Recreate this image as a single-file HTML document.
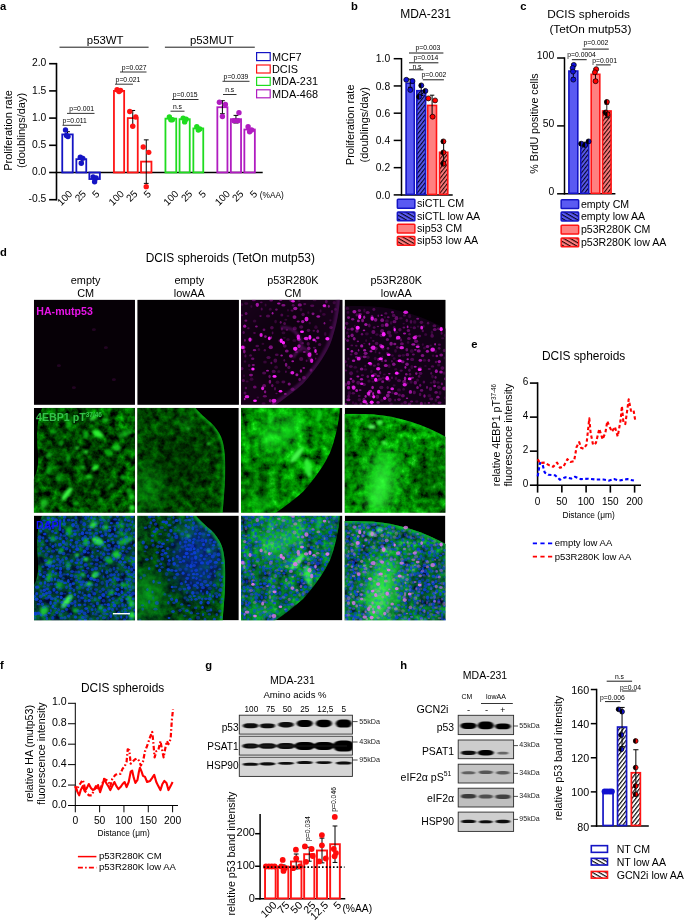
<!DOCTYPE html>
<html><head><meta charset="utf-8"><title>Figure</title>
<style>
html,body{margin:0;padding:0;background:#fff;}
svg{display:block;font-family:"Liberation Sans", sans-serif;}
</style></head><body>
<svg width="685" height="924" viewBox="0 0 685 924">
<defs>
<pattern id="hb" width="3.0" height="3.0" patternUnits="userSpaceOnUse" patternTransform="rotate(-52)"><rect width="3.0" height="3.0" fill="#5a5af2"/><rect width="3.0" height="1.15" fill="#06062a"/></pattern>
<pattern id="hr" width="3.0" height="3.0" patternUnits="userSpaceOnUse" patternTransform="rotate(-52)"><rect width="3.0" height="3.0" fill="#ff8080"/><rect width="3.0" height="1.15" fill="#2a0606"/></pattern>
<pattern id="hbl" width="3.3" height="3.3" patternUnits="userSpaceOnUse" patternTransform="rotate(30)"><rect width="3.3" height="3.3" fill="#5a5af2"/><rect width="3.3" height="1.15" fill="#06062a"/></pattern>
<pattern id="hrl" width="3.3" height="3.3" patternUnits="userSpaceOnUse" patternTransform="rotate(30)"><rect width="3.3" height="3.3" fill="#ff8080"/><rect width="3.3" height="1.15" fill="#2a0606"/></pattern>
<pattern id="hw" width="3.1" height="3.1" patternUnits="userSpaceOnUse" patternTransform="rotate(-52)"><rect width="3.1" height="3.1" fill="#fff"/><rect width="3.1" height="1.2" fill="#111"/></pattern>
<pattern id="hwl" width="3.3" height="3.3" patternUnits="userSpaceOnUse" patternTransform="rotate(30)"><rect width="3.3" height="3.3" fill="#fff"/><rect width="3.3" height="1.2" fill="#111"/></pattern>
<clipPath id="sh0"><path d="M9,-1 C4,8 2,25 4,45 C5,58 3,66 -1,72 L-1,107 L103,107 L103,-1 Z"/></clipPath><clipPath id="tc0"><rect x="0" y="0" width="101.0" height="106"/></clipPath><clipPath id="sh1"><path d="M-1,-1 L57,-1 C62,5 69,11 73.5,15 C78,19 82,25 84,30 C86.5,36 87.6,45 88,58 C88,75 86.5,90 85,107 L-1,107 Z"/></clipPath><clipPath id="tc1"><rect x="0" y="0" width="101.4" height="106"/></clipPath><clipPath id="sh2"><path d="M-1,-1 L99,-1 C98,15 94,32 89,45 C83,58 72,73 62,84 C52,93 42,100 32,107 L-1,107 Z"/></clipPath><clipPath id="tc2"><rect x="0" y="0" width="101.4" height="106"/></clipPath><clipPath id="sh3"><path d="M-1,6 C15,6 28,6.5 37,7.5 C48,9 58,11.5 66,14 C80,18.5 92,24 103,30 L103,107 L-1,107 Z"/></clipPath><clipPath id="tc3"><rect x="0" y="0" width="100.7" height="106"/></clipPath><filter id="gt0" x="0" y="0" width="100%" height="100%" filterUnits="objectBoundingBox" color-interpolation-filters="sRGB"><feTurbulence type="fractalNoise" baseFrequency="0.12" numOctaves="4" seed="7"/><feColorMatrix type="matrix" values="1.25 0 0 0 -0.3  1.25 0 0 0 -0.3  1.25 0 0 0 -0.3  0 0 0 0 1"/><feComponentTransfer><feFuncR type="table" tableValues="0 0 0 0.01 0.05 0.2"/><feFuncG type="table" tableValues="0 0.2 0.4 0.6 0.8 1"/><feFuncB type="table" tableValues="0 0 0 0.01 0.05 0.2"/></feComponentTransfer></filter><filter id="gt1" x="0" y="0" width="100%" height="100%" filterUnits="objectBoundingBox" color-interpolation-filters="sRGB"><feTurbulence type="fractalNoise" baseFrequency="0.14" numOctaves="4" seed="21"/><feColorMatrix type="matrix" values="0.75 0 0 0 -0.1  0.75 0 0 0 -0.1  0.75 0 0 0 -0.1  0 0 0 0 1"/><feComponentTransfer><feFuncR type="table" tableValues="0 0 0 0.01 0.05 0.2"/><feFuncG type="table" tableValues="0 0.2 0.4 0.6 0.8 1"/><feFuncB type="table" tableValues="0 0 0 0.01 0.05 0.2"/></feComponentTransfer></filter><filter id="gt2" x="0" y="0" width="100%" height="100%" filterUnits="objectBoundingBox" color-interpolation-filters="sRGB"><feTurbulence type="fractalNoise" baseFrequency="0.11" numOctaves="4" seed="33"/><feColorMatrix type="matrix" values="1.3 0 0 0 -0.17  1.3 0 0 0 -0.17  1.3 0 0 0 -0.17  0 0 0 0 1"/><feComponentTransfer><feFuncR type="table" tableValues="0 0 0 0.01 0.05 0.2"/><feFuncG type="table" tableValues="0 0.3 0.5 0.66 0.82 1"/><feFuncB type="table" tableValues="0 0 0 0.01 0.05 0.2"/></feComponentTransfer></filter><filter id="gt3" x="0" y="0" width="100%" height="100%" filterUnits="objectBoundingBox" color-interpolation-filters="sRGB"><feTurbulence type="fractalNoise" baseFrequency="0.12" numOctaves="4" seed="45"/><feColorMatrix type="matrix" values="1.4 0 0 0 -0.24  1.4 0 0 0 -0.24  1.4 0 0 0 -0.24  0 0 0 0 1"/><feComponentTransfer><feFuncR type="table" tableValues="0 0 0 0.01 0.05 0.2"/><feFuncG type="table" tableValues="0 0.3 0.5 0.66 0.82 1"/><feFuncB type="table" tableValues="0 0 0 0.01 0.05 0.2"/></feComponentTransfer></filter><filter id="bl2" x="-50%" y="-50%" width="200%" height="200%"><feGaussianBlur stdDeviation="0.8"/></filter><filter id="bl4" x="-50%" y="-50%" width="200%" height="200%"><feGaussianBlur stdDeviation="4"/></filter><filter id="bl8" x="-50%" y="-50%" width="200%" height="200%"><feGaussianBlur stdDeviation="9"/></filter><filter id="bl05" x="-20%" y="-20%" width="140%" height="140%"><feGaussianBlur stdDeviation="0.45"/></filter><g id="mn2"><g opacity="0.25"><ellipse cx="62.9" cy="77.9" rx="1.9" ry="1.9"/><ellipse cx="91.0" cy="11.9" rx="1.1" ry="1.6"/><ellipse cx="71.2" cy="6.0" rx="2.1" ry="1.3"/><ellipse cx="85.3" cy="1.9" rx="1.4" ry="1.9"/><ellipse cx="35.8" cy="55.1" rx="1.9" ry="1.2"/><ellipse cx="31.6" cy="33.3" rx="0.9" ry="1.4"/><ellipse cx="40.8" cy="15.4" rx="1.5" ry="1.5"/><ellipse cx="65.6" cy="61.0" rx="1.0" ry="1.2"/><ellipse cx="67.2" cy="44.2" rx="1.6" ry="1.8"/><ellipse cx="16.2" cy="46.3" rx="1.8" ry="1.2"/><ellipse cx="63.7" cy="4.4" rx="1.6" ry="1.1"/><ellipse cx="13.5" cy="33.3" rx="1.4" ry="0.9"/><ellipse cx="40.9" cy="29.2" rx="1.0" ry="1.6"/><ellipse cx="34.3" cy="61.0" rx="1.9" ry="2.1"/><ellipse cx="60.2" cy="59.2" rx="2.1" ry="2.0"/><ellipse cx="35.5" cy="93.8" rx="1.2" ry="0.8"/><ellipse cx="62.1" cy="14.8" rx="1.7" ry="1.8"/><ellipse cx="43.6" cy="23.8" rx="1.4" ry="1.5"/><ellipse cx="60.2" cy="27.3" rx="2.1" ry="1.7"/><ellipse cx="32.2" cy="103.3" rx="1.2" ry="1.6"/><ellipse cx="53.8" cy="28.7" rx="2.0" ry="1.9"/><ellipse cx="27.0" cy="16.3" rx="2.1" ry="1.5"/><ellipse cx="47.9" cy="67.7" rx="1.6" ry="1.7"/><ellipse cx="53.5" cy="48.8" rx="1.5" ry="1.4"/><ellipse cx="78.6" cy="44.9" rx="1.7" ry="1.5"/><ellipse cx="55.5" cy="52.3" rx="1.5" ry="1.0"/><ellipse cx="4.9" cy="88.4" rx="1.2" ry="1.4"/><ellipse cx="61.7" cy="43.5" rx="1.3" ry="1.1"/><ellipse cx="4.0" cy="93.4" rx="1.5" ry="1.6"/><ellipse cx="23.8" cy="50.6" rx="1.2" ry="1.2"/><ellipse cx="67.5" cy="30.6" rx="1.8" ry="1.6"/><ellipse cx="20.3" cy="2.6" rx="1.4" ry="0.9"/><ellipse cx="43.3" cy="60.6" rx="0.9" ry="1.4"/><ellipse cx="9.6" cy="55.7" rx="1.4" ry="1.2"/><ellipse cx="43.8" cy="46.3" rx="1.9" ry="1.8"/><ellipse cx="32.7" cy="71.7" rx="2.0" ry="1.7"/><ellipse cx="2.7" cy="32.8" rx="1.2" ry="1.5"/><ellipse cx="70.0" cy="70.4" rx="1.5" ry="1.7"/><ellipse cx="30.9" cy="28.1" rx="1.8" ry="1.7"/><ellipse cx="23.1" cy="73.2" rx="2.0" ry="1.5"/><ellipse cx="72.8" cy="31.1" rx="1.3" ry="1.0"/><ellipse cx="34.0" cy="89.0" rx="1.0" ry="1.7"/><ellipse cx="7.4" cy="28.5" rx="1.3" ry="1.0"/><ellipse cx="52.2" cy="5.6" rx="1.4" ry="1.4"/><ellipse cx="69.4" cy="53.3" rx="1.2" ry="0.9"/><ellipse cx="2.4" cy="80.8" rx="1.6" ry="1.5"/><ellipse cx="74.7" cy="58.9" rx="0.7" ry="1.2"/><ellipse cx="20.7" cy="9.3" rx="1.0" ry="1.5"/><ellipse cx="42.4" cy="82.3" rx="2.0" ry="1.4"/><ellipse cx="89.9" cy="27.8" rx="1.8" ry="1.5"/><ellipse cx="51.1" cy="10.9" rx="1.6" ry="1.1"/><ellipse cx="27.5" cy="57.8" rx="2.1" ry="1.6"/><ellipse cx="4.4" cy="56.2" rx="1.1" ry="1.6"/><ellipse cx="1.0" cy="68.9" rx="1.5" ry="1.7"/><ellipse cx="44.9" cy="72.0" rx="0.9" ry="1.3"/><ellipse cx="0.7" cy="15.6" rx="1.6" ry="1.0"/><ellipse cx="8.2" cy="65.8" rx="1.3" ry="1.5"/><ellipse cx="51.5" cy="89.6" rx="2.0" ry="1.7"/><ellipse cx="73.4" cy="48.1" rx="1.5" ry="1.0"/><ellipse cx="45.9" cy="30.1" rx="1.2" ry="1.1"/></g><g opacity="0.15"><ellipse cx="93.2" cy="3.0" rx="1.6" ry="1.6"/><ellipse cx="58.0" cy="1.4" rx="1.4" ry="1.0"/><ellipse cx="0.9" cy="4.9" rx="1.3" ry="1.4"/><ellipse cx="24.0" cy="62.4" rx="1.9" ry="1.5"/><ellipse cx="79.6" cy="11.2" rx="1.0" ry="1.6"/><ellipse cx="36.5" cy="82.5" rx="1.9" ry="1.7"/><ellipse cx="35.1" cy="67.6" rx="1.9" ry="1.7"/><ellipse cx="47.0" cy="39.9" rx="1.8" ry="1.5"/><ellipse cx="38.9" cy="41.1" rx="2.0" ry="1.3"/><ellipse cx="83.8" cy="6.9" rx="2.0" ry="1.7"/><ellipse cx="10.9" cy="39.8" rx="0.8" ry="1.3"/><ellipse cx="8.6" cy="70.1" rx="1.3" ry="0.8"/><ellipse cx="3.0" cy="76.1" rx="0.8" ry="1.2"/><ellipse cx="68.8" cy="23.4" rx="1.3" ry="1.3"/><ellipse cx="82.9" cy="14.7" rx="1.8" ry="1.3"/><ellipse cx="47.0" cy="10.5" rx="0.9" ry="1.3"/><ellipse cx="6.1" cy="81.8" rx="1.6" ry="1.0"/><ellipse cx="24.6" cy="5.3" rx="1.0" ry="1.6"/><ellipse cx="5.2" cy="3.9" rx="2.1" ry="1.4"/><ellipse cx="42.5" cy="33.0" rx="1.9" ry="1.5"/><ellipse cx="43.3" cy="38.1" rx="1.5" ry="0.9"/><ellipse cx="10.6" cy="79.6" rx="1.9" ry="1.7"/><ellipse cx="10.4" cy="6.8" rx="1.0" ry="1.4"/><ellipse cx="37.8" cy="71.8" rx="1.6" ry="1.6"/><ellipse cx="50.4" cy="73.2" rx="1.9" ry="1.6"/><ellipse cx="94.3" cy="9.6" rx="1.4" ry="1.5"/><ellipse cx="21.9" cy="44.2" rx="1.4" ry="1.1"/><ellipse cx="67.3" cy="13.0" rx="1.1" ry="1.4"/><ellipse cx="89.4" cy="20.6" rx="1.2" ry="1.1"/><ellipse cx="16.8" cy="97.8" rx="1.3" ry="1.0"/><ellipse cx="53.4" cy="40.8" rx="2.0" ry="1.5"/><ellipse cx="74.9" cy="27.5" rx="1.7" ry="1.9"/><ellipse cx="4.0" cy="61.8" rx="1.2" ry="1.3"/><ellipse cx="47.0" cy="16.3" rx="1.4" ry="1.0"/><ellipse cx="13.6" cy="21.3" rx="1.8" ry="1.6"/><ellipse cx="73.6" cy="0.1" rx="2.0" ry="1.5"/><ellipse cx="34.3" cy="76.8" rx="1.7" ry="1.5"/><ellipse cx="65.8" cy="40.4" rx="1.8" ry="1.2"/><ellipse cx="44.8" cy="20.0" rx="1.5" ry="1.0"/><ellipse cx="84.2" cy="34.2" rx="1.3" ry="2.0"/><ellipse cx="60.0" cy="9.9" rx="1.4" ry="1.9"/><ellipse cx="29.3" cy="9.5" rx="1.4" ry="1.5"/><ellipse cx="34.6" cy="21.9" rx="1.4" ry="1.8"/><ellipse cx="17.9" cy="49.8" rx="1.3" ry="1.5"/><ellipse cx="22.6" cy="103.8" rx="1.9" ry="1.3"/></g><g opacity="0.6"><ellipse cx="77.3" cy="16.8" rx="1.9" ry="1.3"/><ellipse cx="3.7" cy="99.3" rx="0.9" ry="1.3"/><ellipse cx="16.3" cy="5.1" rx="1.7" ry="2.1"/><ellipse cx="76.7" cy="38.2" rx="1.8" ry="1.3"/><ellipse cx="37.8" cy="3.8" rx="1.8" ry="1.1"/><ellipse cx="3.7" cy="26.5" rx="1.6" ry="1.6"/><ellipse cx="40.6" cy="55.8" rx="1.3" ry="0.9"/><ellipse cx="57.7" cy="39.5" rx="1.8" ry="1.6"/><ellipse cx="31.6" cy="13.6" rx="0.9" ry="1.3"/><ellipse cx="58.0" cy="46.4" rx="1.7" ry="1.9"/><ellipse cx="26.5" cy="71.0" rx="1.5" ry="0.9"/><ellipse cx="51.7" cy="61.6" rx="1.4" ry="1.0"/><ellipse cx="59.9" cy="71.3" rx="1.2" ry="1.7"/><ellipse cx="61.7" cy="21.9" rx="1.7" ry="1.6"/><ellipse cx="55.9" cy="75.1" rx="1.5" ry="1.5"/><ellipse cx="49.9" cy="56.3" rx="2.0" ry="1.7"/><ellipse cx="54.3" cy="8.8" rx="2.1" ry="1.7"/></g><g opacity="0.35"><ellipse cx="12.8" cy="0.2" rx="2.0" ry="1.4"/><ellipse cx="30.4" cy="63.3" rx="1.0" ry="1.2"/><ellipse cx="31.3" cy="85.9" rx="1.2" ry="1.6"/><ellipse cx="76.8" cy="31.6" rx="1.2" ry="1.7"/><ellipse cx="23.2" cy="86.1" rx="1.9" ry="1.7"/><ellipse cx="75.8" cy="54.3" rx="1.3" ry="0.9"/><ellipse cx="13.8" cy="87.3" rx="1.8" ry="1.6"/><ellipse cx="28.6" cy="76.9" rx="1.2" ry="1.8"/><ellipse cx="35.4" cy="9.9" rx="1.3" ry="1.2"/><ellipse cx="4.9" cy="21.0" rx="1.5" ry="1.1"/><ellipse cx="5.1" cy="13.7" rx="1.4" ry="1.5"/><ellipse cx="39.7" cy="22.6" rx="1.0" ry="1.4"/><ellipse cx="58.6" cy="79.8" rx="1.3" ry="1.8"/><ellipse cx="11.7" cy="59.1" rx="1.7" ry="1.2"/><ellipse cx="19.5" cy="16.4" rx="1.3" ry="0.8"/><ellipse cx="23.9" cy="96.6" rx="2.0" ry="1.3"/><ellipse cx="3.9" cy="40.5" rx="0.9" ry="1.5"/><ellipse cx="30.2" cy="0.2" rx="1.9" ry="1.5"/><ellipse cx="49.9" cy="0.1" rx="1.7" ry="1.9"/><ellipse cx="23.0" cy="30.0" rx="1.4" ry="1.3"/></g><g opacity="0.45"><ellipse cx="29.2" cy="101.0" rx="1.5" ry="1.7"/><ellipse cx="30.2" cy="37.9" rx="0.9" ry="1.3"/><ellipse cx="3.3" cy="51.8" rx="1.3" ry="2.0"/><ellipse cx="29.8" cy="47.6" rx="2.1" ry="2.0"/><ellipse cx="45.8" cy="51.3" rx="1.9" ry="1.5"/><ellipse cx="63.3" cy="52.4" rx="1.5" ry="1.0"/><ellipse cx="67.8" cy="48.6" rx="1.7" ry="1.9"/><ellipse cx="53.5" cy="17.4" rx="2.0" ry="1.9"/><ellipse cx="12.3" cy="65.3" rx="1.6" ry="1.1"/><ellipse cx="28.9" cy="82.0" rx="1.3" ry="2.0"/><ellipse cx="72.0" cy="14.1" rx="1.5" ry="1.4"/><ellipse cx="24.1" cy="92.1" rx="1.2" ry="1.6"/><ellipse cx="74.8" cy="41.5" rx="0.8" ry="1.3"/><ellipse cx="15.4" cy="26.7" rx="1.4" ry="1.0"/><ellipse cx="83.5" cy="23.5" rx="0.9" ry="1.3"/><ellipse cx="42.4" cy="5.5" rx="2.1" ry="1.3"/><ellipse cx="24.4" cy="36.9" rx="1.4" ry="1.4"/><ellipse cx="10.0" cy="75.4" rx="2.0" ry="1.4"/><ellipse cx="39.7" cy="0.3" rx="1.6" ry="1.0"/><ellipse cx="13.5" cy="50.5" rx="1.8" ry="1.1"/><ellipse cx="57.2" cy="21.8" rx="1.6" ry="1.0"/><ellipse cx="44.3" cy="94.2" rx="1.4" ry="0.9"/><ellipse cx="62.8" cy="68.3" rx="1.4" ry="0.9"/><ellipse cx="58.8" cy="5.2" rx="2.1" ry="1.6"/><ellipse cx="87.8" cy="6.6" rx="1.0" ry="1.5"/><ellipse cx="45.1" cy="65.1" rx="1.3" ry="2.0"/><ellipse cx="2.7" cy="47.8" rx="1.7" ry="1.9"/><ellipse cx="48.2" cy="84.3" rx="1.6" ry="1.6"/></g><g opacity="0.85"><ellipse cx="65.5" cy="19.4" rx="2.0" ry="2.3"/><ellipse cx="57.3" cy="37.2" rx="1.7" ry="2.4"/><ellipse cx="20.1" cy="35.3" rx="1.6" ry="1.9"/><ellipse cx="68.5" cy="55.1" rx="2.0" ry="2.3"/><ellipse cx="70.7" cy="61.0" rx="1.6" ry="2.3"/><ellipse cx="51.4" cy="73.0" rx="1.9" ry="1.8"/><ellipse cx="21.6" cy="88.6" rx="1.5" ry="1.9"/><ellipse cx="1.5" cy="47.6" rx="1.7" ry="1.9"/><ellipse cx="83.4" cy="6.0" rx="1.8" ry="1.4"/><ellipse cx="52.1" cy="1.5" rx="1.8" ry="1.2"/><ellipse cx="74.5" cy="51.4" rx="1.3" ry="2.0"/><ellipse cx="65.1" cy="38.7" rx="2.3" ry="1.6"/><ellipse cx="73.0" cy="40.2" rx="1.7" ry="1.3"/><ellipse cx="9.0" cy="40.0" rx="1.6" ry="2.1"/><ellipse cx="6.0" cy="97.0" rx="2.3" ry="1.6"/><ellipse cx="33.0" cy="101.0" rx="2.4" ry="2.0"/></g><g><ellipse cx="61.0" cy="32.0" rx="2.0" ry="1.3"/><ellipse cx="40.2" cy="41.0" rx="1.6" ry="2.3"/><ellipse cx="54.3" cy="49.1" rx="2.2" ry="2.1"/><ellipse cx="11.9" cy="69.2" rx="1.7" ry="1.5"/><ellipse cx="33.5" cy="76.7" rx="2.0" ry="1.4"/><ellipse cx="39.5" cy="91.6" rx="1.8" ry="1.2"/><ellipse cx="86.4" cy="39.0" rx="2.1" ry="1.8"/><ellipse cx="68.9" cy="37.7" rx="1.5" ry="2.3"/><ellipse cx="28.3" cy="38.7" rx="1.4" ry="1.8"/><ellipse cx="42.4" cy="43.0" rx="1.7" ry="1.8"/><ellipse cx="14.0" cy="101.0" rx="1.9" ry="1.3"/></g></g><g id="mn3"><g opacity="0.15"><ellipse cx="3.3" cy="12.8" rx="1.4" ry="1.4"/><ellipse cx="11.1" cy="104.5" rx="1.8" ry="1.9"/><ellipse cx="79.0" cy="26.8" rx="1.0" ry="1.4"/><ellipse cx="37.2" cy="100.5" rx="1.6" ry="1.5"/><ellipse cx="86.4" cy="83.0" rx="1.5" ry="1.0"/><ellipse cx="59.0" cy="23.9" rx="1.2" ry="0.9"/><ellipse cx="20.7" cy="69.8" rx="1.7" ry="1.2"/><ellipse cx="30.5" cy="58.8" rx="1.5" ry="1.7"/><ellipse cx="19.7" cy="10.7" rx="1.2" ry="2.0"/><ellipse cx="51.0" cy="69.5" rx="1.5" ry="1.3"/><ellipse cx="72.9" cy="80.4" rx="1.6" ry="1.6"/><ellipse cx="57.2" cy="104.1" rx="1.5" ry="1.3"/><ellipse cx="72.1" cy="101.9" rx="1.6" ry="1.3"/><ellipse cx="26.2" cy="38.2" rx="1.2" ry="0.8"/><ellipse cx="99.7" cy="58.2" rx="0.9" ry="1.5"/><ellipse cx="4.6" cy="93.3" rx="1.8" ry="2.0"/><ellipse cx="91.0" cy="51.6" rx="1.2" ry="1.9"/><ellipse cx="87.4" cy="50.7" rx="2.0" ry="1.4"/><ellipse cx="28.2" cy="82.0" rx="1.6" ry="1.1"/><ellipse cx="46.4" cy="23.2" rx="1.3" ry="1.8"/><ellipse cx="50.8" cy="51.2" rx="1.4" ry="1.8"/><ellipse cx="94.0" cy="65.3" rx="1.7" ry="1.6"/><ellipse cx="19.5" cy="43.8" rx="1.3" ry="0.8"/><ellipse cx="66.2" cy="27.5" rx="1.3" ry="0.8"/><ellipse cx="23.3" cy="57.6" rx="1.7" ry="1.7"/><ellipse cx="63.4" cy="42.8" rx="1.3" ry="1.4"/><ellipse cx="49.5" cy="85.7" rx="1.5" ry="1.1"/><ellipse cx="67.1" cy="67.4" rx="1.5" ry="2.1"/><ellipse cx="12.6" cy="71.8" rx="1.2" ry="1.3"/><ellipse cx="79.7" cy="60.5" rx="1.8" ry="1.5"/><ellipse cx="47.7" cy="92.9" rx="1.3" ry="1.6"/><ellipse cx="79.8" cy="48.3" rx="1.6" ry="1.6"/><ellipse cx="67.1" cy="51.3" rx="2.0" ry="2.0"/><ellipse cx="10.2" cy="26.3" rx="0.9" ry="1.3"/><ellipse cx="80.7" cy="66.2" rx="1.3" ry="0.9"/><ellipse cx="56.1" cy="18.5" rx="1.7" ry="1.3"/><ellipse cx="44.4" cy="66.4" rx="1.6" ry="2.0"/><ellipse cx="14.7" cy="100.0" rx="1.8" ry="1.8"/><ellipse cx="73.3" cy="45.1" rx="1.6" ry="1.2"/><ellipse cx="38.4" cy="49.0" rx="1.6" ry="1.7"/><ellipse cx="22.8" cy="93.8" rx="1.6" ry="1.4"/><ellipse cx="26.8" cy="71.8" rx="1.3" ry="1.8"/><ellipse cx="30.9" cy="52.2" rx="0.9" ry="1.3"/><ellipse cx="51.3" cy="78.6" rx="1.2" ry="1.9"/><ellipse cx="95.3" cy="93.2" rx="1.5" ry="2.1"/><ellipse cx="22.1" cy="34.1" rx="2.0" ry="1.6"/><ellipse cx="66.4" cy="82.1" rx="1.6" ry="1.9"/><ellipse cx="27.7" cy="78.3" rx="1.7" ry="1.4"/><ellipse cx="91.2" cy="100.4" rx="1.4" ry="1.9"/><ellipse cx="21.4" cy="40.8" rx="1.0" ry="1.6"/><ellipse cx="58.6" cy="55.6" rx="1.7" ry="1.4"/><ellipse cx="47.7" cy="55.8" rx="1.4" ry="1.3"/><ellipse cx="52.4" cy="61.4" rx="1.6" ry="1.1"/><ellipse cx="24.3" cy="81.4" rx="1.7" ry="1.7"/><ellipse cx="78.1" cy="44.9" rx="1.0" ry="1.4"/><ellipse cx="8.3" cy="103.0" rx="1.0" ry="1.4"/><ellipse cx="88.4" cy="56.0" rx="1.3" ry="1.2"/><ellipse cx="15.7" cy="57.4" rx="1.7" ry="1.5"/><ellipse cx="84.7" cy="96.1" rx="1.9" ry="1.7"/><ellipse cx="80.9" cy="34.7" rx="1.5" ry="1.5"/><ellipse cx="51.3" cy="32.6" rx="2.0" ry="1.4"/><ellipse cx="87.2" cy="32.8" rx="1.2" ry="1.9"/><ellipse cx="93.3" cy="82.8" rx="1.7" ry="1.3"/><ellipse cx="38.6" cy="78.4" rx="1.8" ry="1.5"/><ellipse cx="87.8" cy="76.9" rx="1.4" ry="1.8"/><ellipse cx="39.7" cy="74.7" rx="1.5" ry="1.0"/><ellipse cx="64.9" cy="16.5" rx="1.5" ry="2.1"/><ellipse cx="2.6" cy="33.2" rx="1.3" ry="1.7"/><ellipse cx="98.0" cy="38.5" rx="1.7" ry="1.0"/><ellipse cx="49.5" cy="59.0" rx="1.5" ry="1.4"/><ellipse cx="32.2" cy="34.9" rx="1.7" ry="1.4"/><ellipse cx="29.2" cy="97.8" rx="1.5" ry="1.1"/><ellipse cx="100.7" cy="98.1" rx="1.3" ry="1.6"/><ellipse cx="10.6" cy="67.6" rx="1.8" ry="1.5"/><ellipse cx="54.3" cy="90.2" rx="2.1" ry="1.6"/><ellipse cx="3.7" cy="59.1" rx="1.1" ry="1.4"/><ellipse cx="2.7" cy="8.7" rx="1.8" ry="1.6"/><ellipse cx="99.5" cy="73.5" rx="1.6" ry="1.6"/><ellipse cx="2.5" cy="65.6" rx="1.0" ry="1.5"/><ellipse cx="80.3" cy="103.6" rx="1.2" ry="1.3"/><ellipse cx="73.4" cy="26.9" rx="1.3" ry="1.1"/><ellipse cx="20.6" cy="66.4" rx="1.1" ry="1.3"/><ellipse cx="100.3" cy="35.7" rx="1.3" ry="1.7"/><ellipse cx="70.0" cy="22.2" rx="1.7" ry="1.9"/><ellipse cx="58.9" cy="89.6" rx="1.4" ry="1.5"/><ellipse cx="85.9" cy="45.9" rx="1.4" ry="1.1"/><ellipse cx="62.4" cy="83.6" rx="1.2" ry="1.4"/><ellipse cx="40.2" cy="17.5" rx="0.8" ry="1.2"/><ellipse cx="25.6" cy="96.6" rx="1.8" ry="1.3"/><ellipse cx="42.2" cy="21.4" rx="2.0" ry="1.9"/><ellipse cx="37.7" cy="57.4" rx="0.9" ry="1.4"/><ellipse cx="46.4" cy="104.3" rx="1.8" ry="1.4"/><ellipse cx="88.9" cy="104.8" rx="1.5" ry="1.6"/></g><g opacity="0.25"><ellipse cx="17.7" cy="75.6" rx="1.6" ry="1.0"/><ellipse cx="85.8" cy="89.3" rx="1.7" ry="1.9"/><ellipse cx="56.3" cy="40.2" rx="1.2" ry="1.7"/><ellipse cx="74.9" cy="36.4" rx="1.6" ry="1.3"/><ellipse cx="35.5" cy="73.0" rx="1.1" ry="1.8"/><ellipse cx="49.0" cy="15.7" rx="1.8" ry="1.6"/><ellipse cx="54.3" cy="80.9" rx="2.1" ry="1.7"/><ellipse cx="96.9" cy="33.5" rx="1.0" ry="1.6"/><ellipse cx="93.8" cy="29.1" rx="1.5" ry="1.4"/><ellipse cx="67.4" cy="59.7" rx="2.0" ry="1.6"/><ellipse cx="29.6" cy="66.0" rx="1.6" ry="1.1"/><ellipse cx="44.4" cy="80.4" rx="1.6" ry="1.7"/><ellipse cx="31.0" cy="48.9" rx="2.0" ry="1.9"/><ellipse cx="52.6" cy="47.6" rx="1.4" ry="1.5"/><ellipse cx="1.0" cy="70.8" rx="1.5" ry="1.0"/><ellipse cx="8.6" cy="93.5" rx="1.7" ry="1.2"/><ellipse cx="43.0" cy="87.9" rx="1.2" ry="1.7"/><ellipse cx="6.4" cy="54.8" rx="1.4" ry="1.1"/><ellipse cx="32.6" cy="97.1" rx="1.9" ry="2.0"/><ellipse cx="52.1" cy="39.1" rx="1.1" ry="1.4"/><ellipse cx="60.5" cy="102.7" rx="1.8" ry="1.7"/><ellipse cx="76.7" cy="22.6" rx="1.8" ry="1.6"/><ellipse cx="0.2" cy="62.0" rx="1.9" ry="1.6"/><ellipse cx="19.5" cy="84.8" rx="1.7" ry="1.6"/><ellipse cx="91.4" cy="62.3" rx="1.4" ry="1.2"/><ellipse cx="59.7" cy="15.7" rx="1.4" ry="1.2"/><ellipse cx="0.1" cy="39.3" rx="1.4" ry="1.1"/><ellipse cx="56.5" cy="70.9" rx="1.5" ry="1.2"/><ellipse cx="86.5" cy="73.6" rx="1.0" ry="1.5"/><ellipse cx="94.5" cy="48.6" rx="1.4" ry="1.4"/><ellipse cx="14.5" cy="96.2" rx="1.4" ry="1.1"/><ellipse cx="36.6" cy="87.8" rx="2.1" ry="1.8"/><ellipse cx="11.6" cy="46.1" rx="1.3" ry="1.0"/><ellipse cx="86.5" cy="99.3" rx="2.0" ry="1.4"/><ellipse cx="34.8" cy="53.3" rx="1.0" ry="1.3"/><ellipse cx="64.8" cy="34.5" rx="1.2" ry="1.4"/><ellipse cx="24.6" cy="25.9" rx="1.3" ry="2.0"/><ellipse cx="6.4" cy="73.6" rx="1.9" ry="2.1"/><ellipse cx="89.7" cy="26.1" rx="1.9" ry="1.5"/><ellipse cx="55.2" cy="30.0" rx="1.7" ry="1.7"/><ellipse cx="12.1" cy="15.2" rx="1.3" ry="1.7"/><ellipse cx="75.8" cy="73.8" rx="1.9" ry="1.4"/><ellipse cx="3.7" cy="29.6" rx="1.5" ry="1.1"/><ellipse cx="50.4" cy="100.4" rx="0.9" ry="1.3"/><ellipse cx="64.8" cy="104.3" rx="1.8" ry="1.4"/><ellipse cx="89.6" cy="82.1" rx="1.6" ry="1.9"/><ellipse cx="49.5" cy="28.0" rx="1.4" ry="1.4"/><ellipse cx="65.2" cy="74.5" rx="1.3" ry="1.5"/><ellipse cx="87.8" cy="66.7" rx="1.6" ry="1.2"/><ellipse cx="7.1" cy="45.7" rx="1.4" ry="0.9"/><ellipse cx="30.2" cy="74.7" rx="2.0" ry="1.3"/><ellipse cx="87.4" cy="36.2" rx="1.8" ry="1.8"/><ellipse cx="97.7" cy="68.4" rx="2.0" ry="1.8"/><ellipse cx="29.5" cy="27.8" rx="1.4" ry="1.2"/><ellipse cx="78.1" cy="31.2" rx="1.1" ry="1.3"/><ellipse cx="41.1" cy="13.7" rx="1.5" ry="1.2"/><ellipse cx="62.1" cy="20.8" rx="1.2" ry="1.7"/><ellipse cx="75.4" cy="94.8" rx="1.2" ry="1.7"/><ellipse cx="83.4" cy="23.5" rx="1.2" ry="1.4"/><ellipse cx="47.3" cy="78.1" rx="1.1" ry="1.3"/><ellipse cx="29.2" cy="9.8" rx="1.5" ry="1.4"/><ellipse cx="35.2" cy="79.4" rx="2.1" ry="1.7"/><ellipse cx="64.7" cy="70.6" rx="1.3" ry="1.8"/><ellipse cx="3.9" cy="96.7" rx="1.4" ry="2.0"/><ellipse cx="33.6" cy="64.5" rx="1.4" ry="1.5"/><ellipse cx="84.6" cy="69.3" rx="1.6" ry="1.1"/><ellipse cx="8.3" cy="87.0" rx="1.8" ry="1.5"/><ellipse cx="47.2" cy="61.6" rx="0.9" ry="1.3"/><ellipse cx="79.2" cy="82.2" rx="1.3" ry="1.5"/><ellipse cx="42.6" cy="53.7" rx="1.4" ry="1.4"/><ellipse cx="45.0" cy="100.1" rx="2.0" ry="2.1"/><ellipse cx="53.5" cy="73.5" rx="1.4" ry="1.3"/><ellipse cx="27.1" cy="105.0" rx="1.4" ry="1.0"/><ellipse cx="13.5" cy="83.1" rx="1.9" ry="2.0"/><ellipse cx="69.6" cy="92.7" rx="1.5" ry="1.9"/><ellipse cx="94.7" cy="45.0" rx="1.6" ry="1.1"/><ellipse cx="44.2" cy="32.9" rx="2.1" ry="2.1"/><ellipse cx="99.6" cy="50.7" rx="1.5" ry="1.6"/><ellipse cx="45.5" cy="36.0" rx="1.7" ry="1.8"/><ellipse cx="69.6" cy="28.1" rx="1.7" ry="1.5"/><ellipse cx="36.6" cy="35.7" rx="1.9" ry="1.8"/><ellipse cx="0.5" cy="84.8" rx="1.8" ry="2.0"/><ellipse cx="54.6" cy="95.3" rx="1.6" ry="1.4"/><ellipse cx="66.3" cy="22.1" rx="1.3" ry="1.9"/><ellipse cx="94.2" cy="87.5" rx="1.8" ry="1.8"/><ellipse cx="37.8" cy="25.7" rx="1.7" ry="1.6"/><ellipse cx="31.9" cy="43.7" rx="1.8" ry="1.7"/><ellipse cx="6.1" cy="66.9" rx="2.0" ry="1.3"/><ellipse cx="16.2" cy="104.3" rx="1.4" ry="1.5"/><ellipse cx="74.4" cy="76.7" rx="1.3" ry="1.4"/><ellipse cx="2.0" cy="23.6" rx="1.7" ry="1.6"/><ellipse cx="75.2" cy="68.6" rx="2.0" ry="1.7"/><ellipse cx="28.6" cy="41.2" rx="1.2" ry="0.9"/><ellipse cx="54.8" cy="56.0" rx="1.7" ry="1.2"/></g><g opacity="0.35"><ellipse cx="26.3" cy="48.0" rx="1.3" ry="0.8"/><ellipse cx="27.3" cy="17.0" rx="1.5" ry="1.6"/><ellipse cx="8.5" cy="81.6" rx="1.5" ry="1.8"/><ellipse cx="31.8" cy="80.7" rx="2.0" ry="1.5"/><ellipse cx="62.7" cy="55.0" rx="1.8" ry="1.6"/><ellipse cx="49.8" cy="22.0" rx="2.0" ry="1.6"/><ellipse cx="62.1" cy="50.0" rx="1.4" ry="1.8"/><ellipse cx="33.2" cy="26.8" rx="1.2" ry="0.7"/><ellipse cx="23.1" cy="76.8" rx="1.3" ry="1.6"/><ellipse cx="19.3" cy="99.7" rx="1.5" ry="1.6"/><ellipse cx="91.4" cy="92.7" rx="1.8" ry="1.3"/><ellipse cx="43.6" cy="17.5" rx="1.4" ry="1.0"/><ellipse cx="68.7" cy="54.9" rx="1.5" ry="1.0"/><ellipse cx="37.4" cy="61.2" rx="1.2" ry="0.9"/><ellipse cx="42.7" cy="39.9" rx="1.6" ry="1.5"/><ellipse cx="71.4" cy="41.6" rx="2.1" ry="1.8"/><ellipse cx="43.3" cy="48.6" rx="1.3" ry="1.4"/><ellipse cx="97.2" cy="84.2" rx="1.1" ry="1.3"/><ellipse cx="34.8" cy="93.3" rx="2.0" ry="1.3"/><ellipse cx="17.3" cy="34.6" rx="1.2" ry="1.3"/><ellipse cx="75.5" cy="85.6" rx="1.1" ry="1.5"/><ellipse cx="59.5" cy="82.1" rx="1.9" ry="2.1"/><ellipse cx="82.3" cy="87.6" rx="1.0" ry="1.6"/><ellipse cx="11.8" cy="57.4" rx="1.5" ry="1.2"/><ellipse cx="15.3" cy="14.6" rx="1.9" ry="1.3"/><ellipse cx="33.6" cy="76.2" rx="1.8" ry="1.2"/><ellipse cx="33.6" cy="16.0" rx="0.8" ry="1.3"/><ellipse cx="66.9" cy="101.7" rx="1.6" ry="1.0"/><ellipse cx="90.1" cy="29.9" rx="1.9" ry="1.5"/><ellipse cx="23.0" cy="12.7" rx="2.0" ry="1.5"/><ellipse cx="51.7" cy="18.5" rx="1.8" ry="2.1"/><ellipse cx="58.2" cy="96.0" rx="1.9" ry="1.8"/><ellipse cx="33.8" cy="59.7" rx="1.4" ry="1.7"/><ellipse cx="57.2" cy="44.1" rx="1.9" ry="1.5"/><ellipse cx="84.2" cy="60.8" rx="1.3" ry="1.4"/><ellipse cx="63.7" cy="30.8" rx="1.7" ry="1.6"/><ellipse cx="90.9" cy="77.7" rx="1.1" ry="1.3"/><ellipse cx="94.8" cy="103.0" rx="2.0" ry="1.2"/><ellipse cx="12.2" cy="31.2" rx="1.7" ry="1.8"/><ellipse cx="76.9" cy="90.7" rx="1.7" ry="1.4"/><ellipse cx="37.4" cy="31.2" rx="2.0" ry="2.0"/><ellipse cx="54.3" cy="99.9" rx="1.8" ry="1.3"/><ellipse cx="14.7" cy="10.9" rx="1.6" ry="1.3"/><ellipse cx="33.4" cy="69.6" rx="1.5" ry="1.0"/><ellipse cx="11.3" cy="53.7" rx="1.8" ry="1.6"/><ellipse cx="47.8" cy="12.6" rx="1.4" ry="1.2"/><ellipse cx="70.6" cy="83.0" rx="1.7" ry="1.9"/><ellipse cx="3.0" cy="40.9" rx="1.5" ry="1.4"/><ellipse cx="64.2" cy="38.9" rx="1.8" ry="1.5"/><ellipse cx="76.7" cy="104.0" rx="1.5" ry="1.9"/><ellipse cx="100.6" cy="79.0" rx="1.4" ry="1.5"/><ellipse cx="59.2" cy="27.7" rx="1.4" ry="1.0"/><ellipse cx="28.7" cy="32.2" rx="2.0" ry="2.0"/></g><g opacity="0.6"><ellipse cx="59.8" cy="33.8" rx="1.6" ry="1.1"/><ellipse cx="20.9" cy="96.7" rx="1.1" ry="1.3"/><ellipse cx="60.7" cy="67.7" rx="1.0" ry="1.3"/><ellipse cx="28.4" cy="94.0" rx="1.1" ry="1.6"/><ellipse cx="6.2" cy="79.2" rx="1.4" ry="1.1"/><ellipse cx="90.4" cy="44.5" rx="0.8" ry="1.2"/><ellipse cx="24.7" cy="44.4" rx="0.9" ry="1.3"/><ellipse cx="37.0" cy="15.5" rx="1.2" ry="0.8"/><ellipse cx="60.3" cy="78.9" rx="1.2" ry="2.0"/><ellipse cx="22.1" cy="103.9" rx="1.4" ry="1.1"/><ellipse cx="13.2" cy="76.7" rx="1.5" ry="1.0"/><ellipse cx="68.6" cy="44.7" rx="2.0" ry="1.2"/><ellipse cx="9.7" cy="12.0" rx="2.0" ry="1.8"/><ellipse cx="96.3" cy="72.3" rx="1.8" ry="1.5"/><ellipse cx="19.5" cy="17.5" rx="1.1" ry="1.8"/><ellipse cx="65.7" cy="92.2" rx="1.7" ry="1.9"/><ellipse cx="41.1" cy="65.9" rx="2.0" ry="1.5"/><ellipse cx="26.3" cy="51.6" rx="1.6" ry="1.1"/><ellipse cx="44.6" cy="74.1" rx="1.3" ry="0.8"/><ellipse cx="42.0" cy="25.2" rx="2.0" ry="1.9"/><ellipse cx="19.9" cy="50.5" rx="1.5" ry="1.2"/><ellipse cx="21.2" cy="24.7" rx="1.7" ry="1.5"/><ellipse cx="3.3" cy="49.3" rx="1.3" ry="1.0"/><ellipse cx="94.6" cy="61.9" rx="1.6" ry="1.6"/><ellipse cx="7.2" cy="51.6" rx="1.3" ry="1.2"/><ellipse cx="19.3" cy="30.6" rx="1.3" ry="0.9"/><ellipse cx="63.0" cy="59.6" rx="1.2" ry="1.0"/><ellipse cx="91.6" cy="71.5" rx="1.5" ry="1.9"/><ellipse cx="75.6" cy="60.7" rx="1.8" ry="1.4"/><ellipse cx="51.2" cy="93.8" rx="2.0" ry="1.6"/><ellipse cx="62.3" cy="98.5" rx="1.2" ry="0.8"/><ellipse cx="8.9" cy="61.0" rx="1.7" ry="1.2"/><ellipse cx="25.9" cy="64.2" rx="1.8" ry="1.7"/><ellipse cx="12.0" cy="90.8" rx="1.4" ry="1.6"/><ellipse cx="27.9" cy="87.8" rx="1.3" ry="1.7"/><ellipse cx="13.7" cy="21.2" rx="1.4" ry="1.4"/><ellipse cx="25.5" cy="91.6" rx="1.9" ry="1.6"/><ellipse cx="90.0" cy="86.3" rx="1.4" ry="1.3"/><ellipse cx="44.3" cy="92.6" rx="1.8" ry="1.2"/><ellipse cx="70.5" cy="67.0" rx="1.5" ry="1.0"/><ellipse cx="3.8" cy="88.0" rx="1.6" ry="1.9"/><ellipse cx="62.9" cy="27.2" rx="0.9" ry="1.4"/><ellipse cx="82.7" cy="51.6" rx="1.6" ry="1.5"/><ellipse cx="16.8" cy="79.5" rx="1.6" ry="1.3"/><ellipse cx="17.0" cy="46.2" rx="1.6" ry="1.6"/></g><g opacity="0.45"><ellipse cx="74.0" cy="51.2" rx="2.0" ry="1.7"/><ellipse cx="8.0" cy="19.6" rx="1.6" ry="1.3"/><ellipse cx="62.3" cy="64.5" rx="1.8" ry="1.7"/><ellipse cx="71.6" cy="73.9" rx="1.2" ry="1.4"/><ellipse cx="49.1" cy="64.6" rx="1.8" ry="1.8"/><ellipse cx="43.1" cy="95.9" rx="1.9" ry="2.1"/><ellipse cx="77.8" cy="55.8" rx="1.8" ry="1.5"/><ellipse cx="7.4" cy="29.4" rx="1.8" ry="1.7"/><ellipse cx="3.9" cy="36.5" rx="1.0" ry="1.5"/><ellipse cx="3.7" cy="100.0" rx="2.1" ry="1.5"/><ellipse cx="36.1" cy="45.8" rx="1.8" ry="1.7"/><ellipse cx="61.6" cy="74.5" rx="1.3" ry="1.2"/><ellipse cx="33.4" cy="102.7" rx="1.8" ry="1.4"/><ellipse cx="50.1" cy="44.3" rx="1.6" ry="1.2"/><ellipse cx="96.5" cy="55.3" rx="1.9" ry="1.5"/><ellipse cx="3.8" cy="17.9" rx="1.5" ry="1.3"/><ellipse cx="17.9" cy="20.7" rx="1.4" ry="1.9"/><ellipse cx="7.4" cy="35.6" rx="1.6" ry="1.9"/><ellipse cx="46.4" cy="44.1" rx="1.7" ry="2.0"/><ellipse cx="37.5" cy="20.5" rx="1.9" ry="1.9"/><ellipse cx="38.0" cy="82.0" rx="1.5" ry="1.4"/><ellipse cx="0.2" cy="28.0" rx="1.0" ry="1.6"/><ellipse cx="40.9" cy="61.0" rx="1.4" ry="1.3"/><ellipse cx="71.2" cy="36.6" rx="1.8" ry="1.2"/><ellipse cx="9.5" cy="39.0" rx="1.5" ry="1.8"/><ellipse cx="70.6" cy="50.1" rx="1.4" ry="0.9"/><ellipse cx="93.2" cy="97.5" rx="1.7" ry="1.4"/><ellipse cx="73.0" cy="19.0" rx="1.5" ry="1.0"/><ellipse cx="82.8" cy="46.8" rx="1.8" ry="1.6"/><ellipse cx="1.1" cy="104.6" rx="0.9" ry="1.3"/><ellipse cx="19.9" cy="57.1" rx="2.1" ry="1.4"/><ellipse cx="3.9" cy="83.2" rx="1.7" ry="2.1"/><ellipse cx="84.2" cy="103.2" rx="1.3" ry="0.8"/><ellipse cx="15.5" cy="90.4" rx="1.4" ry="0.9"/><ellipse cx="58.0" cy="62.0" rx="1.8" ry="1.5"/><ellipse cx="20.9" cy="53.6" rx="2.0" ry="1.6"/><ellipse cx="92.1" cy="56.3" rx="1.3" ry="1.3"/><ellipse cx="67.7" cy="78.1" rx="1.6" ry="1.0"/><ellipse cx="99.6" cy="88.8" rx="2.0" ry="2.0"/><ellipse cx="72.8" cy="87.8" rx="1.3" ry="1.5"/><ellipse cx="13.9" cy="50.6" rx="0.8" ry="1.3"/><ellipse cx="30.9" cy="20.1" rx="1.8" ry="1.9"/><ellipse cx="16.9" cy="69.4" rx="1.8" ry="1.5"/><ellipse cx="13.2" cy="41.7" rx="1.2" ry="0.8"/><ellipse cx="79.8" cy="96.3" rx="1.2" ry="1.8"/></g><g opacity="0.85"><ellipse cx="27.5" cy="19.0" rx="1.7" ry="2.1"/><ellipse cx="61.0" cy="12.5" rx="2.4" ry="1.8"/><ellipse cx="77.0" cy="28.0" rx="1.4" ry="1.9"/><ellipse cx="53.5" cy="38.0" rx="2.3" ry="1.9"/><ellipse cx="28.5" cy="48.0" rx="2.3" ry="2.2"/><ellipse cx="37.5" cy="47.0" rx="2.1" ry="1.7"/><ellipse cx="57.0" cy="48.0" rx="2.3" ry="1.6"/><ellipse cx="73.0" cy="47.0" rx="2.0" ry="1.3"/><ellipse cx="33.5" cy="69.0" rx="2.2" ry="1.8"/><ellipse cx="47.5" cy="89.0" rx="1.8" ry="1.5"/><ellipse cx="24.0" cy="94.0" rx="1.7" ry="2.1"/><ellipse cx="40.0" cy="98.5" rx="1.6" ry="1.8"/><ellipse cx="17.0" cy="84.0" rx="1.7" ry="1.3"/><ellipse cx="9.0" cy="88.0" rx="1.9" ry="2.1"/><ellipse cx="60.0" cy="85.0" rx="2.2" ry="1.8"/><ellipse cx="88.0" cy="50.0" rx="2.3" ry="2.1"/><ellipse cx="14.0" cy="59.0" rx="2.0" ry="1.9"/><ellipse cx="70.0" cy="38.0" rx="2.2" ry="1.7"/><ellipse cx="20.0" cy="102.0" rx="2.3" ry="1.6"/><ellipse cx="34.0" cy="92.0" rx="1.7" ry="1.9"/></g><g><ellipse cx="96.5" cy="29.5" rx="1.6" ry="2.1"/><ellipse cx="39.0" cy="34.5" rx="1.9" ry="2.3"/><ellipse cx="44.0" cy="55.0" rx="1.9" ry="1.3"/><ellipse cx="36.0" cy="59.0" rx="2.2" ry="1.5"/><ellipse cx="55.0" cy="61.0" rx="2.1" ry="1.5"/><ellipse cx="25.0" cy="63.5" rx="1.8" ry="1.2"/><ellipse cx="52.0" cy="73.5" rx="1.8" ry="1.6"/><ellipse cx="28.0" cy="76.0" rx="1.8" ry="1.3"/><ellipse cx="31.0" cy="80.0" rx="1.6" ry="2.0"/><ellipse cx="42.5" cy="78.5" rx="1.8" ry="2.2"/><ellipse cx="65.0" cy="79.0" rx="1.9" ry="1.5"/><ellipse cx="29.0" cy="97.0" rx="1.5" ry="1.7"/><ellipse cx="15.0" cy="17.0" rx="1.6" ry="2.2"/><ellipse cx="13.0" cy="28.0" rx="2.1" ry="2.0"/><ellipse cx="75.0" cy="70.0" rx="2.0" ry="1.4"/><ellipse cx="50.0" cy="30.0" rx="1.2" ry="1.7"/><ellipse cx="27.0" cy="102.5" rx="2.0" ry="1.8"/></g></g><g id="bn0"><g opacity="0.55"><ellipse cx="26.7" cy="73.5" rx="1.7" ry="1.6"/><ellipse cx="88.5" cy="59.1" rx="1.7" ry="1.6"/><ellipse cx="47.2" cy="6.9" rx="1.8" ry="1.8"/><ellipse cx="49.1" cy="31.3" rx="1.8" ry="1.7"/><ellipse cx="57.2" cy="73.5" rx="1.1" ry="1.6"/><ellipse cx="20.8" cy="99.8" rx="1.6" ry="1.1"/><ellipse cx="62.4" cy="11.0" rx="1.7" ry="1.2"/><ellipse cx="34.3" cy="39.2" rx="1.8" ry="1.1"/><ellipse cx="62.1" cy="14.5" rx="1.8" ry="1.7"/><ellipse cx="10.9" cy="57.5" rx="1.8" ry="1.9"/><ellipse cx="75.0" cy="75.4" rx="1.8" ry="1.9"/><ellipse cx="51.4" cy="70.4" rx="2.0" ry="1.4"/><ellipse cx="84.3" cy="17.3" rx="1.5" ry="1.7"/><ellipse cx="58.2" cy="76.5" rx="1.5" ry="1.3"/><ellipse cx="5.6" cy="38.3" rx="1.7" ry="1.3"/><ellipse cx="80.0" cy="71.4" rx="1.5" ry="1.7"/><ellipse cx="81.6" cy="100.5" rx="1.5" ry="1.6"/><ellipse cx="98.7" cy="91.5" rx="1.8" ry="1.1"/><ellipse cx="57.5" cy="82.6" rx="1.9" ry="1.6"/><ellipse cx="64.0" cy="96.8" rx="2.1" ry="1.6"/><ellipse cx="52.1" cy="56.8" rx="2.0" ry="2.0"/><ellipse cx="48.9" cy="72.6" rx="1.7" ry="1.3"/><ellipse cx="70.1" cy="98.3" rx="2.0" ry="1.5"/><ellipse cx="61.6" cy="7.7" rx="1.7" ry="1.6"/><ellipse cx="76.4" cy="55.1" rx="1.8" ry="2.1"/><ellipse cx="78.5" cy="40.4" rx="1.3" ry="1.8"/><ellipse cx="55.1" cy="6.1" rx="1.6" ry="1.3"/><ellipse cx="70.3" cy="5.2" rx="1.7" ry="1.4"/><ellipse cx="12.6" cy="39.7" rx="2.1" ry="2.1"/><ellipse cx="67.5" cy="42.2" rx="1.5" ry="1.9"/><ellipse cx="61.3" cy="84.2" rx="1.4" ry="1.9"/><ellipse cx="76.7" cy="1.5" rx="1.6" ry="1.3"/><ellipse cx="48.0" cy="38.8" rx="1.9" ry="1.6"/><ellipse cx="74.6" cy="103.1" rx="1.1" ry="1.5"/><ellipse cx="80.2" cy="11.2" rx="1.7" ry="1.3"/><ellipse cx="62.1" cy="99.3" rx="1.8" ry="1.4"/><ellipse cx="48.9" cy="60.0" rx="1.7" ry="1.3"/><ellipse cx="58.8" cy="30.3" rx="1.5" ry="1.9"/><ellipse cx="8.6" cy="29.4" rx="1.5" ry="1.2"/><ellipse cx="66.2" cy="24.2" rx="1.6" ry="1.0"/><ellipse cx="65.3" cy="58.7" rx="2.1" ry="1.6"/><ellipse cx="76.7" cy="97.8" rx="1.6" ry="1.1"/><ellipse cx="16.3" cy="29.3" rx="1.0" ry="1.6"/><ellipse cx="83.5" cy="103.2" rx="1.8" ry="1.5"/><ellipse cx="99.2" cy="72.4" rx="1.6" ry="2.1"/><ellipse cx="85.0" cy="4.6" rx="1.5" ry="1.5"/><ellipse cx="44.3" cy="14.5" rx="1.7" ry="2.1"/><ellipse cx="14.6" cy="66.1" rx="1.7" ry="1.1"/><ellipse cx="63.4" cy="41.6" rx="1.4" ry="1.5"/><ellipse cx="29.8" cy="51.5" rx="1.6" ry="1.0"/><ellipse cx="56.9" cy="103.9" rx="1.8" ry="1.6"/><ellipse cx="89.8" cy="40.3" rx="2.0" ry="2.0"/><ellipse cx="57.7" cy="69.7" rx="1.9" ry="1.5"/><ellipse cx="66.7" cy="47.0" rx="1.7" ry="1.1"/><ellipse cx="29.3" cy="63.2" rx="1.6" ry="1.4"/><ellipse cx="61.3" cy="0.5" rx="2.0" ry="1.3"/><ellipse cx="52.1" cy="101.4" rx="1.8" ry="1.8"/><ellipse cx="88.8" cy="8.9" rx="2.0" ry="1.3"/><ellipse cx="97.3" cy="27.3" rx="0.9" ry="1.5"/><ellipse cx="88.2" cy="95.8" rx="1.0" ry="1.6"/><ellipse cx="70.4" cy="44.7" rx="1.6" ry="1.2"/><ellipse cx="96.8" cy="103.2" rx="2.1" ry="1.4"/><ellipse cx="87.6" cy="64.9" rx="1.9" ry="1.5"/><ellipse cx="65.0" cy="27.4" rx="1.7" ry="2.1"/><ellipse cx="74.5" cy="5.4" rx="1.3" ry="1.7"/><ellipse cx="82.9" cy="85.4" rx="1.6" ry="1.2"/><ellipse cx="71.8" cy="16.1" rx="2.1" ry="1.9"/><ellipse cx="54.2" cy="11.6" rx="1.7" ry="1.7"/><ellipse cx="96.6" cy="23.5" rx="2.1" ry="1.6"/><ellipse cx="30.3" cy="59.3" rx="2.0" ry="1.2"/><ellipse cx="42.8" cy="42.0" rx="1.9" ry="1.6"/><ellipse cx="30.8" cy="78.6" rx="1.5" ry="0.9"/><ellipse cx="90.8" cy="18.4" rx="1.4" ry="1.7"/><ellipse cx="57.2" cy="88.9" rx="1.6" ry="1.2"/><ellipse cx="26.6" cy="98.8" rx="1.7" ry="1.5"/><ellipse cx="68.4" cy="67.8" rx="1.7" ry="2.1"/><ellipse cx="96.9" cy="68.1" rx="1.2" ry="1.7"/><ellipse cx="59.9" cy="44.3" rx="1.7" ry="1.5"/><ellipse cx="82.8" cy="45.0" rx="1.5" ry="2.0"/><ellipse cx="76.7" cy="69.5" rx="1.6" ry="1.4"/><ellipse cx="78.6" cy="66.8" rx="1.6" ry="1.1"/><ellipse cx="32.4" cy="28.9" rx="2.0" ry="2.0"/><ellipse cx="22.3" cy="10.9" rx="1.9" ry="1.6"/><ellipse cx="65.8" cy="1.0" rx="1.8" ry="1.5"/><ellipse cx="99.4" cy="38.4" rx="1.6" ry="2.0"/><ellipse cx="77.2" cy="33.7" rx="1.6" ry="1.5"/><ellipse cx="29.1" cy="91.4" rx="1.9" ry="1.8"/><ellipse cx="45.5" cy="85.2" rx="1.5" ry="2.0"/><ellipse cx="41.8" cy="56.9" rx="1.7" ry="1.3"/><ellipse cx="88.6" cy="49.9" rx="1.6" ry="1.6"/><ellipse cx="93.0" cy="36.5" rx="1.8" ry="1.4"/><ellipse cx="26.1" cy="50.0" rx="1.8" ry="1.4"/><ellipse cx="1.0" cy="102.9" rx="1.7" ry="1.6"/><ellipse cx="83.7" cy="53.0" rx="1.6" ry="1.1"/><ellipse cx="37.5" cy="64.1" rx="1.5" ry="1.1"/><ellipse cx="34.4" cy="47.4" rx="1.6" ry="1.2"/><ellipse cx="32.7" cy="50.1" rx="1.4" ry="1.7"/><ellipse cx="69.8" cy="50.8" rx="2.0" ry="1.4"/><ellipse cx="13.5" cy="91.3" rx="1.6" ry="1.2"/></g><g><ellipse cx="50.7" cy="36.4" rx="1.9" ry="1.9"/><ellipse cx="51.5" cy="104.9" rx="1.6" ry="1.4"/><ellipse cx="26.7" cy="53.6" rx="1.6" ry="2.0"/><ellipse cx="74.5" cy="89.6" rx="1.7" ry="1.7"/><ellipse cx="55.3" cy="80.4" rx="1.8" ry="2.1"/><ellipse cx="77.4" cy="8.0" rx="1.6" ry="1.2"/><ellipse cx="15.3" cy="98.1" rx="1.7" ry="1.1"/><ellipse cx="31.1" cy="67.8" rx="1.9" ry="1.2"/><ellipse cx="16.7" cy="87.8" rx="1.3" ry="2.1"/><ellipse cx="63.9" cy="35.9" rx="1.5" ry="1.1"/><ellipse cx="57.3" cy="63.5" rx="2.1" ry="1.8"/><ellipse cx="84.7" cy="97.7" rx="1.5" ry="1.5"/><ellipse cx="15.2" cy="7.2" rx="2.1" ry="1.8"/><ellipse cx="43.3" cy="34.1" rx="2.0" ry="1.9"/><ellipse cx="74.1" cy="81.7" rx="1.6" ry="1.1"/><ellipse cx="21.1" cy="64.1" rx="1.2" ry="1.6"/><ellipse cx="29.6" cy="26.9" rx="1.7" ry="2.0"/><ellipse cx="36.3" cy="69.9" rx="1.6" ry="1.9"/><ellipse cx="60.5" cy="64.7" rx="2.0" ry="1.4"/><ellipse cx="88.0" cy="72.5" rx="1.3" ry="1.7"/><ellipse cx="3.2" cy="72.1" rx="2.1" ry="1.6"/><ellipse cx="75.1" cy="93.7" rx="1.8" ry="1.7"/><ellipse cx="19.0" cy="91.5" rx="1.4" ry="2.0"/><ellipse cx="54.5" cy="0.9" rx="1.0" ry="1.6"/><ellipse cx="100.4" cy="94.9" rx="1.0" ry="1.6"/><ellipse cx="84.0" cy="64.5" rx="2.0" ry="2.0"/><ellipse cx="19.0" cy="56.6" rx="1.5" ry="1.8"/><ellipse cx="41.0" cy="79.5" rx="1.4" ry="1.7"/><ellipse cx="6.9" cy="15.8" rx="1.6" ry="1.5"/><ellipse cx="83.4" cy="7.8" rx="1.7" ry="1.5"/><ellipse cx="57.6" cy="11.9" rx="1.6" ry="1.0"/><ellipse cx="70.9" cy="26.8" rx="1.5" ry="1.2"/><ellipse cx="80.5" cy="90.4" rx="1.9" ry="2.1"/><ellipse cx="76.3" cy="64.6" rx="1.8" ry="1.5"/><ellipse cx="27.3" cy="82.3" rx="1.5" ry="1.7"/><ellipse cx="33.7" cy="59.3" rx="1.5" ry="1.1"/><ellipse cx="48.7" cy="24.0" rx="1.4" ry="2.0"/><ellipse cx="68.4" cy="55.8" rx="1.0" ry="1.6"/><ellipse cx="83.4" cy="74.3" rx="1.9" ry="1.8"/><ellipse cx="52.2" cy="93.5" rx="2.0" ry="1.3"/><ellipse cx="34.4" cy="65.9" rx="1.3" ry="2.0"/><ellipse cx="88.8" cy="43.4" rx="1.5" ry="1.6"/><ellipse cx="11.1" cy="67.8" rx="1.3" ry="1.8"/><ellipse cx="26.0" cy="29.6" rx="2.0" ry="1.9"/><ellipse cx="2.6" cy="84.2" rx="2.0" ry="1.8"/><ellipse cx="42.4" cy="47.7" rx="1.9" ry="1.2"/><ellipse cx="12.6" cy="78.1" rx="1.4" ry="1.6"/><ellipse cx="10.3" cy="75.2" rx="1.8" ry="1.8"/><ellipse cx="90.8" cy="47.2" rx="1.7" ry="1.3"/><ellipse cx="87.3" cy="101.9" rx="1.0" ry="1.7"/><ellipse cx="49.1" cy="55.4" rx="1.5" ry="1.1"/><ellipse cx="36.0" cy="77.8" rx="1.6" ry="1.1"/><ellipse cx="37.5" cy="25.1" rx="1.7" ry="1.3"/><ellipse cx="10.9" cy="18.9" rx="1.8" ry="1.2"/><ellipse cx="88.0" cy="77.1" rx="1.4" ry="1.9"/><ellipse cx="33.2" cy="18.5" rx="1.5" ry="1.6"/><ellipse cx="55.2" cy="85.4" rx="1.7" ry="1.5"/><ellipse cx="30.1" cy="5.4" rx="1.1" ry="1.7"/><ellipse cx="100.1" cy="43.8" rx="2.0" ry="1.8"/><ellipse cx="24.0" cy="81.7" rx="1.6" ry="1.0"/><ellipse cx="45.6" cy="89.9" rx="2.0" ry="1.3"/><ellipse cx="9.9" cy="61.3" rx="1.6" ry="1.5"/><ellipse cx="36.6" cy="29.5" rx="1.1" ry="1.6"/><ellipse cx="69.4" cy="80.0" rx="2.0" ry="2.0"/><ellipse cx="98.5" cy="6.8" rx="1.1" ry="1.6"/><ellipse cx="34.6" cy="90.5" rx="1.7" ry="1.8"/><ellipse cx="76.9" cy="101.0" rx="1.4" ry="2.0"/><ellipse cx="100.7" cy="98.9" rx="1.1" ry="1.5"/><ellipse cx="100.8" cy="30.1" rx="1.5" ry="1.7"/><ellipse cx="2.8" cy="78.7" rx="1.5" ry="1.7"/><ellipse cx="93.4" cy="84.0" rx="2.0" ry="1.3"/><ellipse cx="26.5" cy="57.2" rx="1.4" ry="1.9"/><ellipse cx="92.3" cy="22.3" rx="1.9" ry="1.8"/><ellipse cx="15.8" cy="50.7" rx="2.1" ry="2.1"/><ellipse cx="66.1" cy="82.7" rx="2.0" ry="1.7"/><ellipse cx="54.1" cy="23.7" rx="1.5" ry="1.0"/><ellipse cx="19.4" cy="50.8" rx="1.7" ry="1.5"/><ellipse cx="79.1" cy="87.4" rx="1.5" ry="1.0"/><ellipse cx="74.2" cy="25.6" rx="1.6" ry="1.4"/><ellipse cx="25.9" cy="13.9" rx="1.5" ry="1.9"/><ellipse cx="68.1" cy="20.6" rx="1.7" ry="1.5"/><ellipse cx="21.8" cy="17.9" rx="1.7" ry="1.1"/><ellipse cx="81.8" cy="78.5" rx="1.5" ry="1.7"/><ellipse cx="70.8" cy="95.2" rx="2.0" ry="1.8"/><ellipse cx="39.2" cy="10.0" rx="1.9" ry="2.1"/><ellipse cx="81.0" cy="14.2" rx="1.3" ry="2.0"/><ellipse cx="48.6" cy="18.2" rx="1.8" ry="2.0"/><ellipse cx="85.0" cy="31.7" rx="1.5" ry="2.0"/><ellipse cx="6.4" cy="59.4" rx="1.6" ry="1.6"/><ellipse cx="41.6" cy="101.9" rx="1.6" ry="1.5"/><ellipse cx="20.1" cy="74.7" rx="1.6" ry="2.0"/><ellipse cx="79.9" cy="43.7" rx="1.6" ry="1.9"/><ellipse cx="36.3" cy="84.7" rx="1.6" ry="1.1"/><ellipse cx="31.6" cy="89.2" rx="1.7" ry="1.3"/><ellipse cx="4.6" cy="98.1" rx="2.0" ry="1.7"/><ellipse cx="19.0" cy="31.4" rx="1.5" ry="1.4"/><ellipse cx="47.6" cy="69.5" rx="1.8" ry="1.3"/><ellipse cx="7.3" cy="99.7" rx="1.5" ry="1.6"/><ellipse cx="22.1" cy="4.9" rx="1.9" ry="1.7"/><ellipse cx="39.4" cy="68.6" rx="1.7" ry="1.4"/><ellipse cx="41.1" cy="19.0" rx="1.8" ry="1.6"/><ellipse cx="95.6" cy="92.9" rx="2.0" ry="1.5"/><ellipse cx="54.3" cy="27.4" rx="1.9" ry="1.7"/><ellipse cx="57.5" cy="2.7" rx="1.2" ry="1.7"/><ellipse cx="1.5" cy="98.6" rx="2.0" ry="2.0"/><ellipse cx="75.7" cy="15.3" rx="1.7" ry="1.6"/></g><g opacity="0.85"><ellipse cx="46.1" cy="66.8" rx="2.1" ry="1.3"/><ellipse cx="76.0" cy="20.7" rx="2.0" ry="1.5"/><ellipse cx="93.2" cy="25.6" rx="1.7" ry="1.8"/><ellipse cx="80.5" cy="59.5" rx="1.5" ry="1.6"/><ellipse cx="88.7" cy="36.0" rx="1.5" ry="1.0"/><ellipse cx="84.2" cy="42.1" rx="1.4" ry="1.8"/><ellipse cx="55.8" cy="15.0" rx="1.9" ry="1.4"/><ellipse cx="84.9" cy="79.4" rx="1.7" ry="1.7"/><ellipse cx="37.9" cy="88.3" rx="2.0" ry="1.3"/><ellipse cx="6.8" cy="68.2" rx="1.5" ry="1.7"/><ellipse cx="17.0" cy="95.3" rx="1.0" ry="1.5"/><ellipse cx="38.7" cy="5.2" rx="1.9" ry="1.4"/><ellipse cx="32.6" cy="33.6" rx="2.0" ry="1.7"/><ellipse cx="91.6" cy="97.6" rx="2.0" ry="1.7"/><ellipse cx="36.1" cy="35.6" rx="1.0" ry="1.7"/><ellipse cx="44.1" cy="44.8" rx="1.9" ry="1.6"/><ellipse cx="6.5" cy="86.1" rx="1.8" ry="1.7"/><ellipse cx="74.0" cy="35.2" rx="2.1" ry="1.3"/><ellipse cx="38.3" cy="56.5" rx="2.0" ry="1.4"/><ellipse cx="22.9" cy="34.6" rx="1.7" ry="1.0"/><ellipse cx="29.5" cy="48.0" rx="1.0" ry="1.6"/><ellipse cx="26.9" cy="19.8" rx="1.3" ry="1.8"/><ellipse cx="91.2" cy="94.1" rx="1.6" ry="1.3"/><ellipse cx="19.0" cy="3.4" rx="1.6" ry="1.2"/><ellipse cx="4.7" cy="89.0" rx="1.9" ry="1.2"/><ellipse cx="87.4" cy="24.2" rx="1.7" ry="1.7"/><ellipse cx="90.1" cy="0.6" rx="1.8" ry="1.2"/><ellipse cx="15.5" cy="81.5" rx="2.1" ry="1.9"/><ellipse cx="30.5" cy="84.1" rx="1.7" ry="1.3"/><ellipse cx="48.2" cy="82.9" rx="2.0" ry="1.4"/><ellipse cx="79.2" cy="27.5" rx="1.5" ry="1.6"/><ellipse cx="30.2" cy="9.0" rx="2.0" ry="1.8"/><ellipse cx="26.2" cy="6.0" rx="1.5" ry="1.8"/><ellipse cx="95.5" cy="33.2" rx="1.9" ry="1.5"/><ellipse cx="23.2" cy="72.0" rx="1.5" ry="1.2"/><ellipse cx="69.6" cy="11.9" rx="1.6" ry="1.7"/><ellipse cx="53.3" cy="33.5" rx="1.8" ry="2.0"/><ellipse cx="21.8" cy="58.3" rx="1.4" ry="1.6"/><ellipse cx="13.2" cy="73.8" rx="1.9" ry="1.4"/><ellipse cx="62.4" cy="18.3" rx="1.9" ry="1.4"/><ellipse cx="6.9" cy="11.3" rx="1.7" ry="1.2"/><ellipse cx="37.6" cy="60.5" rx="2.0" ry="1.6"/><ellipse cx="45.4" cy="98.5" rx="1.8" ry="1.2"/><ellipse cx="58.4" cy="54.6" rx="1.7" ry="1.4"/><ellipse cx="32.5" cy="43.3" rx="1.5" ry="1.6"/><ellipse cx="99.9" cy="49.3" rx="2.0" ry="1.9"/><ellipse cx="55.0" cy="71.3" rx="1.6" ry="1.7"/><ellipse cx="18.6" cy="16.1" rx="1.4" ry="1.5"/><ellipse cx="50.3" cy="9.1" rx="1.9" ry="2.1"/><ellipse cx="73.1" cy="69.8" rx="1.3" ry="2.1"/><ellipse cx="95.1" cy="98.5" rx="1.4" ry="1.6"/><ellipse cx="42.6" cy="27.3" rx="1.9" ry="1.6"/><ellipse cx="100.8" cy="52.4" rx="1.8" ry="2.1"/><ellipse cx="95.6" cy="64.5" rx="2.0" ry="1.8"/><ellipse cx="39.1" cy="31.7" rx="1.7" ry="1.5"/><ellipse cx="36.4" cy="81.5" rx="1.7" ry="1.6"/><ellipse cx="54.3" cy="61.0" rx="1.5" ry="1.8"/><ellipse cx="63.5" cy="88.3" rx="1.5" ry="1.9"/><ellipse cx="20.1" cy="46.2" rx="1.5" ry="1.8"/><ellipse cx="34.7" cy="101.0" rx="1.7" ry="1.7"/><ellipse cx="27.6" cy="78.4" rx="1.7" ry="1.7"/><ellipse cx="53.8" cy="53.1" rx="1.6" ry="1.2"/><ellipse cx="26.1" cy="37.3" rx="1.9" ry="1.9"/><ellipse cx="44.5" cy="81.5" rx="1.3" ry="1.9"/><ellipse cx="51.8" cy="49.8" rx="2.1" ry="1.9"/><ellipse cx="66.7" cy="16.9" rx="1.6" ry="1.6"/><ellipse cx="95.1" cy="52.7" rx="1.3" ry="2.0"/><ellipse cx="17.6" cy="64.3" rx="1.6" ry="2.1"/><ellipse cx="9.0" cy="51.6" rx="1.6" ry="1.1"/><ellipse cx="0.6" cy="81.2" rx="1.5" ry="1.6"/><ellipse cx="50.3" cy="41.9" rx="1.5" ry="1.0"/><ellipse cx="67.0" cy="4.6" rx="1.8" ry="1.4"/><ellipse cx="58.2" cy="94.6" rx="1.5" ry="1.4"/><ellipse cx="46.0" cy="104.8" rx="1.8" ry="1.2"/><ellipse cx="47.4" cy="47.6" rx="1.6" ry="1.8"/><ellipse cx="5.7" cy="25.7" rx="1.6" ry="1.7"/><ellipse cx="41.4" cy="90.3" rx="1.3" ry="1.7"/><ellipse cx="37.8" cy="45.9" rx="1.9" ry="1.8"/><ellipse cx="83.6" cy="0.8" rx="1.5" ry="1.8"/><ellipse cx="47.2" cy="51.6" rx="1.7" ry="1.0"/><ellipse cx="8.5" cy="89.2" rx="1.6" ry="1.8"/><ellipse cx="65.9" cy="31.5" rx="1.6" ry="1.1"/><ellipse cx="60.4" cy="78.7" rx="2.0" ry="1.8"/><ellipse cx="40.0" cy="75.1" rx="1.2" ry="1.7"/><ellipse cx="71.9" cy="19.3" rx="1.5" ry="1.9"/><ellipse cx="18.9" cy="102.8" rx="1.6" ry="1.9"/><ellipse cx="17.5" cy="41.5" rx="1.8" ry="1.6"/><ellipse cx="17.0" cy="47.6" rx="1.5" ry="1.4"/><ellipse cx="9.3" cy="13.6" rx="1.3" ry="1.5"/><ellipse cx="75.1" cy="30.5" rx="2.0" ry="1.8"/><ellipse cx="22.8" cy="53.2" rx="1.6" ry="1.3"/><ellipse cx="47.6" cy="96.2" rx="2.0" ry="1.7"/><ellipse cx="50.1" cy="14.1" rx="1.5" ry="1.6"/><ellipse cx="77.8" cy="79.5" rx="1.8" ry="1.2"/><ellipse cx="40.9" cy="15.6" rx="2.0" ry="1.3"/><ellipse cx="92.8" cy="102.0" rx="1.1" ry="1.8"/><ellipse cx="37.0" cy="73.3" rx="1.9" ry="1.2"/><ellipse cx="53.0" cy="17.8" rx="2.0" ry="1.3"/><ellipse cx="86.3" cy="46.9" rx="2.1" ry="1.7"/><ellipse cx="68.3" cy="29.2" rx="1.9" ry="1.8"/><ellipse cx="91.7" cy="90.5" rx="1.1" ry="1.5"/><ellipse cx="58.3" cy="41.1" rx="1.6" ry="1.7"/><ellipse cx="6.8" cy="81.5" rx="2.0" ry="1.8"/><ellipse cx="21.7" cy="69.2" rx="1.8" ry="1.2"/><ellipse cx="54.4" cy="37.6" rx="1.6" ry="1.1"/><ellipse cx="45.0" cy="56.9" rx="1.6" ry="1.5"/><ellipse cx="30.7" cy="1.8" rx="1.8" ry="1.8"/><ellipse cx="95.5" cy="14.1" rx="1.5" ry="1.8"/><ellipse cx="95.7" cy="45.7" rx="1.6" ry="1.2"/><ellipse cx="100.8" cy="21.4" rx="1.5" ry="1.3"/><ellipse cx="23.9" cy="85.8" rx="1.1" ry="1.5"/><ellipse cx="100.3" cy="61.7" rx="1.6" ry="1.1"/><ellipse cx="34.3" cy="53.5" rx="2.1" ry="1.9"/><ellipse cx="87.9" cy="85.2" rx="1.6" ry="2.0"/><ellipse cx="74.6" cy="38.7" rx="1.9" ry="1.2"/><ellipse cx="78.2" cy="24.0" rx="1.7" ry="1.2"/><ellipse cx="51.9" cy="2.9" rx="1.6" ry="2.1"/><ellipse cx="28.6" cy="44.8" rx="1.4" ry="1.7"/><ellipse cx="97.9" cy="59.6" rx="1.9" ry="1.6"/><ellipse cx="42.6" cy="65.1" rx="1.6" ry="1.5"/><ellipse cx="78.7" cy="19.1" rx="1.6" ry="1.2"/><ellipse cx="21.5" cy="93.5" rx="1.6" ry="1.0"/><ellipse cx="62.1" cy="59.9" rx="2.0" ry="1.4"/><ellipse cx="45.6" cy="77.0" rx="1.5" ry="1.6"/><ellipse cx="51.3" cy="85.7" rx="1.7" ry="1.6"/><ellipse cx="52.6" cy="67.3" rx="1.5" ry="1.5"/><ellipse cx="22.9" cy="77.1" rx="1.6" ry="1.5"/><ellipse cx="51.2" cy="21.9" rx="1.8" ry="1.9"/><ellipse cx="9.2" cy="22.8" rx="1.2" ry="1.6"/><ellipse cx="61.5" cy="26.3" rx="1.3" ry="1.7"/><ellipse cx="56.3" cy="18.3" rx="1.5" ry="1.3"/><ellipse cx="34.6" cy="5.0" rx="1.8" ry="1.4"/><ellipse cx="72.8" cy="57.1" rx="1.4" ry="2.0"/><ellipse cx="21.1" cy="88.0" rx="1.8" ry="1.7"/><ellipse cx="60.1" cy="21.0" rx="1.3" ry="1.8"/><ellipse cx="26.8" cy="60.7" rx="2.0" ry="1.9"/><ellipse cx="99.2" cy="78.4" rx="1.9" ry="2.1"/><ellipse cx="57.8" cy="48.6" rx="1.8" ry="1.1"/><ellipse cx="50.9" cy="80.1" rx="1.6" ry="1.2"/><ellipse cx="28.8" cy="96.2" rx="1.9" ry="1.4"/><ellipse cx="17.9" cy="83.6" rx="1.9" ry="1.6"/><ellipse cx="58.6" cy="37.2" rx="1.1" ry="1.6"/><ellipse cx="91.9" cy="79.8" rx="1.9" ry="1.4"/><ellipse cx="14.8" cy="36.4" rx="1.7" ry="1.1"/><ellipse cx="73.7" cy="42.7" rx="2.0" ry="1.6"/><ellipse cx="53.8" cy="74.4" rx="1.6" ry="1.4"/><ellipse cx="91.4" cy="4.6" rx="1.4" ry="1.7"/><ellipse cx="11.9" cy="45.4" rx="1.9" ry="1.5"/><ellipse cx="84.2" cy="27.3" rx="1.6" ry="2.0"/><ellipse cx="5.7" cy="56.2" rx="1.2" ry="1.6"/><ellipse cx="13.0" cy="103.3" rx="1.3" ry="1.8"/><ellipse cx="10.1" cy="5.4" rx="1.7" ry="1.1"/><ellipse cx="94.7" cy="77.4" rx="2.0" ry="1.3"/><ellipse cx="99.2" cy="88.2" rx="1.0" ry="1.6"/><ellipse cx="14.4" cy="2.9" rx="1.7" ry="1.6"/><ellipse cx="75.8" cy="11.9" rx="1.6" ry="1.3"/><ellipse cx="28.2" cy="87.4" rx="1.8" ry="1.7"/><ellipse cx="86.3" cy="38.2" rx="1.6" ry="1.5"/><ellipse cx="51.0" cy="89.7" rx="1.6" ry="1.2"/><ellipse cx="73.3" cy="99.0" rx="1.7" ry="1.1"/><ellipse cx="96.4" cy="74.7" rx="1.5" ry="1.3"/><ellipse cx="97.8" cy="54.4" rx="1.5" ry="2.1"/><ellipse cx="12.9" cy="12.2" rx="1.3" ry="1.5"/><ellipse cx="25.9" cy="0.9" rx="1.6" ry="1.1"/><ellipse cx="98.2" cy="1.3" rx="1.7" ry="1.7"/><ellipse cx="11.6" cy="100.2" rx="2.0" ry="1.5"/><ellipse cx="32.6" cy="72.3" rx="1.3" ry="1.8"/><ellipse cx="69.6" cy="61.7" rx="1.0" ry="1.6"/><ellipse cx="96.7" cy="80.2" rx="2.0" ry="1.6"/><ellipse cx="42.7" cy="30.9" rx="1.1" ry="1.7"/><ellipse cx="94.7" cy="59.2" rx="1.9" ry="1.4"/><ellipse cx="75.7" cy="84.9" rx="1.2" ry="1.6"/><ellipse cx="94.8" cy="5.6" rx="1.8" ry="1.2"/><ellipse cx="27.7" cy="66.2" rx="1.9" ry="1.5"/><ellipse cx="41.0" cy="86.8" rx="1.6" ry="1.8"/><ellipse cx="29.5" cy="38.4" rx="1.9" ry="1.8"/><ellipse cx="62.1" cy="53.3" rx="2.0" ry="2.0"/><ellipse cx="24.6" cy="65.2" rx="1.8" ry="1.8"/><ellipse cx="22.5" cy="22.8" rx="2.0" ry="1.8"/><ellipse cx="24.1" cy="44.2" rx="1.8" ry="1.5"/><ellipse cx="59.7" cy="90.9" rx="1.5" ry="1.4"/><ellipse cx="63.1" cy="23.2" rx="1.4" ry="1.6"/><ellipse cx="19.0" cy="11.3" rx="2.1" ry="1.2"/><ellipse cx="71.3" cy="89.4" rx="1.6" ry="1.0"/><ellipse cx="69.8" cy="39.2" rx="1.7" ry="2.0"/><ellipse cx="15.8" cy="77.4" rx="2.0" ry="1.9"/><ellipse cx="81.7" cy="20.9" rx="2.1" ry="1.6"/><ellipse cx="12.9" cy="25.7" rx="1.6" ry="1.6"/><ellipse cx="26.2" cy="46.9" rx="1.7" ry="2.1"/><ellipse cx="40.3" cy="37.0" rx="1.7" ry="1.1"/><ellipse cx="81.3" cy="4.3" rx="1.9" ry="1.2"/><ellipse cx="29.6" cy="32.2" rx="1.6" ry="1.4"/><ellipse cx="7.5" cy="33.3" rx="1.3" ry="1.7"/><ellipse cx="89.4" cy="32.2" rx="1.8" ry="1.6"/><ellipse cx="88.6" cy="89.8" rx="1.4" ry="1.9"/><ellipse cx="63.0" cy="44.8" rx="2.0" ry="1.7"/><ellipse cx="84.5" cy="59.6" rx="1.2" ry="1.7"/><ellipse cx="89.0" cy="81.7" rx="1.6" ry="1.4"/><ellipse cx="13.5" cy="59.8" rx="1.6" ry="1.2"/><ellipse cx="44.1" cy="95.7" rx="1.8" ry="1.6"/><ellipse cx="5.8" cy="22.1" rx="2.0" ry="2.0"/><ellipse cx="32.7" cy="94.4" rx="1.6" ry="1.4"/><ellipse cx="92.6" cy="56.7" rx="1.4" ry="1.5"/><ellipse cx="50.7" cy="98.2" rx="1.9" ry="1.9"/><ellipse cx="78.6" cy="94.5" rx="1.4" ry="1.9"/><ellipse cx="45.2" cy="25.4" rx="1.7" ry="1.0"/><ellipse cx="26.1" cy="23.3" rx="1.6" ry="1.5"/><ellipse cx="66.7" cy="92.7" rx="1.8" ry="1.5"/><ellipse cx="50.4" cy="28.3" rx="2.0" ry="1.2"/><ellipse cx="81.2" cy="62.9" rx="1.6" ry="1.4"/><ellipse cx="77.3" cy="59.9" rx="2.0" ry="1.7"/><ellipse cx="9.7" cy="79.3" rx="1.7" ry="1.9"/><ellipse cx="66.6" cy="11.0" rx="1.1" ry="1.8"/><ellipse cx="10.0" cy="92.3" rx="1.9" ry="1.6"/><ellipse cx="49.2" cy="66.8" rx="1.8" ry="1.7"/><ellipse cx="22.9" cy="97.4" rx="1.7" ry="1.6"/><ellipse cx="49.0" cy="102.3" rx="1.8" ry="1.6"/><ellipse cx="99.3" cy="83.8" rx="1.5" ry="1.3"/></g><g opacity="0.7"><ellipse cx="12.4" cy="9.1" rx="1.7" ry="1.3"/><ellipse cx="84.8" cy="11.4" rx="1.2" ry="1.7"/><ellipse cx="84.4" cy="70.1" rx="2.0" ry="1.5"/><ellipse cx="91.1" cy="28.7" rx="1.2" ry="1.8"/><ellipse cx="62.6" cy="49.3" rx="1.9" ry="1.4"/><ellipse cx="66.3" cy="76.3" rx="1.8" ry="1.5"/><ellipse cx="42.0" cy="2.6" rx="1.4" ry="1.6"/><ellipse cx="62.4" cy="69.6" rx="1.9" ry="1.8"/><ellipse cx="7.3" cy="76.0" rx="1.3" ry="1.9"/><ellipse cx="12.9" cy="83.3" rx="2.1" ry="1.4"/><ellipse cx="46.1" cy="30.3" rx="1.8" ry="1.5"/><ellipse cx="90.6" cy="104.6" rx="1.6" ry="1.4"/><ellipse cx="100.7" cy="11.2" rx="1.6" ry="1.3"/><ellipse cx="38.0" cy="20.9" rx="1.7" ry="1.2"/><ellipse cx="32.5" cy="23.1" rx="1.4" ry="1.8"/><ellipse cx="73.5" cy="66.4" rx="2.0" ry="1.7"/><ellipse cx="97.3" cy="42.3" rx="1.6" ry="1.5"/><ellipse cx="12.9" cy="32.7" rx="1.6" ry="2.0"/><ellipse cx="17.5" cy="68.9" rx="1.6" ry="1.5"/><ellipse cx="71.2" cy="33.6" rx="1.7" ry="2.0"/><ellipse cx="17.7" cy="59.6" rx="0.9" ry="1.5"/><ellipse cx="80.1" cy="53.7" rx="1.4" ry="2.0"/><ellipse cx="68.0" cy="8.0" rx="1.8" ry="1.6"/><ellipse cx="23.6" cy="41.1" rx="1.6" ry="1.5"/><ellipse cx="72.3" cy="77.3" rx="1.4" ry="1.7"/><ellipse cx="60.9" cy="4.0" rx="1.5" ry="1.2"/><ellipse cx="54.1" cy="96.3" rx="1.3" ry="1.9"/><ellipse cx="43.3" cy="72.3" rx="1.6" ry="1.7"/><ellipse cx="92.4" cy="63.8" rx="1.8" ry="1.4"/><ellipse cx="95.5" cy="71.3" rx="1.7" ry="1.6"/><ellipse cx="80.5" cy="33.9" rx="1.4" ry="2.0"/><ellipse cx="100.1" cy="57.2" rx="1.3" ry="1.9"/><ellipse cx="87.7" cy="14.8" rx="1.7" ry="1.8"/><ellipse cx="93.2" cy="10.0" rx="1.6" ry="1.9"/><ellipse cx="29.1" cy="16.0" rx="1.5" ry="2.0"/><ellipse cx="14.4" cy="69.7" rx="1.9" ry="1.8"/><ellipse cx="59.0" cy="98.3" rx="1.1" ry="1.6"/><ellipse cx="66.5" cy="100.7" rx="1.8" ry="1.1"/><ellipse cx="69.2" cy="74.1" rx="1.9" ry="1.8"/><ellipse cx="99.9" cy="65.7" rx="1.5" ry="1.9"/><ellipse cx="18.6" cy="25.2" rx="2.1" ry="1.5"/><ellipse cx="66.9" cy="37.4" rx="1.1" ry="1.6"/><ellipse cx="36.9" cy="98.8" rx="1.5" ry="1.4"/><ellipse cx="43.7" cy="52.2" rx="1.9" ry="1.7"/><ellipse cx="81.9" cy="30.9" rx="1.8" ry="1.5"/><ellipse cx="37.8" cy="15.9" rx="1.1" ry="1.6"/><ellipse cx="92.4" cy="15.2" rx="1.7" ry="2.1"/><ellipse cx="36.0" cy="50.5" rx="1.6" ry="1.2"/><ellipse cx="14.1" cy="53.8" rx="1.5" ry="1.1"/><ellipse cx="63.7" cy="103.3" rx="1.5" ry="1.4"/><ellipse cx="91.6" cy="72.9" rx="1.5" ry="1.5"/><ellipse cx="88.4" cy="68.4" rx="1.3" ry="1.8"/><ellipse cx="68.1" cy="90.0" rx="1.6" ry="1.3"/><ellipse cx="56.7" cy="22.0" rx="1.6" ry="1.7"/><ellipse cx="19.2" cy="36.0" rx="2.1" ry="1.6"/><ellipse cx="63.7" cy="65.5" rx="1.8" ry="2.0"/><ellipse cx="41.8" cy="61.6" rx="1.9" ry="1.8"/><ellipse cx="73.7" cy="61.3" rx="1.2" ry="1.5"/><ellipse cx="85.3" cy="90.9" rx="1.5" ry="1.6"/><ellipse cx="43.2" cy="11.3" rx="2.0" ry="1.9"/><ellipse cx="94.4" cy="87.5" rx="1.6" ry="1.3"/><ellipse cx="79.2" cy="83.4" rx="1.8" ry="1.5"/><ellipse cx="91.5" cy="52.1" rx="1.9" ry="1.5"/><ellipse cx="49.4" cy="0.6" rx="1.5" ry="1.0"/><ellipse cx="15.9" cy="22.8" rx="1.7" ry="1.1"/><ellipse cx="61.6" cy="94.2" rx="1.0" ry="1.7"/><ellipse cx="69.9" cy="102.6" rx="2.0" ry="1.5"/><ellipse cx="62.5" cy="32.1" rx="1.6" ry="1.0"/><ellipse cx="45.5" cy="19.4" rx="1.3" ry="1.8"/><ellipse cx="21.6" cy="29.7" rx="1.2" ry="1.9"/><ellipse cx="48.0" cy="44.4" rx="1.5" ry="2.0"/><ellipse cx="100.8" cy="18.0" rx="2.1" ry="1.6"/><ellipse cx="62.0" cy="74.4" rx="2.1" ry="1.3"/><ellipse cx="12.4" cy="49.6" rx="2.0" ry="1.7"/><ellipse cx="69.6" cy="85.6" rx="1.9" ry="1.7"/><ellipse cx="31.0" cy="102.7" rx="1.6" ry="1.7"/><ellipse cx="9.5" cy="36.1" rx="1.6" ry="1.3"/><ellipse cx="15.8" cy="13.7" rx="1.6" ry="1.7"/><ellipse cx="12.2" cy="63.8" rx="1.7" ry="1.3"/><ellipse cx="96.8" cy="10.0" rx="1.6" ry="1.0"/><ellipse cx="82.8" cy="93.9" rx="1.1" ry="1.6"/><ellipse cx="82.5" cy="56.6" rx="1.8" ry="1.5"/><ellipse cx="66.0" cy="50.8" rx="1.6" ry="1.0"/><ellipse cx="23.0" cy="49.7" rx="1.8" ry="1.3"/><ellipse cx="54.6" cy="30.6" rx="2.0" ry="1.5"/><ellipse cx="46.7" cy="62.8" rx="1.2" ry="1.8"/><ellipse cx="97.6" cy="18.2" rx="1.1" ry="1.6"/><ellipse cx="78.1" cy="75.1" rx="1.5" ry="1.7"/><ellipse cx="42.2" cy="7.3" rx="1.2" ry="1.9"/><ellipse cx="24.7" cy="94.6" rx="1.4" ry="1.6"/><ellipse cx="93.0" cy="67.4" rx="1.3" ry="1.9"/><ellipse cx="30.4" cy="20.7" rx="2.1" ry="1.3"/><ellipse cx="27.7" cy="103.0" rx="2.1" ry="1.5"/><ellipse cx="21.2" cy="83.5" rx="1.6" ry="1.4"/><ellipse cx="72.3" cy="48.7" rx="1.8" ry="1.3"/><ellipse cx="10.4" cy="71.4" rx="1.6" ry="1.2"/><ellipse cx="48.8" cy="77.9" rx="1.0" ry="1.6"/></g></g><g id="bn1"><g opacity="0.55"><ellipse cx="62.6" cy="7.6" rx="1.6" ry="1.3"/><ellipse cx="63.6" cy="54.0" rx="1.6" ry="1.3"/><ellipse cx="82.2" cy="59.5" rx="1.4" ry="1.9"/><ellipse cx="79.0" cy="72.8" rx="1.1" ry="1.7"/><ellipse cx="59.5" cy="15.1" rx="1.6" ry="1.8"/><ellipse cx="21.0" cy="45.6" rx="1.9" ry="1.5"/><ellipse cx="49.6" cy="77.3" rx="1.4" ry="1.5"/><ellipse cx="60.8" cy="25.4" rx="2.0" ry="1.3"/><ellipse cx="48.6" cy="54.0" rx="1.9" ry="1.7"/><ellipse cx="31.6" cy="64.8" rx="1.6" ry="1.3"/><ellipse cx="73.1" cy="58.6" rx="1.6" ry="1.5"/><ellipse cx="31.5" cy="3.9" rx="2.0" ry="1.4"/><ellipse cx="77.8" cy="51.3" rx="1.9" ry="1.8"/><ellipse cx="42.3" cy="43.5" rx="2.0" ry="1.9"/><ellipse cx="72.8" cy="27.6" rx="1.5" ry="1.6"/><ellipse cx="65.9" cy="18.8" rx="2.1" ry="1.6"/><ellipse cx="27.8" cy="15.1" rx="1.6" ry="1.1"/><ellipse cx="40.2" cy="50.5" rx="1.7" ry="1.3"/><ellipse cx="42.8" cy="54.5" rx="2.0" ry="1.5"/><ellipse cx="29.3" cy="58.8" rx="1.9" ry="2.0"/><ellipse cx="77.4" cy="38.9" rx="2.0" ry="2.1"/><ellipse cx="67.7" cy="34.5" rx="1.8" ry="1.6"/><ellipse cx="2.5" cy="104.8" rx="1.5" ry="1.2"/><ellipse cx="38.1" cy="71.9" rx="2.0" ry="1.2"/><ellipse cx="12.2" cy="11.4" rx="1.6" ry="1.7"/><ellipse cx="62.5" cy="45.0" rx="1.7" ry="1.7"/><ellipse cx="42.6" cy="35.4" rx="1.5" ry="1.9"/><ellipse cx="53.0" cy="20.8" rx="1.5" ry="1.7"/><ellipse cx="81.1" cy="29.5" rx="1.5" ry="1.7"/><ellipse cx="78.7" cy="78.4" rx="2.0" ry="1.6"/><ellipse cx="47.7" cy="82.8" rx="1.7" ry="1.6"/><ellipse cx="53.5" cy="67.8" rx="1.3" ry="1.7"/><ellipse cx="59.7" cy="77.8" rx="2.1" ry="1.6"/><ellipse cx="35.1" cy="29.3" rx="1.7" ry="1.6"/><ellipse cx="7.6" cy="36.2" rx="1.5" ry="0.9"/><ellipse cx="72.4" cy="73.4" rx="2.1" ry="1.8"/><ellipse cx="27.4" cy="79.2" rx="1.4" ry="1.5"/><ellipse cx="36.2" cy="7.2" rx="1.5" ry="1.7"/><ellipse cx="63.8" cy="11.6" rx="1.7" ry="1.6"/><ellipse cx="65.5" cy="78.7" rx="1.3" ry="1.6"/><ellipse cx="45.5" cy="93.5" rx="1.7" ry="1.2"/><ellipse cx="45.1" cy="23.8" rx="1.2" ry="1.8"/><ellipse cx="37.8" cy="12.2" rx="1.5" ry="1.5"/><ellipse cx="62.6" cy="64.8" rx="1.8" ry="1.2"/><ellipse cx="6.9" cy="60.3" rx="1.8" ry="1.7"/><ellipse cx="54.7" cy="43.7" rx="1.7" ry="1.9"/><ellipse cx="58.6" cy="11.6" rx="2.0" ry="1.9"/><ellipse cx="44.9" cy="31.8" rx="1.9" ry="1.4"/><ellipse cx="37.3" cy="62.6" rx="1.9" ry="1.7"/><ellipse cx="42.6" cy="74.1" rx="1.9" ry="1.7"/><ellipse cx="36.0" cy="75.6" rx="1.6" ry="1.3"/><ellipse cx="70.4" cy="95.6" rx="2.0" ry="1.5"/><ellipse cx="16.0" cy="1.6" rx="2.1" ry="1.7"/><ellipse cx="34.9" cy="22.1" rx="1.0" ry="1.5"/><ellipse cx="60.6" cy="102.6" rx="2.1" ry="2.0"/><ellipse cx="15.9" cy="82.9" rx="1.2" ry="1.8"/><ellipse cx="50.1" cy="84.7" rx="2.0" ry="1.6"/><ellipse cx="31.3" cy="48.8" rx="1.9" ry="1.9"/><ellipse cx="42.4" cy="4.8" rx="1.5" ry="1.9"/><ellipse cx="54.8" cy="47.3" rx="1.4" ry="1.9"/><ellipse cx="47.5" cy="100.7" rx="1.8" ry="1.1"/><ellipse cx="32.3" cy="80.6" rx="1.9" ry="1.3"/><ellipse cx="69.1" cy="40.6" rx="1.5" ry="1.3"/></g><g opacity="0.7"><ellipse cx="56.8" cy="50.3" rx="1.8" ry="1.6"/><ellipse cx="21.9" cy="27.2" rx="1.7" ry="1.6"/><ellipse cx="36.1" cy="2.5" rx="1.1" ry="1.7"/><ellipse cx="76.2" cy="86.8" rx="1.0" ry="1.5"/><ellipse cx="54.5" cy="55.9" rx="1.5" ry="1.4"/><ellipse cx="31.5" cy="20.0" rx="1.8" ry="2.0"/><ellipse cx="58.3" cy="92.8" rx="1.7" ry="1.4"/><ellipse cx="18.3" cy="9.0" rx="1.8" ry="1.7"/><ellipse cx="49.0" cy="23.2" rx="2.1" ry="1.9"/><ellipse cx="20.4" cy="31.4" rx="1.7" ry="1.8"/><ellipse cx="66.4" cy="58.1" rx="1.3" ry="1.9"/><ellipse cx="41.4" cy="15.3" rx="1.6" ry="1.0"/><ellipse cx="73.3" cy="67.8" rx="1.6" ry="1.8"/><ellipse cx="24.3" cy="12.6" rx="2.1" ry="1.4"/><ellipse cx="48.8" cy="5.1" rx="2.0" ry="1.3"/><ellipse cx="61.8" cy="82.6" rx="1.7" ry="1.6"/><ellipse cx="83.6" cy="86.9" rx="1.8" ry="1.7"/><ellipse cx="47.1" cy="74.0" rx="2.1" ry="1.3"/><ellipse cx="49.9" cy="50.4" rx="1.5" ry="1.7"/><ellipse cx="54.1" cy="97.6" rx="1.7" ry="1.5"/><ellipse cx="22.8" cy="19.0" rx="2.0" ry="1.2"/><ellipse cx="15.7" cy="30.1" rx="1.5" ry="1.6"/><ellipse cx="49.0" cy="16.7" rx="2.0" ry="1.5"/><ellipse cx="79.4" cy="99.5" rx="1.3" ry="1.6"/><ellipse cx="5.0" cy="90.1" rx="1.7" ry="1.0"/><ellipse cx="43.0" cy="7.9" rx="1.1" ry="1.7"/><ellipse cx="63.7" cy="33.0" rx="1.7" ry="1.3"/><ellipse cx="67.7" cy="66.5" rx="2.1" ry="1.8"/><ellipse cx="60.6" cy="35.5" rx="1.6" ry="2.1"/><ellipse cx="54.8" cy="30.9" rx="1.9" ry="1.9"/><ellipse cx="52.6" cy="81.4" rx="1.8" ry="1.6"/><ellipse cx="24.7" cy="52.1" rx="1.6" ry="1.3"/><ellipse cx="36.5" cy="36.8" rx="1.6" ry="1.3"/><ellipse cx="74.0" cy="52.1" rx="1.5" ry="1.8"/><ellipse cx="8.1" cy="12.6" rx="1.8" ry="1.2"/><ellipse cx="36.6" cy="87.7" rx="1.8" ry="1.4"/><ellipse cx="67.6" cy="104.3" rx="1.4" ry="1.6"/><ellipse cx="61.4" cy="22.1" rx="1.1" ry="1.6"/><ellipse cx="18.1" cy="94.1" rx="2.1" ry="1.4"/><ellipse cx="42.6" cy="95.4" rx="1.7" ry="1.4"/><ellipse cx="51.1" cy="59.7" rx="1.6" ry="1.4"/><ellipse cx="50.4" cy="69.8" rx="2.0" ry="1.2"/><ellipse cx="65.0" cy="25.2" rx="2.1" ry="2.0"/><ellipse cx="14.3" cy="43.1" rx="1.1" ry="1.6"/><ellipse cx="75.6" cy="33.4" rx="1.5" ry="1.2"/><ellipse cx="5.3" cy="94.0" rx="1.4" ry="1.6"/><ellipse cx="71.9" cy="99.1" rx="1.6" ry="1.3"/><ellipse cx="3.4" cy="62.7" rx="1.3" ry="1.5"/><ellipse cx="84.5" cy="70.1" rx="1.7" ry="2.1"/></g><g opacity="0.85"><ellipse cx="21.1" cy="0.2" rx="1.3" ry="1.8"/><ellipse cx="44.4" cy="89.3" rx="1.6" ry="1.2"/><ellipse cx="60.4" cy="98.4" rx="1.8" ry="1.1"/><ellipse cx="82.4" cy="54.1" rx="1.6" ry="1.0"/><ellipse cx="72.6" cy="79.6" rx="1.2" ry="1.7"/><ellipse cx="58.4" cy="47.4" rx="1.6" ry="1.1"/><ellipse cx="59.1" cy="63.3" rx="1.2" ry="1.5"/><ellipse cx="81.9" cy="33.4" rx="1.6" ry="1.1"/><ellipse cx="25.7" cy="35.6" rx="1.8" ry="1.6"/><ellipse cx="19.3" cy="14.1" rx="1.8" ry="1.6"/><ellipse cx="72.9" cy="46.2" rx="1.8" ry="1.8"/><ellipse cx="51.8" cy="30.0" rx="2.0" ry="1.5"/><ellipse cx="63.7" cy="76.0" rx="1.1" ry="1.6"/><ellipse cx="58.1" cy="18.7" rx="1.6" ry="1.2"/><ellipse cx="63.6" cy="60.9" rx="1.7" ry="1.2"/><ellipse cx="54.5" cy="39.1" rx="1.8" ry="1.1"/><ellipse cx="46.3" cy="45.9" rx="1.7" ry="1.5"/><ellipse cx="79.4" cy="81.6" rx="1.4" ry="1.6"/><ellipse cx="81.3" cy="44.4" rx="1.9" ry="1.6"/><ellipse cx="77.2" cy="56.2" rx="1.0" ry="1.6"/><ellipse cx="51.2" cy="12.2" rx="1.7" ry="1.8"/><ellipse cx="35.7" cy="43.8" rx="1.4" ry="2.0"/><ellipse cx="83.1" cy="64.9" rx="1.6" ry="1.7"/><ellipse cx="39.9" cy="59.2" rx="2.0" ry="1.5"/><ellipse cx="42.9" cy="47.1" rx="1.8" ry="1.1"/><ellipse cx="49.9" cy="1.3" rx="1.4" ry="1.9"/><ellipse cx="37.5" cy="18.6" rx="1.8" ry="1.2"/><ellipse cx="83.1" cy="75.0" rx="2.1" ry="2.0"/><ellipse cx="63.7" cy="40.5" rx="1.8" ry="1.7"/><ellipse cx="60.1" cy="72.5" rx="1.3" ry="1.5"/><ellipse cx="57.6" cy="70.3" rx="2.1" ry="1.6"/><ellipse cx="30.3" cy="33.5" rx="1.6" ry="1.5"/><ellipse cx="59.7" cy="59.2" rx="1.7" ry="1.3"/><ellipse cx="64.1" cy="69.4" rx="2.0" ry="1.8"/><ellipse cx="44.8" cy="18.8" rx="2.0" ry="1.6"/><ellipse cx="68.6" cy="83.7" rx="1.9" ry="1.2"/><ellipse cx="55.1" cy="4.0" rx="1.2" ry="1.6"/><ellipse cx="44.1" cy="68.5" rx="1.6" ry="1.6"/><ellipse cx="66.9" cy="43.9" rx="1.5" ry="1.3"/><ellipse cx="77.2" cy="70.1" rx="1.9" ry="1.8"/><ellipse cx="42.9" cy="27.8" rx="1.3" ry="2.0"/><ellipse cx="81.2" cy="39.4" rx="1.9" ry="2.0"/><ellipse cx="65.6" cy="72.6" rx="1.9" ry="1.6"/><ellipse cx="71.0" cy="34.6" rx="1.9" ry="1.9"/><ellipse cx="5.8" cy="27.3" rx="1.7" ry="2.0"/><ellipse cx="48.1" cy="26.8" rx="2.0" ry="1.6"/><ellipse cx="16.5" cy="5.2" rx="1.7" ry="1.5"/><ellipse cx="58.7" cy="55.2" rx="1.9" ry="1.7"/><ellipse cx="54.2" cy="84.4" rx="1.2" ry="1.5"/><ellipse cx="32.3" cy="0.2" rx="1.6" ry="1.3"/><ellipse cx="24.7" cy="39.3" rx="1.7" ry="1.5"/><ellipse cx="84.6" cy="61.7" rx="1.7" ry="1.3"/><ellipse cx="38.9" cy="21.8" rx="2.1" ry="2.1"/><ellipse cx="56.2" cy="7.9" rx="1.6" ry="1.7"/><ellipse cx="77.2" cy="26.9" rx="2.0" ry="1.6"/><ellipse cx="65.7" cy="99.5" rx="1.1" ry="1.6"/><ellipse cx="12.4" cy="1.7" rx="2.0" ry="1.8"/><ellipse cx="52.6" cy="104.2" rx="1.7" ry="1.3"/><ellipse cx="75.4" cy="41.4" rx="2.0" ry="1.9"/><ellipse cx="49.9" cy="63.4" rx="1.9" ry="1.4"/><ellipse cx="50.8" cy="42.0" rx="1.1" ry="1.6"/><ellipse cx="64.8" cy="84.0" rx="1.2" ry="1.6"/><ellipse cx="47.9" cy="30.9" rx="1.3" ry="1.7"/><ellipse cx="62.6" cy="18.4" rx="1.7" ry="1.6"/><ellipse cx="19.4" cy="87.8" rx="2.1" ry="2.0"/><ellipse cx="84.7" cy="83.8" rx="1.5" ry="1.2"/><ellipse cx="13.4" cy="7.8" rx="1.3" ry="1.6"/><ellipse cx="51.6" cy="90.3" rx="1.7" ry="1.0"/><ellipse cx="8.8" cy="32.0" rx="1.9" ry="1.8"/><ellipse cx="15.1" cy="20.5" rx="1.8" ry="1.2"/><ellipse cx="68.7" cy="13.8" rx="1.4" ry="2.1"/><ellipse cx="77.7" cy="60.7" rx="0.9" ry="1.6"/><ellipse cx="11.8" cy="86.8" rx="1.2" ry="1.9"/><ellipse cx="69.5" cy="55.7" rx="1.2" ry="1.7"/><ellipse cx="23.4" cy="49.0" rx="1.6" ry="1.4"/><ellipse cx="19.5" cy="50.7" rx="1.7" ry="1.4"/><ellipse cx="15.1" cy="76.9" rx="1.1" ry="1.6"/><ellipse cx="11.8" cy="53.4" rx="1.3" ry="1.6"/><ellipse cx="30.4" cy="41.5" rx="1.3" ry="1.6"/><ellipse cx="82.1" cy="79.8" rx="1.6" ry="1.7"/><ellipse cx="56.6" cy="24.2" rx="1.6" ry="1.4"/><ellipse cx="34.3" cy="84.2" rx="1.6" ry="1.8"/><ellipse cx="31.0" cy="87.7" rx="1.3" ry="1.8"/><ellipse cx="23.9" cy="31.5" rx="2.0" ry="1.4"/><ellipse cx="75.5" cy="81.0" rx="1.3" ry="1.5"/><ellipse cx="35.6" cy="96.4" rx="1.9" ry="1.6"/><ellipse cx="9.5" cy="44.4" rx="1.9" ry="1.2"/><ellipse cx="49.5" cy="95.6" rx="1.9" ry="1.4"/><ellipse cx="73.5" cy="94.8" rx="1.5" ry="1.6"/><ellipse cx="70.3" cy="48.0" rx="1.9" ry="1.9"/><ellipse cx="19.9" cy="37.4" rx="1.8" ry="1.3"/><ellipse cx="24.8" cy="43.8" rx="1.9" ry="1.8"/><ellipse cx="55.9" cy="62.7" rx="1.6" ry="1.2"/><ellipse cx="10.0" cy="74.5" rx="1.2" ry="1.6"/><ellipse cx="39.9" cy="41.3" rx="1.7" ry="1.5"/><ellipse cx="32.0" cy="10.1" rx="2.1" ry="1.3"/><ellipse cx="34.4" cy="55.3" rx="1.9" ry="1.4"/><ellipse cx="77.0" cy="104.1" rx="1.5" ry="1.4"/><ellipse cx="73.5" cy="24.6" rx="1.9" ry="1.3"/><ellipse cx="53.1" cy="34.1" rx="1.8" ry="2.0"/><ellipse cx="21.8" cy="67.6" rx="1.9" ry="1.2"/><ellipse cx="71.4" cy="61.7" rx="2.0" ry="1.8"/><ellipse cx="58.5" cy="84.2" rx="1.8" ry="1.4"/><ellipse cx="60.3" cy="67.8" rx="1.6" ry="1.3"/><ellipse cx="14.9" cy="25.6" rx="1.7" ry="1.4"/><ellipse cx="82.5" cy="96.0" rx="1.7" ry="1.5"/><ellipse cx="72.3" cy="83.6" rx="2.0" ry="1.8"/><ellipse cx="83.7" cy="102.1" rx="1.3" ry="1.5"/></g><g><ellipse cx="70.0" cy="70.2" rx="1.9" ry="1.4"/><ellipse cx="64.6" cy="47.8" rx="2.0" ry="1.6"/><ellipse cx="72.4" cy="16.5" rx="2.0" ry="1.3"/><ellipse cx="22.3" cy="55.2" rx="1.6" ry="1.9"/><ellipse cx="39.2" cy="5.4" rx="1.9" ry="1.6"/><ellipse cx="49.2" cy="38.3" rx="2.0" ry="1.6"/><ellipse cx="55.4" cy="13.3" rx="1.4" ry="2.1"/><ellipse cx="72.2" cy="39.1" rx="1.5" ry="1.0"/><ellipse cx="65.1" cy="92.3" rx="1.3" ry="1.6"/><ellipse cx="51.5" cy="72.7" rx="2.0" ry="1.9"/><ellipse cx="52.2" cy="25.1" rx="1.6" ry="1.5"/><ellipse cx="47.0" cy="41.6" rx="1.7" ry="1.3"/><ellipse cx="39.1" cy="85.6" rx="1.5" ry="2.1"/><ellipse cx="76.1" cy="30.2" rx="1.6" ry="1.2"/><ellipse cx="56.9" cy="81.0" rx="1.7" ry="1.1"/><ellipse cx="36.8" cy="48.7" rx="1.8" ry="1.9"/><ellipse cx="29.9" cy="24.8" rx="1.6" ry="1.0"/><ellipse cx="45.7" cy="58.1" rx="1.5" ry="1.6"/><ellipse cx="53.6" cy="51.1" rx="1.6" ry="2.1"/><ellipse cx="48.3" cy="66.7" rx="1.1" ry="1.5"/><ellipse cx="85.2" cy="47.8" rx="1.6" ry="1.2"/><ellipse cx="71.2" cy="19.9" rx="1.9" ry="1.3"/><ellipse cx="56.8" cy="33.7" rx="1.4" ry="1.5"/><ellipse cx="25.6" cy="28.7" rx="2.0" ry="1.4"/><ellipse cx="28.2" cy="38.1" rx="2.1" ry="1.3"/><ellipse cx="68.5" cy="25.8" rx="1.2" ry="1.9"/><ellipse cx="34.8" cy="71.9" rx="1.5" ry="1.2"/><ellipse cx="78.4" cy="47.3" rx="2.1" ry="1.3"/><ellipse cx="63.6" cy="87.5" rx="1.6" ry="1.9"/><ellipse cx="69.8" cy="77.4" rx="1.3" ry="1.9"/><ellipse cx="48.5" cy="10.6" rx="1.4" ry="1.6"/><ellipse cx="55.8" cy="27.3" rx="1.3" ry="1.7"/><ellipse cx="31.9" cy="45.5" rx="1.6" ry="1.3"/><ellipse cx="58.3" cy="42.6" rx="1.6" ry="2.1"/><ellipse cx="33.5" cy="15.6" rx="1.6" ry="1.9"/><ellipse cx="29.0" cy="7.5" rx="1.6" ry="2.0"/><ellipse cx="57.3" cy="37.7" rx="1.8" ry="1.7"/><ellipse cx="52.0" cy="5.0" rx="1.8" ry="1.1"/><ellipse cx="54.0" cy="0.3" rx="2.1" ry="1.9"/><ellipse cx="17.1" cy="16.5" rx="2.0" ry="1.4"/><ellipse cx="38.5" cy="55.6" rx="1.7" ry="1.3"/><ellipse cx="56.1" cy="59.1" rx="1.6" ry="1.1"/><ellipse cx="30.9" cy="54.6" rx="1.8" ry="1.8"/><ellipse cx="70.8" cy="87.6" rx="1.7" ry="1.7"/><ellipse cx="26.0" cy="6.8" rx="2.0" ry="1.4"/><ellipse cx="16.2" cy="66.5" rx="1.2" ry="1.9"/><ellipse cx="55.5" cy="77.8" rx="1.8" ry="1.8"/><ellipse cx="49.8" cy="34.0" rx="2.0" ry="1.7"/><ellipse cx="66.1" cy="29.4" rx="1.4" ry="1.8"/><ellipse cx="31.6" cy="102.8" rx="1.5" ry="1.0"/></g></g><g id="bn2"><g opacity="0.55"><ellipse cx="45.2" cy="45.7" rx="1.5" ry="1.4"/><ellipse cx="12.5" cy="50.3" rx="1.7" ry="1.6"/><ellipse cx="5.2" cy="61.6" rx="1.7" ry="1.1"/><ellipse cx="29.7" cy="56.5" rx="1.7" ry="1.5"/><ellipse cx="77.2" cy="34.6" rx="2.0" ry="1.2"/><ellipse cx="60.1" cy="8.0" rx="1.4" ry="1.6"/><ellipse cx="30.6" cy="74.9" rx="1.9" ry="2.0"/><ellipse cx="4.4" cy="7.3" rx="1.4" ry="1.9"/><ellipse cx="8.7" cy="92.4" rx="1.8" ry="1.3"/><ellipse cx="52.2" cy="70.4" rx="1.6" ry="1.1"/><ellipse cx="65.5" cy="37.8" rx="1.2" ry="1.7"/><ellipse cx="40.1" cy="39.4" rx="1.7" ry="1.1"/><ellipse cx="6.5" cy="42.3" rx="1.6" ry="1.5"/><ellipse cx="39.4" cy="61.0" rx="1.8" ry="1.2"/><ellipse cx="0.6" cy="22.9" rx="2.0" ry="1.3"/><ellipse cx="18.8" cy="64.7" rx="1.0" ry="1.6"/><ellipse cx="88.8" cy="7.0" rx="1.9" ry="1.9"/><ellipse cx="50.7" cy="10.9" rx="1.5" ry="1.7"/><ellipse cx="73.7" cy="65.5" rx="1.3" ry="1.9"/><ellipse cx="40.2" cy="89.3" rx="1.7" ry="1.8"/><ellipse cx="42.1" cy="22.5" rx="2.0" ry="1.5"/><ellipse cx="30.4" cy="27.3" rx="1.7" ry="1.6"/><ellipse cx="25.7" cy="41.6" rx="1.9" ry="1.7"/><ellipse cx="7.8" cy="97.4" rx="1.4" ry="2.0"/><ellipse cx="9.6" cy="33.9" rx="1.8" ry="1.7"/><ellipse cx="36.1" cy="96.6" rx="2.0" ry="1.7"/><ellipse cx="90.9" cy="28.5" rx="1.8" ry="1.3"/><ellipse cx="41.6" cy="53.6" rx="1.3" ry="1.6"/><ellipse cx="86.3" cy="30.5" rx="1.7" ry="1.4"/><ellipse cx="74.9" cy="21.4" rx="2.1" ry="1.6"/><ellipse cx="3.7" cy="94.8" rx="2.1" ry="1.7"/><ellipse cx="44.3" cy="34.0" rx="1.7" ry="2.0"/><ellipse cx="10.1" cy="83.1" rx="1.1" ry="1.6"/><ellipse cx="69.0" cy="72.5" rx="2.1" ry="1.8"/><ellipse cx="25.4" cy="71.2" rx="1.6" ry="1.5"/><ellipse cx="67.7" cy="28.9" rx="1.6" ry="1.1"/><ellipse cx="95.4" cy="5.6" rx="1.7" ry="1.9"/><ellipse cx="40.3" cy="44.5" rx="1.5" ry="2.0"/><ellipse cx="36.2" cy="7.9" rx="1.4" ry="2.1"/><ellipse cx="43.7" cy="90.1" rx="1.8" ry="1.1"/><ellipse cx="34.1" cy="83.5" rx="2.0" ry="2.0"/><ellipse cx="31.9" cy="3.9" rx="1.1" ry="1.9"/><ellipse cx="38.2" cy="20.3" rx="1.7" ry="1.2"/><ellipse cx="66.8" cy="41.0" rx="1.4" ry="1.6"/><ellipse cx="48.8" cy="0.3" rx="2.1" ry="1.8"/><ellipse cx="49.9" cy="83.1" rx="1.8" ry="1.2"/><ellipse cx="61.1" cy="69.2" rx="1.8" ry="2.1"/><ellipse cx="49.2" cy="60.5" rx="2.0" ry="1.5"/><ellipse cx="30.2" cy="41.9" rx="1.8" ry="1.7"/><ellipse cx="12.9" cy="100.0" rx="1.9" ry="1.7"/><ellipse cx="17.9" cy="1.6" rx="1.8" ry="1.3"/><ellipse cx="0.0" cy="56.0" rx="1.5" ry="2.0"/><ellipse cx="47.6" cy="10.2" rx="1.9" ry="1.4"/><ellipse cx="43.6" cy="49.6" rx="1.9" ry="1.4"/><ellipse cx="21.3" cy="77.2" rx="1.6" ry="1.9"/><ellipse cx="56.5" cy="27.5" rx="1.8" ry="2.0"/><ellipse cx="0.4" cy="79.6" rx="1.5" ry="1.9"/><ellipse cx="81.3" cy="13.6" rx="1.6" ry="1.5"/><ellipse cx="84.9" cy="35.3" rx="1.8" ry="1.5"/><ellipse cx="44.2" cy="39.2" rx="1.2" ry="1.5"/><ellipse cx="87.8" cy="25.8" rx="1.7" ry="1.1"/><ellipse cx="8.8" cy="1.1" rx="1.5" ry="1.6"/><ellipse cx="94.3" cy="11.9" rx="1.8" ry="1.2"/><ellipse cx="28.6" cy="97.3" rx="2.0" ry="1.5"/><ellipse cx="39.3" cy="3.4" rx="1.5" ry="1.6"/><ellipse cx="79.8" cy="47.5" rx="1.3" ry="1.9"/><ellipse cx="0.3" cy="5.9" rx="1.6" ry="1.0"/><ellipse cx="92.5" cy="7.5" rx="1.4" ry="2.1"/><ellipse cx="22.9" cy="63.3" rx="1.7" ry="1.4"/><ellipse cx="38.5" cy="91.9" rx="1.6" ry="1.6"/><ellipse cx="85.5" cy="20.1" rx="1.6" ry="1.2"/><ellipse cx="37.1" cy="1.0" rx="1.5" ry="1.8"/><ellipse cx="31.9" cy="51.3" rx="1.6" ry="1.5"/><ellipse cx="31.9" cy="33.9" rx="1.8" ry="1.7"/><ellipse cx="23.4" cy="23.0" rx="1.6" ry="1.2"/><ellipse cx="57.0" cy="23.1" rx="1.1" ry="1.7"/><ellipse cx="26.3" cy="74.6" rx="1.5" ry="1.6"/><ellipse cx="17.9" cy="35.0" rx="1.9" ry="1.5"/><ellipse cx="55.4" cy="6.0" rx="1.8" ry="1.7"/><ellipse cx="92.8" cy="3.6" rx="1.9" ry="1.4"/><ellipse cx="61.9" cy="62.2" rx="1.6" ry="1.4"/></g><g opacity="0.85"><ellipse cx="10.0" cy="58.9" rx="1.7" ry="1.7"/><ellipse cx="23.6" cy="101.7" rx="1.1" ry="1.6"/><ellipse cx="82.6" cy="0.8" rx="1.7" ry="1.2"/><ellipse cx="38.9" cy="78.0" rx="1.6" ry="2.1"/><ellipse cx="45.1" cy="95.0" rx="1.8" ry="2.1"/><ellipse cx="15.2" cy="30.9" rx="2.0" ry="1.6"/><ellipse cx="13.9" cy="69.2" rx="1.1" ry="1.9"/><ellipse cx="77.9" cy="57.8" rx="1.9" ry="1.2"/><ellipse cx="12.7" cy="75.6" rx="1.4" ry="1.8"/><ellipse cx="7.2" cy="104.4" rx="1.0" ry="1.6"/><ellipse cx="89.0" cy="21.1" rx="1.6" ry="1.4"/><ellipse cx="24.8" cy="82.2" rx="1.4" ry="1.6"/><ellipse cx="18.4" cy="79.9" rx="1.5" ry="1.4"/><ellipse cx="57.1" cy="63.5" rx="1.5" ry="1.2"/><ellipse cx="48.7" cy="70.2" rx="1.7" ry="2.0"/><ellipse cx="55.1" cy="20.3" rx="1.6" ry="1.7"/><ellipse cx="63.4" cy="33.1" rx="2.0" ry="1.7"/><ellipse cx="15.1" cy="82.6" rx="2.0" ry="1.7"/><ellipse cx="52.0" cy="30.4" rx="1.9" ry="1.7"/><ellipse cx="71.4" cy="47.6" rx="1.9" ry="1.7"/><ellipse cx="45.2" cy="12.1" rx="1.6" ry="1.0"/><ellipse cx="17.6" cy="94.5" rx="2.0" ry="1.3"/><ellipse cx="64.9" cy="47.0" rx="1.7" ry="1.5"/><ellipse cx="76.9" cy="42.4" rx="1.5" ry="1.3"/><ellipse cx="35.9" cy="46.3" rx="1.8" ry="1.4"/><ellipse cx="53.9" cy="53.9" rx="1.7" ry="1.6"/><ellipse cx="46.1" cy="21.8" rx="1.6" ry="1.9"/><ellipse cx="29.2" cy="53.4" rx="1.7" ry="1.3"/><ellipse cx="4.8" cy="11.6" rx="1.6" ry="1.3"/><ellipse cx="29.3" cy="49.3" rx="1.3" ry="1.7"/><ellipse cx="81.2" cy="9.7" rx="2.1" ry="1.8"/><ellipse cx="37.1" cy="24.5" rx="1.9" ry="1.3"/><ellipse cx="45.2" cy="73.3" rx="1.9" ry="1.3"/><ellipse cx="60.3" cy="50.5" rx="0.9" ry="1.5"/><ellipse cx="57.4" cy="47.2" rx="2.0" ry="2.0"/><ellipse cx="73.5" cy="33.6" rx="1.1" ry="1.5"/><ellipse cx="65.5" cy="62.0" rx="2.0" ry="2.0"/><ellipse cx="28.6" cy="31.8" rx="1.4" ry="1.8"/><ellipse cx="0.1" cy="75.7" rx="1.4" ry="1.7"/><ellipse cx="6.7" cy="71.9" rx="1.6" ry="1.8"/><ellipse cx="89.5" cy="2.2" rx="1.1" ry="1.8"/><ellipse cx="53.9" cy="60.4" rx="1.7" ry="1.6"/><ellipse cx="34.4" cy="56.5" rx="1.2" ry="2.0"/><ellipse cx="27.8" cy="44.0" rx="1.3" ry="1.6"/><ellipse cx="46.6" cy="6.4" rx="1.3" ry="1.8"/><ellipse cx="27.3" cy="11.7" rx="1.7" ry="1.2"/><ellipse cx="37.2" cy="42.6" rx="1.5" ry="1.1"/><ellipse cx="73.0" cy="56.4" rx="1.8" ry="1.7"/><ellipse cx="9.9" cy="36.9" rx="1.8" ry="1.8"/><ellipse cx="52.4" cy="65.9" rx="1.5" ry="1.3"/><ellipse cx="85.8" cy="46.7" rx="1.5" ry="1.3"/><ellipse cx="81.3" cy="35.9" rx="1.9" ry="1.5"/><ellipse cx="86.4" cy="3.4" rx="1.4" ry="1.7"/><ellipse cx="47.4" cy="89.6" rx="1.9" ry="1.1"/><ellipse cx="22.2" cy="42.6" rx="1.6" ry="1.8"/><ellipse cx="8.6" cy="25.2" rx="2.1" ry="1.8"/><ellipse cx="30.5" cy="38.6" rx="1.9" ry="1.6"/><ellipse cx="19.3" cy="99.3" rx="1.6" ry="1.8"/><ellipse cx="20.8" cy="7.1" rx="2.0" ry="2.0"/><ellipse cx="12.6" cy="62.0" rx="1.5" ry="1.8"/><ellipse cx="3.1" cy="72.4" rx="1.6" ry="1.8"/><ellipse cx="5.3" cy="86.3" rx="1.6" ry="1.1"/><ellipse cx="28.6" cy="101.7" rx="1.8" ry="1.2"/><ellipse cx="1.9" cy="35.5" rx="1.9" ry="1.5"/><ellipse cx="6.3" cy="52.9" rx="1.6" ry="1.4"/><ellipse cx="47.2" cy="48.1" rx="2.0" ry="1.9"/><ellipse cx="5.6" cy="27.1" rx="1.9" ry="1.5"/><ellipse cx="82.3" cy="21.1" rx="1.7" ry="1.5"/><ellipse cx="83.7" cy="5.5" rx="1.5" ry="1.0"/><ellipse cx="78.5" cy="26.6" rx="2.1" ry="2.0"/><ellipse cx="49.5" cy="51.0" rx="1.7" ry="1.0"/><ellipse cx="52.6" cy="74.4" rx="2.0" ry="1.5"/><ellipse cx="28.6" cy="63.5" rx="1.8" ry="1.3"/><ellipse cx="7.7" cy="20.3" rx="1.6" ry="1.4"/><ellipse cx="61.8" cy="79.4" rx="1.4" ry="2.0"/><ellipse cx="84.5" cy="41.0" rx="1.7" ry="1.2"/><ellipse cx="70.1" cy="52.1" rx="1.7" ry="1.5"/><ellipse cx="11.9" cy="15.1" rx="1.5" ry="1.6"/><ellipse cx="2.9" cy="0.6" rx="1.9" ry="1.7"/><ellipse cx="56.5" cy="77.5" rx="1.7" ry="1.4"/><ellipse cx="3.6" cy="102.6" rx="1.4" ry="1.6"/><ellipse cx="24.1" cy="0.9" rx="2.1" ry="2.0"/><ellipse cx="9.7" cy="73.0" rx="2.1" ry="1.5"/><ellipse cx="65.7" cy="76.5" rx="1.9" ry="1.6"/><ellipse cx="86.0" cy="12.3" rx="1.4" ry="1.5"/><ellipse cx="57.1" cy="31.2" rx="1.3" ry="1.9"/><ellipse cx="58.5" cy="16.3" rx="1.6" ry="2.0"/><ellipse cx="88.2" cy="34.3" rx="1.4" ry="1.9"/><ellipse cx="0.1" cy="98.0" rx="1.6" ry="1.6"/><ellipse cx="52.4" cy="44.6" rx="1.8" ry="1.3"/><ellipse cx="47.5" cy="41.3" rx="2.0" ry="1.8"/><ellipse cx="87.4" cy="37.9" rx="1.5" ry="1.5"/><ellipse cx="40.5" cy="11.7" rx="1.7" ry="1.9"/><ellipse cx="78.0" cy="0.3" rx="1.4" ry="1.7"/><ellipse cx="64.8" cy="55.5" rx="2.0" ry="1.8"/><ellipse cx="33.9" cy="11.8" rx="2.0" ry="1.6"/><ellipse cx="2.5" cy="20.3" rx="1.7" ry="1.1"/><ellipse cx="51.8" cy="16.4" rx="1.7" ry="1.7"/><ellipse cx="53.7" cy="79.9" rx="2.0" ry="1.3"/><ellipse cx="16.5" cy="4.5" rx="1.8" ry="1.3"/><ellipse cx="19.5" cy="30.3" rx="1.9" ry="1.7"/><ellipse cx="94.1" cy="15.3" rx="1.9" ry="1.2"/><ellipse cx="63.5" cy="25.2" rx="1.2" ry="1.8"/><ellipse cx="63.4" cy="7.4" rx="1.8" ry="1.7"/><ellipse cx="16.9" cy="44.9" rx="2.1" ry="2.1"/><ellipse cx="92.8" cy="21.1" rx="1.5" ry="1.2"/><ellipse cx="72.8" cy="40.9" rx="1.2" ry="1.9"/><ellipse cx="20.9" cy="93.4" rx="1.7" ry="1.7"/><ellipse cx="57.2" cy="67.0" rx="1.6" ry="1.2"/><ellipse cx="81.5" cy="53.9" rx="1.7" ry="2.1"/><ellipse cx="68.2" cy="25.0" rx="1.6" ry="1.1"/><ellipse cx="13.6" cy="95.8" rx="1.8" ry="2.1"/><ellipse cx="13.5" cy="9.7" rx="1.8" ry="1.7"/><ellipse cx="76.7" cy="48.5" rx="2.1" ry="2.0"/><ellipse cx="35.0" cy="78.3" rx="1.7" ry="1.5"/><ellipse cx="2.5" cy="66.6" rx="1.4" ry="1.7"/><ellipse cx="14.1" cy="40.6" rx="1.7" ry="1.7"/><ellipse cx="70.5" cy="58.9" rx="1.9" ry="1.8"/><ellipse cx="16.4" cy="72.1" rx="2.0" ry="1.5"/><ellipse cx="0.1" cy="64.1" rx="1.6" ry="1.3"/><ellipse cx="57.2" cy="0.4" rx="1.0" ry="1.7"/><ellipse cx="22.5" cy="52.2" rx="1.8" ry="1.7"/><ellipse cx="45.9" cy="26.4" rx="1.8" ry="1.9"/><ellipse cx="45.0" cy="18.0" rx="1.3" ry="2.0"/><ellipse cx="79.1" cy="18.8" rx="1.9" ry="1.5"/><ellipse cx="11.8" cy="2.2" rx="1.8" ry="1.7"/><ellipse cx="3.1" cy="48.8" rx="1.7" ry="1.4"/><ellipse cx="31.4" cy="99.5" rx="2.1" ry="1.7"/><ellipse cx="44.8" cy="55.6" rx="1.6" ry="1.4"/><ellipse cx="15.3" cy="85.8" rx="1.6" ry="2.0"/><ellipse cx="1.2" cy="46.1" rx="2.0" ry="2.0"/><ellipse cx="69.1" cy="16.8" rx="1.6" ry="1.8"/><ellipse cx="2.1" cy="84.6" rx="1.6" ry="1.2"/><ellipse cx="27.3" cy="104.8" rx="1.4" ry="1.9"/><ellipse cx="34.0" cy="21.3" rx="1.2" ry="1.7"/><ellipse cx="54.1" cy="50.4" rx="1.7" ry="1.7"/><ellipse cx="52.5" cy="34.0" rx="1.9" ry="1.8"/><ellipse cx="37.8" cy="58.1" rx="2.0" ry="1.5"/><ellipse cx="15.2" cy="78.9" rx="1.9" ry="1.7"/><ellipse cx="55.8" cy="41.2" rx="1.6" ry="1.2"/><ellipse cx="69.3" cy="67.1" rx="1.3" ry="1.5"/><ellipse cx="30.9" cy="78.8" rx="1.5" ry="1.5"/><ellipse cx="72.0" cy="18.3" rx="1.5" ry="1.0"/><ellipse cx="20.7" cy="82.3" rx="1.3" ry="2.1"/><ellipse cx="50.0" cy="55.4" rx="1.6" ry="1.9"/><ellipse cx="34.7" cy="27.0" rx="2.0" ry="1.7"/><ellipse cx="3.6" cy="75.8" rx="1.6" ry="1.7"/><ellipse cx="90.8" cy="14.8" rx="1.6" ry="1.5"/><ellipse cx="26.0" cy="99.7" rx="1.5" ry="2.0"/><ellipse cx="22.1" cy="87.1" rx="1.5" ry="1.1"/><ellipse cx="81.1" cy="24.5" rx="1.6" ry="1.0"/><ellipse cx="78.7" cy="11.9" rx="1.2" ry="1.6"/><ellipse cx="50.7" cy="89.2" rx="2.0" ry="1.3"/><ellipse cx="52.1" cy="6.6" rx="1.5" ry="1.5"/><ellipse cx="59.4" cy="36.9" rx="1.9" ry="1.7"/><ellipse cx="19.0" cy="51.8" rx="1.2" ry="1.5"/><ellipse cx="4.1" cy="40.1" rx="1.8" ry="2.1"/><ellipse cx="27.2" cy="2.1" rx="1.4" ry="1.7"/><ellipse cx="77.2" cy="54.6" rx="1.6" ry="1.5"/><ellipse cx="34.7" cy="30.3" rx="1.9" ry="1.9"/><ellipse cx="1.1" cy="11.1" rx="1.0" ry="1.6"/><ellipse cx="40.5" cy="50.0" rx="1.3" ry="1.7"/><ellipse cx="8.1" cy="56.2" rx="1.6" ry="1.3"/><ellipse cx="8.8" cy="4.9" rx="1.8" ry="1.2"/><ellipse cx="17.1" cy="9.1" rx="1.8" ry="1.9"/><ellipse cx="85.6" cy="23.4" rx="1.9" ry="2.1"/></g><g opacity="0.7"><ellipse cx="45.8" cy="64.5" rx="1.7" ry="1.8"/><ellipse cx="9.4" cy="100.2" rx="1.1" ry="1.7"/><ellipse cx="34.9" cy="60.8" rx="1.2" ry="1.8"/><ellipse cx="10.9" cy="79.1" rx="2.0" ry="1.3"/><ellipse cx="52.0" cy="3.3" rx="2.0" ry="2.0"/><ellipse cx="73.4" cy="52.2" rx="1.8" ry="2.1"/><ellipse cx="42.2" cy="8.9" rx="1.9" ry="1.9"/><ellipse cx="5.7" cy="66.7" rx="1.3" ry="2.0"/><ellipse cx="12.6" cy="54.7" rx="1.6" ry="1.2"/><ellipse cx="79.1" cy="5.1" rx="1.8" ry="1.5"/><ellipse cx="22.5" cy="13.9" rx="1.5" ry="1.7"/><ellipse cx="27.7" cy="16.2" rx="2.1" ry="1.9"/><ellipse cx="61.1" cy="29.2" rx="1.8" ry="1.8"/><ellipse cx="66.7" cy="4.6" rx="1.5" ry="1.4"/><ellipse cx="81.1" cy="28.7" rx="1.9" ry="1.7"/><ellipse cx="56.0" cy="84.3" rx="2.0" ry="1.6"/><ellipse cx="49.6" cy="77.5" rx="1.8" ry="1.7"/><ellipse cx="14.9" cy="65.6" rx="1.7" ry="1.4"/><ellipse cx="77.1" cy="8.8" rx="1.6" ry="1.3"/><ellipse cx="89.2" cy="11.1" rx="2.0" ry="1.8"/><ellipse cx="77.1" cy="61.2" rx="1.6" ry="1.0"/><ellipse cx="71.4" cy="22.9" rx="1.7" ry="1.5"/><ellipse cx="41.3" cy="36.4" rx="1.8" ry="1.6"/><ellipse cx="48.8" cy="30.6" rx="1.6" ry="1.9"/><ellipse cx="29.9" cy="92.4" rx="1.9" ry="1.6"/><ellipse cx="15.6" cy="23.6" rx="1.5" ry="2.0"/><ellipse cx="75.6" cy="11.8" rx="1.5" ry="0.9"/><ellipse cx="27.2" cy="93.9" rx="1.9" ry="1.1"/><ellipse cx="1.7" cy="53.3" rx="1.8" ry="1.9"/><ellipse cx="36.1" cy="50.4" rx="1.6" ry="1.3"/><ellipse cx="66.1" cy="14.8" rx="1.9" ry="2.1"/><ellipse cx="41.9" cy="16.2" rx="1.6" ry="1.8"/><ellipse cx="42.6" cy="81.9" rx="2.0" ry="1.7"/><ellipse cx="33.5" cy="103.0" rx="1.9" ry="1.4"/><ellipse cx="38.3" cy="29.1" rx="1.8" ry="1.6"/><ellipse cx="70.0" cy="0.2" rx="1.8" ry="1.2"/><ellipse cx="8.4" cy="76.2" rx="2.0" ry="1.5"/><ellipse cx="12.0" cy="45.6" rx="1.3" ry="1.6"/><ellipse cx="29.7" cy="85.1" rx="1.6" ry="1.6"/><ellipse cx="58.9" cy="55.9" rx="1.8" ry="1.1"/><ellipse cx="43.5" cy="5.0" rx="1.6" ry="1.5"/><ellipse cx="44.0" cy="70.4" rx="1.6" ry="1.6"/><ellipse cx="50.0" cy="23.1" rx="1.1" ry="1.6"/><ellipse cx="67.6" cy="7.7" rx="1.6" ry="1.0"/><ellipse cx="21.4" cy="38.2" rx="2.0" ry="2.0"/><ellipse cx="4.1" cy="23.5" rx="1.6" ry="1.2"/><ellipse cx="25.5" cy="65.3" rx="1.1" ry="1.6"/><ellipse cx="14.0" cy="104.3" rx="1.7" ry="1.3"/><ellipse cx="15.9" cy="90.8" rx="1.5" ry="1.7"/><ellipse cx="20.2" cy="20.0" rx="1.6" ry="1.1"/><ellipse cx="61.7" cy="10.9" rx="2.0" ry="1.8"/><ellipse cx="18.7" cy="57.0" rx="1.0" ry="1.6"/><ellipse cx="45.2" cy="86.6" rx="1.7" ry="1.7"/><ellipse cx="41.8" cy="29.0" rx="2.1" ry="1.7"/><ellipse cx="81.5" cy="39.4" rx="1.4" ry="1.9"/><ellipse cx="0.4" cy="14.2" rx="1.7" ry="1.6"/><ellipse cx="54.3" cy="37.1" rx="1.8" ry="1.7"/><ellipse cx="74.9" cy="6.0" rx="1.9" ry="2.1"/><ellipse cx="30.8" cy="104.7" rx="1.8" ry="1.7"/><ellipse cx="25.0" cy="47.7" rx="2.0" ry="1.2"/><ellipse cx="61.3" cy="58.0" rx="1.4" ry="1.9"/><ellipse cx="74.2" cy="45.5" rx="1.9" ry="2.0"/><ellipse cx="70.6" cy="43.4" rx="1.9" ry="1.6"/><ellipse cx="9.1" cy="30.3" rx="2.0" ry="1.8"/><ellipse cx="64.6" cy="67.1" rx="2.0" ry="1.7"/><ellipse cx="87.2" cy="43.1" rx="1.0" ry="1.6"/><ellipse cx="28.8" cy="59.7" rx="1.6" ry="1.9"/><ellipse cx="32.3" cy="17.6" rx="1.7" ry="1.7"/><ellipse cx="68.4" cy="21.4" rx="1.8" ry="1.8"/><ellipse cx="41.2" cy="32.6" rx="1.6" ry="2.1"/><ellipse cx="23.3" cy="19.4" rx="0.9" ry="1.5"/><ellipse cx="29.7" cy="6.2" rx="1.4" ry="1.5"/><ellipse cx="74.0" cy="1.5" rx="1.8" ry="1.4"/><ellipse cx="14.8" cy="27.1" rx="2.0" ry="1.7"/><ellipse cx="33.6" cy="41.6" rx="1.8" ry="1.9"/><ellipse cx="25.9" cy="5.6" rx="1.6" ry="1.4"/><ellipse cx="8.7" cy="62.7" rx="1.7" ry="2.0"/><ellipse cx="12.8" cy="21.7" rx="1.5" ry="1.4"/><ellipse cx="96.0" cy="2.0" rx="1.4" ry="1.7"/><ellipse cx="5.5" cy="2.6" rx="1.9" ry="2.0"/><ellipse cx="22.7" cy="55.4" rx="1.7" ry="1.9"/><ellipse cx="1.2" cy="61.0" rx="1.3" ry="1.8"/><ellipse cx="1.0" cy="88.2" rx="1.7" ry="2.0"/></g><g><ellipse cx="11.1" cy="39.8" rx="1.8" ry="1.5"/><ellipse cx="64.1" cy="18.8" rx="1.2" ry="1.9"/><ellipse cx="18.9" cy="86.4" rx="1.7" ry="1.3"/><ellipse cx="80.2" cy="43.9" rx="1.8" ry="1.6"/><ellipse cx="25.8" cy="53.4" rx="1.6" ry="1.0"/><ellipse cx="33.7" cy="0.5" rx="1.7" ry="1.1"/><ellipse cx="32.1" cy="71.7" rx="1.7" ry="1.7"/><ellipse cx="31.3" cy="9.5" rx="1.7" ry="2.0"/><ellipse cx="22.3" cy="97.5" rx="2.0" ry="1.6"/><ellipse cx="24.2" cy="58.2" rx="1.2" ry="1.8"/><ellipse cx="62.1" cy="1.3" rx="1.9" ry="1.2"/><ellipse cx="68.3" cy="11.0" rx="1.6" ry="1.5"/><ellipse cx="40.7" cy="68.8" rx="1.7" ry="1.1"/><ellipse cx="64.5" cy="71.7" rx="2.0" ry="1.6"/><ellipse cx="14.7" cy="18.7" rx="1.3" ry="2.0"/><ellipse cx="34.4" cy="75.1" rx="1.4" ry="1.9"/><ellipse cx="25.3" cy="87.4" rx="1.7" ry="1.1"/><ellipse cx="10.9" cy="66.4" rx="1.1" ry="1.8"/><ellipse cx="60.4" cy="74.8" rx="1.7" ry="1.1"/><ellipse cx="7.8" cy="46.4" rx="1.7" ry="1.5"/><ellipse cx="29.4" cy="21.6" rx="1.8" ry="1.1"/><ellipse cx="69.1" cy="62.5" rx="1.8" ry="1.3"/><ellipse cx="37.1" cy="33.9" rx="1.6" ry="1.2"/><ellipse cx="39.4" cy="83.5" rx="1.6" ry="1.4"/><ellipse cx="42.9" cy="58.2" rx="1.7" ry="1.1"/><ellipse cx="25.9" cy="27.6" rx="1.4" ry="2.0"/><ellipse cx="72.2" cy="15.0" rx="1.8" ry="1.2"/><ellipse cx="20.3" cy="71.9" rx="1.8" ry="1.1"/><ellipse cx="48.9" cy="37.8" rx="1.6" ry="1.2"/><ellipse cx="33.1" cy="65.6" rx="1.8" ry="1.7"/><ellipse cx="62.4" cy="43.6" rx="1.6" ry="1.1"/><ellipse cx="5.3" cy="80.9" rx="1.6" ry="1.2"/><ellipse cx="8.6" cy="10.6" rx="2.0" ry="1.7"/><ellipse cx="38.1" cy="73.0" rx="1.7" ry="1.2"/><ellipse cx="40.7" cy="25.7" rx="1.9" ry="2.1"/><ellipse cx="61.0" cy="65.6" rx="1.6" ry="2.0"/><ellipse cx="64.8" cy="52.1" rx="1.5" ry="1.6"/><ellipse cx="69.3" cy="37.6" rx="2.0" ry="2.0"/><ellipse cx="18.8" cy="26.7" rx="1.9" ry="1.6"/><ellipse cx="37.2" cy="15.3" rx="2.1" ry="1.3"/><ellipse cx="70.5" cy="32.3" rx="1.7" ry="1.7"/><ellipse cx="23.7" cy="68.5" rx="2.0" ry="1.3"/><ellipse cx="25.3" cy="78.7" rx="1.6" ry="1.1"/><ellipse cx="6.2" cy="90.0" rx="2.0" ry="1.6"/><ellipse cx="76.0" cy="28.5" rx="1.8" ry="1.7"/><ellipse cx="30.5" cy="46.0" rx="1.7" ry="1.3"/><ellipse cx="5.3" cy="32.0" rx="1.9" ry="1.9"/><ellipse cx="84.2" cy="49.5" rx="1.1" ry="1.6"/><ellipse cx="71.9" cy="4.6" rx="1.9" ry="1.5"/><ellipse cx="62.6" cy="15.4" rx="1.9" ry="1.2"/><ellipse cx="33.3" cy="87.8" rx="1.9" ry="1.2"/><ellipse cx="60.6" cy="21.6" rx="2.0" ry="1.8"/><ellipse cx="89.2" cy="17.4" rx="2.0" ry="2.0"/><ellipse cx="74.0" cy="61.0" rx="2.0" ry="1.5"/><ellipse cx="56.5" cy="12.6" rx="1.7" ry="1.2"/><ellipse cx="4.1" cy="57.4" rx="1.8" ry="1.1"/><ellipse cx="19.6" cy="68.7" rx="1.6" ry="1.2"/><ellipse cx="44.9" cy="79.6" rx="1.9" ry="1.5"/><ellipse cx="8.0" cy="49.9" rx="1.9" ry="1.7"/><ellipse cx="8.4" cy="87.8" rx="1.6" ry="1.6"/><ellipse cx="26.6" cy="23.7" rx="1.5" ry="1.8"/><ellipse cx="28.3" cy="69.6" rx="1.9" ry="1.6"/><ellipse cx="3.3" cy="99.0" rx="1.6" ry="1.6"/><ellipse cx="27.9" cy="35.5" rx="1.7" ry="1.5"/><ellipse cx="50.7" cy="48.0" rx="1.5" ry="1.5"/><ellipse cx="48.9" cy="19.9" rx="1.9" ry="1.9"/><ellipse cx="30.3" cy="13.0" rx="1.7" ry="1.2"/><ellipse cx="25.1" cy="33.4" rx="1.1" ry="1.6"/><ellipse cx="70.9" cy="7.5" rx="1.5" ry="1.2"/><ellipse cx="38.5" cy="54.1" rx="1.8" ry="1.7"/></g></g><g id="bn3"><g opacity="0.55"><ellipse cx="84.3" cy="89.6" rx="1.4" ry="1.8"/><ellipse cx="0.7" cy="32.6" rx="1.7" ry="1.5"/><ellipse cx="16.4" cy="82.9" rx="1.7" ry="1.8"/><ellipse cx="10.1" cy="44.5" rx="1.5" ry="2.1"/><ellipse cx="21.8" cy="69.1" rx="1.4" ry="1.9"/><ellipse cx="34.9" cy="23.3" rx="1.8" ry="1.6"/><ellipse cx="31.2" cy="104.1" rx="1.4" ry="1.6"/><ellipse cx="67.7" cy="56.6" rx="1.3" ry="1.7"/><ellipse cx="60.7" cy="19.4" rx="1.5" ry="1.9"/><ellipse cx="94.0" cy="98.8" rx="1.6" ry="1.5"/><ellipse cx="53.2" cy="30.8" rx="1.9" ry="1.3"/><ellipse cx="57.6" cy="86.5" rx="1.5" ry="1.1"/><ellipse cx="70.1" cy="42.6" rx="1.8" ry="1.5"/><ellipse cx="4.8" cy="54.8" rx="1.9" ry="1.3"/><ellipse cx="2.4" cy="96.8" rx="1.7" ry="1.6"/><ellipse cx="78.8" cy="43.2" rx="1.8" ry="1.7"/><ellipse cx="19.3" cy="75.2" rx="1.7" ry="2.1"/><ellipse cx="91.4" cy="56.1" rx="1.6" ry="1.6"/><ellipse cx="100.5" cy="62.2" rx="1.8" ry="1.1"/><ellipse cx="88.6" cy="103.3" rx="1.6" ry="1.1"/><ellipse cx="13.5" cy="56.0" rx="1.3" ry="1.9"/><ellipse cx="9.5" cy="83.7" rx="1.1" ry="1.7"/><ellipse cx="71.4" cy="104.6" rx="2.0" ry="1.5"/><ellipse cx="1.1" cy="41.0" rx="2.0" ry="2.0"/><ellipse cx="9.9" cy="35.2" rx="1.8" ry="1.2"/><ellipse cx="2.5" cy="90.3" rx="2.0" ry="1.8"/><ellipse cx="25.3" cy="87.9" rx="2.0" ry="1.5"/><ellipse cx="43.4" cy="34.2" rx="2.1" ry="1.5"/><ellipse cx="79.7" cy="37.9" rx="1.8" ry="1.5"/><ellipse cx="5.3" cy="82.2" rx="1.9" ry="2.0"/><ellipse cx="29.3" cy="73.2" rx="1.5" ry="1.0"/><ellipse cx="48.1" cy="16.4" rx="1.7" ry="1.5"/><ellipse cx="20.0" cy="87.5" rx="1.3" ry="1.5"/><ellipse cx="68.9" cy="76.1" rx="1.4" ry="1.8"/><ellipse cx="46.4" cy="21.9" rx="1.5" ry="1.9"/><ellipse cx="68.5" cy="18.9" rx="1.6" ry="2.0"/><ellipse cx="5.9" cy="10.3" rx="1.3" ry="1.6"/><ellipse cx="12.8" cy="71.6" rx="1.1" ry="1.5"/><ellipse cx="74.4" cy="61.0" rx="1.9" ry="1.3"/><ellipse cx="22.1" cy="9.2" rx="2.0" ry="1.8"/><ellipse cx="83.2" cy="85.7" rx="1.8" ry="1.8"/><ellipse cx="23.7" cy="54.8" rx="1.6" ry="2.0"/><ellipse cx="30.1" cy="26.4" rx="1.7" ry="1.3"/><ellipse cx="37.6" cy="9.8" rx="1.7" ry="1.3"/><ellipse cx="19.9" cy="16.5" rx="2.0" ry="1.4"/><ellipse cx="60.1" cy="61.6" rx="2.0" ry="1.9"/><ellipse cx="33.1" cy="42.6" rx="1.7" ry="1.3"/><ellipse cx="16.4" cy="18.8" rx="1.2" ry="1.6"/><ellipse cx="77.9" cy="64.7" rx="1.7" ry="1.5"/><ellipse cx="62.6" cy="26.2" rx="1.8" ry="1.4"/><ellipse cx="27.3" cy="9.4" rx="2.0" ry="1.8"/><ellipse cx="52.9" cy="26.4" rx="1.6" ry="1.1"/><ellipse cx="97.4" cy="57.6" rx="1.5" ry="1.4"/><ellipse cx="1.8" cy="61.5" rx="1.3" ry="1.6"/><ellipse cx="94.9" cy="51.2" rx="1.9" ry="2.1"/><ellipse cx="72.0" cy="18.8" rx="2.0" ry="2.0"/><ellipse cx="57.0" cy="31.3" rx="1.1" ry="1.5"/><ellipse cx="49.5" cy="104.8" rx="1.7" ry="1.6"/><ellipse cx="79.0" cy="99.6" rx="1.7" ry="1.3"/><ellipse cx="84.8" cy="41.0" rx="1.9" ry="1.1"/><ellipse cx="5.6" cy="28.0" rx="1.6" ry="1.9"/><ellipse cx="47.1" cy="56.0" rx="1.8" ry="1.8"/><ellipse cx="41.7" cy="95.8" rx="2.1" ry="1.9"/><ellipse cx="60.7" cy="103.8" rx="1.8" ry="1.3"/><ellipse cx="0.6" cy="73.5" rx="1.5" ry="1.6"/><ellipse cx="37.7" cy="102.8" rx="1.7" ry="1.4"/><ellipse cx="80.7" cy="104.8" rx="2.0" ry="1.7"/><ellipse cx="63.3" cy="66.7" rx="1.8" ry="1.1"/><ellipse cx="27.5" cy="35.1" rx="2.0" ry="2.0"/><ellipse cx="35.9" cy="16.2" rx="2.0" ry="1.9"/><ellipse cx="26.3" cy="56.8" rx="1.2" ry="1.7"/><ellipse cx="98.8" cy="83.4" rx="1.9" ry="1.6"/><ellipse cx="27.3" cy="95.0" rx="1.5" ry="1.6"/><ellipse cx="8.9" cy="7.9" rx="1.6" ry="2.0"/><ellipse cx="45.2" cy="15.3" rx="1.9" ry="1.7"/><ellipse cx="29.3" cy="47.7" rx="2.0" ry="1.7"/><ellipse cx="45.8" cy="74.9" rx="1.8" ry="1.4"/><ellipse cx="19.9" cy="71.7" rx="2.0" ry="1.2"/><ellipse cx="8.9" cy="93.9" rx="1.5" ry="1.4"/><ellipse cx="101.0" cy="71.6" rx="1.9" ry="1.6"/><ellipse cx="100.4" cy="80.5" rx="1.7" ry="1.2"/></g><g opacity="0.85"><ellipse cx="69.2" cy="84.0" rx="1.3" ry="1.8"/><ellipse cx="73.7" cy="80.3" rx="1.7" ry="1.4"/><ellipse cx="64.0" cy="43.4" rx="1.8" ry="1.3"/><ellipse cx="59.3" cy="82.7" rx="1.4" ry="1.9"/><ellipse cx="39.7" cy="19.0" rx="1.7" ry="1.5"/><ellipse cx="48.5" cy="71.9" rx="1.5" ry="1.3"/><ellipse cx="15.9" cy="70.5" rx="2.0" ry="2.1"/><ellipse cx="94.4" cy="91.3" rx="1.8" ry="1.1"/><ellipse cx="32.5" cy="12.6" rx="1.8" ry="1.7"/><ellipse cx="4.2" cy="69.5" rx="1.7" ry="1.7"/><ellipse cx="65.8" cy="72.0" rx="1.9" ry="1.8"/><ellipse cx="8.6" cy="47.5" rx="1.6" ry="1.8"/><ellipse cx="6.6" cy="23.2" rx="1.4" ry="1.7"/><ellipse cx="56.8" cy="55.3" rx="2.1" ry="1.5"/><ellipse cx="1.8" cy="15.8" rx="1.3" ry="1.5"/><ellipse cx="93.1" cy="61.2" rx="2.0" ry="2.0"/><ellipse cx="10.7" cy="12.3" rx="1.7" ry="1.3"/><ellipse cx="9.7" cy="89.1" rx="1.5" ry="1.0"/><ellipse cx="88.9" cy="92.3" rx="2.0" ry="1.5"/><ellipse cx="33.0" cy="97.8" rx="1.7" ry="2.0"/><ellipse cx="10.2" cy="63.4" rx="1.4" ry="2.0"/><ellipse cx="95.1" cy="68.2" rx="1.7" ry="1.0"/><ellipse cx="7.5" cy="38.5" rx="2.1" ry="1.4"/><ellipse cx="25.3" cy="37.7" rx="1.6" ry="1.1"/><ellipse cx="30.7" cy="8.9" rx="1.6" ry="1.8"/><ellipse cx="34.7" cy="85.6" rx="1.2" ry="1.5"/><ellipse cx="21.2" cy="25.8" rx="1.8" ry="1.2"/><ellipse cx="15.1" cy="12.3" rx="1.7" ry="1.8"/><ellipse cx="13.6" cy="44.4" rx="1.7" ry="1.5"/><ellipse cx="58.2" cy="68.7" rx="1.4" ry="1.7"/><ellipse cx="48.6" cy="29.3" rx="1.9" ry="1.9"/><ellipse cx="92.0" cy="29.3" rx="1.5" ry="2.0"/><ellipse cx="64.2" cy="21.8" rx="1.9" ry="1.5"/><ellipse cx="85.9" cy="95.6" rx="1.5" ry="0.9"/><ellipse cx="6.0" cy="73.6" rx="1.5" ry="1.9"/><ellipse cx="82.8" cy="76.5" rx="1.7" ry="1.4"/><ellipse cx="28.2" cy="81.8" rx="1.5" ry="1.1"/><ellipse cx="75.6" cy="71.2" rx="1.8" ry="1.1"/><ellipse cx="80.0" cy="50.2" rx="2.0" ry="1.9"/><ellipse cx="90.1" cy="81.7" rx="1.4" ry="2.0"/><ellipse cx="18.9" cy="42.5" rx="1.3" ry="2.1"/><ellipse cx="40.3" cy="69.7" rx="1.3" ry="2.0"/><ellipse cx="37.3" cy="47.4" rx="1.5" ry="1.6"/><ellipse cx="26.1" cy="63.5" rx="2.0" ry="1.6"/><ellipse cx="87.7" cy="25.7" rx="1.8" ry="1.1"/><ellipse cx="52.4" cy="23.0" rx="1.9" ry="1.2"/><ellipse cx="14.3" cy="97.3" rx="1.2" ry="1.6"/><ellipse cx="91.9" cy="96.4" rx="1.9" ry="1.6"/><ellipse cx="92.6" cy="42.6" rx="1.7" ry="1.3"/><ellipse cx="72.8" cy="72.8" rx="2.0" ry="1.7"/><ellipse cx="39.1" cy="28.0" rx="1.7" ry="1.2"/><ellipse cx="54.9" cy="21.1" rx="1.3" ry="1.9"/><ellipse cx="95.7" cy="96.0" rx="1.8" ry="1.1"/><ellipse cx="75.1" cy="28.9" rx="2.0" ry="1.4"/><ellipse cx="29.7" cy="59.5" rx="1.4" ry="1.8"/><ellipse cx="6.6" cy="33.6" rx="1.5" ry="2.0"/><ellipse cx="19.3" cy="63.3" rx="1.2" ry="1.7"/><ellipse cx="29.4" cy="55.7" rx="1.5" ry="1.0"/><ellipse cx="60.6" cy="57.1" rx="1.8" ry="1.9"/><ellipse cx="1.0" cy="51.0" rx="2.1" ry="1.4"/><ellipse cx="84.1" cy="101.6" rx="2.0" ry="1.4"/><ellipse cx="47.3" cy="34.1" rx="1.7" ry="1.3"/><ellipse cx="44.1" cy="102.6" rx="2.0" ry="1.3"/><ellipse cx="44.1" cy="52.0" rx="2.1" ry="1.5"/><ellipse cx="10.0" cy="40.4" rx="1.4" ry="1.7"/><ellipse cx="24.9" cy="100.6" rx="1.6" ry="1.4"/><ellipse cx="52.9" cy="77.4" rx="1.7" ry="1.1"/><ellipse cx="83.3" cy="28.0" rx="1.9" ry="1.7"/><ellipse cx="12.9" cy="102.4" rx="1.9" ry="1.4"/><ellipse cx="61.3" cy="92.0" rx="1.0" ry="1.5"/><ellipse cx="84.2" cy="50.1" rx="1.6" ry="1.1"/><ellipse cx="41.7" cy="13.5" rx="1.3" ry="1.7"/><ellipse cx="14.3" cy="38.6" rx="1.6" ry="1.5"/><ellipse cx="42.2" cy="43.2" rx="1.5" ry="1.1"/><ellipse cx="65.9" cy="38.9" rx="2.0" ry="1.2"/><ellipse cx="80.5" cy="67.8" rx="1.7" ry="1.1"/><ellipse cx="6.5" cy="100.7" rx="1.7" ry="1.5"/><ellipse cx="22.4" cy="32.4" rx="1.5" ry="1.1"/><ellipse cx="81.8" cy="45.9" rx="1.8" ry="1.3"/><ellipse cx="17.9" cy="98.8" rx="1.8" ry="1.5"/><ellipse cx="76.7" cy="36.4" rx="1.9" ry="1.8"/><ellipse cx="60.0" cy="98.9" rx="1.6" ry="1.8"/><ellipse cx="100.1" cy="91.2" rx="1.7" ry="1.0"/><ellipse cx="60.2" cy="38.7" rx="1.9" ry="1.4"/><ellipse cx="40.8" cy="78.0" rx="1.5" ry="1.9"/><ellipse cx="63.8" cy="49.8" rx="1.8" ry="1.5"/><ellipse cx="21.6" cy="101.2" rx="1.7" ry="1.1"/><ellipse cx="55.5" cy="48.4" rx="1.5" ry="1.3"/><ellipse cx="11.9" cy="50.3" rx="1.2" ry="1.6"/><ellipse cx="100.1" cy="35.1" rx="1.6" ry="1.2"/><ellipse cx="70.0" cy="59.1" rx="1.8" ry="2.0"/><ellipse cx="19.8" cy="80.4" rx="1.6" ry="1.4"/><ellipse cx="80.5" cy="56.2" rx="2.0" ry="2.0"/><ellipse cx="2.4" cy="104.0" rx="1.6" ry="1.8"/><ellipse cx="9.9" cy="20.2" rx="1.5" ry="1.6"/><ellipse cx="35.5" cy="28.0" rx="1.7" ry="1.3"/><ellipse cx="86.4" cy="30.1" rx="2.1" ry="1.5"/><ellipse cx="16.0" cy="51.6" rx="2.1" ry="1.6"/><ellipse cx="93.6" cy="32.6" rx="1.6" ry="1.3"/><ellipse cx="71.7" cy="95.4" rx="1.2" ry="1.9"/><ellipse cx="2.5" cy="26.2" rx="2.1" ry="1.4"/><ellipse cx="88.3" cy="89.2" rx="2.1" ry="1.8"/><ellipse cx="43.0" cy="57.7" rx="2.1" ry="1.4"/><ellipse cx="76.5" cy="103.0" rx="2.0" ry="1.5"/><ellipse cx="57.4" cy="91.7" rx="1.7" ry="1.0"/><ellipse cx="49.6" cy="91.6" rx="1.8" ry="1.5"/><ellipse cx="49.4" cy="12.5" rx="1.1" ry="1.8"/><ellipse cx="38.0" cy="91.1" rx="1.6" ry="1.5"/><ellipse cx="97.4" cy="99.9" rx="1.3" ry="2.0"/><ellipse cx="62.2" cy="53.6" rx="2.1" ry="1.4"/><ellipse cx="41.1" cy="38.9" rx="1.9" ry="1.7"/><ellipse cx="24.2" cy="27.9" rx="1.1" ry="1.7"/><ellipse cx="34.5" cy="68.7" rx="1.3" ry="1.6"/><ellipse cx="32.0" cy="35.4" rx="2.0" ry="1.4"/><ellipse cx="76.2" cy="41.1" rx="1.5" ry="1.7"/><ellipse cx="12.5" cy="84.6" rx="1.8" ry="1.3"/><ellipse cx="75.5" cy="92.4" rx="1.7" ry="1.2"/><ellipse cx="99.7" cy="68.6" rx="1.7" ry="2.0"/><ellipse cx="1.8" cy="81.1" rx="2.0" ry="1.5"/><ellipse cx="19.4" cy="56.3" rx="1.9" ry="1.6"/><ellipse cx="51.3" cy="59.6" rx="1.9" ry="1.2"/><ellipse cx="34.1" cy="46.7" rx="1.3" ry="1.7"/><ellipse cx="34.3" cy="32.4" rx="1.0" ry="1.5"/><ellipse cx="43.7" cy="20.0" rx="2.1" ry="1.6"/><ellipse cx="24.1" cy="11.8" rx="2.0" ry="1.8"/><ellipse cx="17.3" cy="9.6" rx="1.7" ry="1.7"/><ellipse cx="34.9" cy="101.1" rx="1.7" ry="1.2"/><ellipse cx="65.9" cy="75.2" rx="2.1" ry="1.8"/><ellipse cx="91.2" cy="66.3" rx="1.4" ry="1.8"/><ellipse cx="70.3" cy="79.8" rx="1.2" ry="1.5"/><ellipse cx="78.2" cy="53.7" rx="1.3" ry="1.9"/><ellipse cx="17.4" cy="90.5" rx="1.5" ry="1.4"/><ellipse cx="41.1" cy="63.2" rx="1.9" ry="1.6"/><ellipse cx="3.8" cy="43.0" rx="1.5" ry="1.8"/><ellipse cx="19.7" cy="47.9" rx="1.3" ry="1.6"/><ellipse cx="67.7" cy="48.1" rx="1.8" ry="1.2"/><ellipse cx="82.1" cy="33.5" rx="1.7" ry="1.2"/><ellipse cx="29.9" cy="20.0" rx="1.5" ry="1.6"/><ellipse cx="44.3" cy="78.5" rx="1.6" ry="1.9"/><ellipse cx="57.9" cy="45.9" rx="1.8" ry="1.6"/><ellipse cx="70.3" cy="52.1" rx="2.0" ry="1.4"/><ellipse cx="54.3" cy="69.2" rx="1.9" ry="2.0"/><ellipse cx="84.7" cy="53.8" rx="1.5" ry="1.6"/><ellipse cx="13.9" cy="31.0" rx="2.0" ry="1.5"/><ellipse cx="94.1" cy="85.9" rx="1.5" ry="1.9"/><ellipse cx="34.6" cy="61.8" rx="1.6" ry="1.1"/><ellipse cx="65.7" cy="59.9" rx="1.9" ry="2.1"/><ellipse cx="89.9" cy="71.2" rx="1.5" ry="1.2"/><ellipse cx="14.2" cy="60.4" rx="1.6" ry="1.9"/><ellipse cx="7.2" cy="42.4" rx="1.7" ry="1.1"/><ellipse cx="35.3" cy="51.6" rx="1.7" ry="1.4"/><ellipse cx="5.9" cy="96.5" rx="1.7" ry="1.4"/><ellipse cx="53.8" cy="39.6" rx="2.0" ry="1.6"/><ellipse cx="61.0" cy="88.1" rx="1.5" ry="1.6"/><ellipse cx="18.9" cy="12.7" rx="1.5" ry="1.7"/><ellipse cx="14.3" cy="27.3" rx="1.9" ry="1.7"/><ellipse cx="32.7" cy="17.5" rx="2.1" ry="1.5"/><ellipse cx="53.8" cy="89.9" rx="1.7" ry="1.3"/><ellipse cx="22.8" cy="98.2" rx="2.1" ry="1.3"/><ellipse cx="73.3" cy="58.1" rx="1.8" ry="1.6"/><ellipse cx="17.8" cy="31.1" rx="1.5" ry="2.0"/></g><g><ellipse cx="64.3" cy="104.2" rx="1.2" ry="1.9"/><ellipse cx="55.5" cy="37.0" rx="1.9" ry="1.6"/><ellipse cx="83.7" cy="69.3" rx="2.0" ry="1.3"/><ellipse cx="42.5" cy="48.9" rx="1.5" ry="2.0"/><ellipse cx="19.0" cy="20.7" rx="1.8" ry="1.3"/><ellipse cx="51.3" cy="62.9" rx="1.8" ry="1.2"/><ellipse cx="14.2" cy="63.9" rx="1.9" ry="2.1"/><ellipse cx="6.1" cy="62.6" rx="1.2" ry="1.8"/><ellipse cx="37.6" cy="31.9" rx="1.9" ry="1.8"/><ellipse cx="44.8" cy="11.7" rx="2.1" ry="1.7"/><ellipse cx="78.7" cy="95.1" rx="1.9" ry="1.5"/><ellipse cx="26.4" cy="31.8" rx="1.5" ry="1.0"/><ellipse cx="7.7" cy="70.8" rx="1.4" ry="2.0"/><ellipse cx="39.5" cy="44.6" rx="1.3" ry="2.1"/><ellipse cx="90.0" cy="49.1" rx="1.6" ry="1.6"/><ellipse cx="29.1" cy="40.1" rx="1.5" ry="1.5"/><ellipse cx="83.2" cy="98.0" rx="1.2" ry="1.7"/><ellipse cx="100.5" cy="104.8" rx="1.9" ry="1.3"/><ellipse cx="87.0" cy="33.9" rx="1.3" ry="2.1"/><ellipse cx="65.9" cy="98.9" rx="1.6" ry="1.0"/><ellipse cx="8.9" cy="104.4" rx="1.4" ry="2.0"/><ellipse cx="92.1" cy="76.1" rx="1.5" ry="1.9"/><ellipse cx="28.6" cy="15.0" rx="1.8" ry="1.3"/><ellipse cx="13.0" cy="23.2" rx="1.4" ry="2.0"/><ellipse cx="56.5" cy="78.7" rx="2.1" ry="1.9"/><ellipse cx="26.6" cy="24.2" rx="1.0" ry="1.5"/><ellipse cx="35.9" cy="12.8" rx="1.5" ry="1.0"/><ellipse cx="3.4" cy="85.7" rx="2.0" ry="1.3"/><ellipse cx="76.8" cy="57.1" rx="1.5" ry="1.8"/><ellipse cx="33.0" cy="91.7" rx="1.7" ry="1.6"/><ellipse cx="80.0" cy="74.5" rx="1.9" ry="1.7"/><ellipse cx="50.7" cy="67.3" rx="1.7" ry="1.6"/><ellipse cx="11.9" cy="79.5" rx="1.8" ry="1.8"/><ellipse cx="82.7" cy="58.9" rx="1.6" ry="1.8"/><ellipse cx="89.5" cy="85.6" rx="1.3" ry="1.8"/><ellipse cx="23.7" cy="18.7" rx="1.6" ry="1.6"/><ellipse cx="8.4" cy="54.5" rx="1.5" ry="1.7"/><ellipse cx="59.6" cy="29.6" rx="1.5" ry="1.5"/><ellipse cx="82.8" cy="82.4" rx="1.6" ry="2.0"/><ellipse cx="10.1" cy="76.8" rx="1.3" ry="1.9"/><ellipse cx="31.4" cy="52.4" rx="2.0" ry="1.5"/><ellipse cx="95.7" cy="78.8" rx="1.4" ry="2.0"/><ellipse cx="8.3" cy="50.6" rx="1.6" ry="1.8"/><ellipse cx="22.5" cy="39.3" rx="1.9" ry="1.5"/><ellipse cx="89.2" cy="99.8" rx="1.7" ry="1.0"/><ellipse cx="24.1" cy="76.5" rx="1.8" ry="2.1"/><ellipse cx="88.4" cy="68.1" rx="1.7" ry="2.0"/><ellipse cx="54.4" cy="82.8" rx="1.9" ry="1.8"/><ellipse cx="21.9" cy="65.6" rx="2.1" ry="1.7"/><ellipse cx="64.1" cy="94.8" rx="1.2" ry="1.5"/><ellipse cx="52.0" cy="102.1" rx="1.9" ry="2.0"/><ellipse cx="19.9" cy="53.0" rx="1.8" ry="1.3"/><ellipse cx="61.6" cy="70.6" rx="1.2" ry="1.9"/><ellipse cx="73.4" cy="85.6" rx="1.6" ry="1.0"/><ellipse cx="5.4" cy="92.7" rx="1.6" ry="1.1"/><ellipse cx="84.9" cy="37.7" rx="1.9" ry="2.1"/><ellipse cx="31.6" cy="85.4" rx="1.9" ry="1.4"/><ellipse cx="65.5" cy="80.8" rx="1.6" ry="1.8"/><ellipse cx="89.1" cy="78.4" rx="1.6" ry="1.6"/><ellipse cx="74.3" cy="43.9" rx="1.8" ry="1.3"/><ellipse cx="47.0" cy="26.5" rx="1.5" ry="1.2"/><ellipse cx="37.0" cy="39.7" rx="1.7" ry="1.4"/><ellipse cx="74.8" cy="66.7" rx="1.9" ry="1.7"/><ellipse cx="26.0" cy="49.1" rx="1.6" ry="1.0"/><ellipse cx="78.3" cy="24.5" rx="1.6" ry="2.0"/><ellipse cx="1.8" cy="100.3" rx="2.0" ry="1.7"/><ellipse cx="66.5" cy="52.8" rx="1.2" ry="2.0"/><ellipse cx="3.2" cy="21.5" rx="1.9" ry="1.3"/><ellipse cx="88.7" cy="61.2" rx="1.7" ry="1.5"/><ellipse cx="73.6" cy="34.4" rx="1.8" ry="2.0"/><ellipse cx="59.2" cy="49.5" rx="2.0" ry="1.4"/><ellipse cx="99.3" cy="76.6" rx="2.0" ry="1.3"/><ellipse cx="20.8" cy="91.6" rx="1.8" ry="1.2"/><ellipse cx="33.8" cy="57.3" rx="2.0" ry="1.6"/><ellipse cx="95.9" cy="40.4" rx="1.5" ry="1.1"/><ellipse cx="9.9" cy="101.4" rx="2.0" ry="1.6"/><ellipse cx="67.1" cy="30.4" rx="1.4" ry="1.5"/><ellipse cx="77.5" cy="77.8" rx="1.5" ry="1.7"/><ellipse cx="9.7" cy="57.6" rx="1.6" ry="1.8"/><ellipse cx="14.6" cy="35.0" rx="1.7" ry="1.7"/><ellipse cx="54.0" cy="57.8" rx="1.8" ry="1.5"/><ellipse cx="48.9" cy="48.7" rx="1.3" ry="1.9"/></g><g opacity="0.7"><ellipse cx="32.2" cy="64.9" rx="2.1" ry="1.6"/><ellipse cx="68.9" cy="67.4" rx="1.5" ry="1.4"/><ellipse cx="41.2" cy="100.1" rx="1.8" ry="2.1"/><ellipse cx="67.2" cy="102.0" rx="1.9" ry="1.4"/><ellipse cx="1.6" cy="9.2" rx="1.7" ry="1.8"/><ellipse cx="19.6" cy="37.9" rx="1.9" ry="1.5"/><ellipse cx="96.1" cy="54.3" rx="1.5" ry="1.2"/><ellipse cx="65.4" cy="64.2" rx="1.4" ry="2.1"/><ellipse cx="46.8" cy="45.4" rx="1.9" ry="1.9"/><ellipse cx="58.0" cy="24.9" rx="1.6" ry="1.9"/><ellipse cx="84.9" cy="24.4" rx="1.9" ry="1.2"/><ellipse cx="14.3" cy="89.6" rx="1.5" ry="1.8"/><ellipse cx="67.9" cy="23.1" rx="1.8" ry="1.2"/><ellipse cx="98.2" cy="47.9" rx="1.6" ry="1.5"/><ellipse cx="57.6" cy="41.9" rx="1.2" ry="1.6"/><ellipse cx="50.5" cy="34.3" rx="1.9" ry="1.7"/><ellipse cx="73.9" cy="75.9" rx="2.1" ry="1.9"/><ellipse cx="88.2" cy="44.3" rx="1.5" ry="1.6"/><ellipse cx="99.7" cy="96.8" rx="2.1" ry="1.3"/><ellipse cx="74.7" cy="54.0" rx="1.7" ry="1.4"/><ellipse cx="70.7" cy="98.6" rx="1.6" ry="1.4"/><ellipse cx="38.7" cy="23.8" rx="1.6" ry="1.0"/><ellipse cx="79.6" cy="90.0" rx="1.3" ry="1.7"/><ellipse cx="83.0" cy="65.3" rx="1.8" ry="1.7"/><ellipse cx="61.2" cy="76.1" rx="2.1" ry="1.5"/><ellipse cx="73.1" cy="50.5" rx="1.3" ry="1.9"/><ellipse cx="44.4" cy="30.4" rx="2.0" ry="1.9"/><ellipse cx="57.4" cy="103.3" rx="1.7" ry="1.0"/><ellipse cx="69.8" cy="27.5" rx="1.9" ry="2.1"/><ellipse cx="6.9" cy="59.5" rx="1.7" ry="1.4"/><ellipse cx="63.8" cy="32.0" rx="1.1" ry="1.6"/><ellipse cx="44.5" cy="93.3" rx="2.1" ry="2.0"/><ellipse cx="78.5" cy="20.4" rx="1.8" ry="1.2"/><ellipse cx="6.9" cy="67.4" rx="2.1" ry="1.9"/><ellipse cx="5.3" cy="77.2" rx="1.9" ry="1.4"/><ellipse cx="27.0" cy="68.2" rx="1.4" ry="1.9"/><ellipse cx="99.3" cy="44.8" rx="1.1" ry="1.6"/><ellipse cx="89.7" cy="40.5" rx="1.9" ry="1.6"/><ellipse cx="4.0" cy="38.9" rx="1.5" ry="1.6"/><ellipse cx="5.5" cy="16.1" rx="1.8" ry="1.5"/><ellipse cx="60.8" cy="64.7" rx="2.0" ry="1.6"/><ellipse cx="72.3" cy="63.7" rx="1.7" ry="1.1"/><ellipse cx="49.8" cy="52.0" rx="1.5" ry="1.0"/><ellipse cx="15.7" cy="79.3" rx="1.7" ry="1.8"/><ellipse cx="29.7" cy="89.5" rx="1.8" ry="1.6"/><ellipse cx="32.6" cy="71.7" rx="1.8" ry="1.6"/><ellipse cx="3.0" cy="58.3" rx="1.3" ry="1.8"/><ellipse cx="12.8" cy="74.7" rx="1.4" ry="1.9"/><ellipse cx="73.9" cy="22.0" rx="2.0" ry="1.4"/><ellipse cx="57.1" cy="65.2" rx="1.8" ry="1.9"/><ellipse cx="56.3" cy="51.9" rx="1.5" ry="1.5"/><ellipse cx="36.8" cy="76.3" rx="1.2" ry="2.0"/><ellipse cx="100.0" cy="86.8" rx="1.3" ry="1.8"/><ellipse cx="59.6" cy="34.9" rx="1.9" ry="1.2"/><ellipse cx="86.5" cy="73.1" rx="1.4" ry="2.0"/><ellipse cx="86.7" cy="82.6" rx="1.7" ry="1.4"/><ellipse cx="53.7" cy="16.3" rx="1.6" ry="1.1"/><ellipse cx="80.9" cy="71.0" rx="1.9" ry="2.0"/><ellipse cx="55.9" cy="100.4" rx="1.8" ry="1.7"/><ellipse cx="51.7" cy="96.1" rx="2.0" ry="1.3"/><ellipse cx="58.0" cy="15.5" rx="1.8" ry="1.5"/><ellipse cx="12.3" cy="15.9" rx="1.7" ry="1.6"/><ellipse cx="14.1" cy="93.4" rx="1.3" ry="1.9"/><ellipse cx="30.2" cy="29.8" rx="1.0" ry="1.6"/><ellipse cx="24.0" cy="42.4" rx="1.9" ry="1.7"/><ellipse cx="13.6" cy="8.1" rx="1.8" ry="1.1"/><ellipse cx="27.7" cy="76.5" rx="1.7" ry="1.9"/><ellipse cx="64.6" cy="84.9" rx="1.5" ry="1.6"/><ellipse cx="78.8" cy="59.9" rx="1.5" ry="1.3"/><ellipse cx="38.6" cy="14.5" rx="1.4" ry="2.0"/><ellipse cx="57.1" cy="72.9" rx="1.7" ry="1.9"/><ellipse cx="42.0" cy="87.9" rx="1.3" ry="1.7"/><ellipse cx="95.3" cy="72.1" rx="1.9" ry="1.2"/><ellipse cx="30.5" cy="94.3" rx="2.0" ry="1.7"/><ellipse cx="34.0" cy="78.6" rx="1.9" ry="1.6"/><ellipse cx="70.6" cy="38.5" rx="1.7" ry="2.1"/><ellipse cx="41.9" cy="25.9" rx="2.0" ry="1.7"/><ellipse cx="79.3" cy="31.4" rx="2.1" ry="2.1"/><ellipse cx="89.6" cy="36.7" rx="2.0" ry="2.1"/><ellipse cx="65.0" cy="15.8" rx="1.6" ry="1.0"/><ellipse cx="60.9" cy="44.5" rx="1.8" ry="1.7"/><ellipse cx="70.4" cy="87.1" rx="1.5" ry="1.9"/><ellipse cx="99.3" cy="52.9" rx="1.9" ry="2.1"/><ellipse cx="5.0" cy="47.3" rx="2.0" ry="1.4"/><ellipse cx="96.1" cy="29.1" rx="2.0" ry="1.5"/><ellipse cx="68.0" cy="93.7" rx="2.0" ry="1.6"/><ellipse cx="40.2" cy="84.7" rx="1.6" ry="1.7"/><ellipse cx="68.6" cy="33.5" rx="1.3" ry="1.8"/><ellipse cx="9.7" cy="25.7" rx="1.7" ry="1.6"/><ellipse cx="87.0" cy="55.9" rx="1.8" ry="1.7"/><ellipse cx="77.9" cy="86.7" rx="1.1" ry="1.7"/><ellipse cx="55.5" cy="62.3" rx="1.2" ry="1.7"/><ellipse cx="21.5" cy="95.1" rx="1.5" ry="1.6"/><ellipse cx="2.3" cy="66.0" rx="1.2" ry="1.7"/><ellipse cx="70.1" cy="90.5" rx="1.6" ry="1.5"/><ellipse cx="44.1" cy="82.2" rx="1.6" ry="1.7"/><ellipse cx="39.9" cy="53.3" rx="2.0" ry="1.5"/><ellipse cx="98.7" cy="38.9" rx="1.5" ry="0.9"/><ellipse cx="92.9" cy="38.6" rx="1.6" ry="1.3"/><ellipse cx="20.8" cy="59.1" rx="1.2" ry="1.9"/><ellipse cx="46.8" cy="42.3" rx="1.7" ry="1.7"/><ellipse cx="97.3" cy="103.5" rx="1.5" ry="1.5"/><ellipse cx="50.2" cy="44.2" rx="1.1" ry="1.8"/><ellipse cx="10.7" cy="98.4" rx="1.9" ry="1.8"/><ellipse cx="16.0" cy="103.8" rx="2.0" ry="1.6"/><ellipse cx="75.7" cy="98.1" rx="1.3" ry="1.8"/></g></g><g id="gh0" clip-path="url(#sh0)"><ellipse cx="64" cy="26" rx="6" ry="3" transform="rotate(25 64 26)" fill="#30ff38" opacity="0.9" filter="url(#bl2)"/><ellipse cx="59" cy="10" rx="4" ry="2.5" transform="rotate(-35 59 10)" fill="#30ff38" opacity="0.8" filter="url(#bl2)"/><ellipse cx="83" cy="40" rx="4" ry="3.2" transform="rotate(20 83 40)" fill="#20f02c" opacity="0.7" filter="url(#bl2)"/><ellipse cx="61" cy="60" rx="3.5" ry="2.3" transform="rotate(-30 61 60)" fill="#30ff38" opacity="0.85" filter="url(#bl2)"/><ellipse cx="33" cy="86" rx="8" ry="2.4" transform="rotate(-52 33 86)" fill="#40ff48" opacity="0.95" filter="url(#bl2)"/><ellipse cx="52" cy="44" rx="2.5" ry="1.6" transform="rotate(0 52 44)" fill="#30ff38" opacity="0.8" filter="url(#bl2)"/><ellipse cx="43" cy="40" rx="2.2" ry="1.6" transform="rotate(0 43 40)" fill="#30ff38" opacity="0.7" filter="url(#bl2)"/><ellipse cx="55" cy="69" rx="3" ry="1.6" transform="rotate(0 55 69)" fill="#30ff38" opacity="0.7" filter="url(#bl2)"/><ellipse cx="52" cy="27" rx="3" ry="4" transform="rotate(0 52 27)" fill="#10dc1c" opacity="0.6" filter="url(#bl2)"/><ellipse cx="35" cy="16" rx="3" ry="4.5" transform="rotate(10 35 16)" fill="#0cd018" opacity="0.6" filter="url(#bl2)"/><ellipse cx="91" cy="26" rx="8" ry="3" transform="rotate(-20 91 26)" fill="#14e020" opacity="0.6" filter="url(#bl2)"/><ellipse cx="10" cy="96" rx="3.5" ry="5" transform="rotate(20 10 96)" fill="#20f02c" opacity="0.7" filter="url(#bl2)"/><ellipse cx="98" cy="100" rx="3" ry="3" transform="rotate(0 98 100)" fill="#30ff38" opacity="0.8" filter="url(#bl2)"/><ellipse cx="15" cy="62" rx="2.5" ry="5" transform="rotate(15 15 62)" fill="#10dc1c" opacity="0.55" filter="url(#bl2)"/><ellipse cx="95" cy="84" rx="2.5" ry="3.5" transform="rotate(0 95 84)" fill="#10dc1c" opacity="0.6" filter="url(#bl2)"/><ellipse cx="71.5" cy="12" rx="3" ry="1.8" transform="rotate(10 71.5 12)" fill="#20f02c" opacity="0.7" filter="url(#bl2)"/><ellipse cx="98" cy="89" rx="2.5" ry="3" transform="rotate(0 98 89)" fill="#20f02c" opacity="0.7" filter="url(#bl2)"/><ellipse cx="89" cy="70" rx="3" ry="2.2" transform="rotate(30 89 70)" fill="#10dc1c" opacity="0.6" filter="url(#bl2)"/><ellipse cx="49" cy="59.6" rx="2.2" ry="1.8" transform="rotate(0 49 59.6)" fill="#20f02c" opacity="0.7" filter="url(#bl2)"/><ellipse cx="27" cy="35.7" rx="3" ry="2" transform="rotate(-30 27 35.7)" fill="#10dc1c" opacity="0.6" filter="url(#bl2)"/><ellipse cx="15" cy="47.6" rx="3.5" ry="2" transform="rotate(-20 15 47.6)" fill="#20f02c" opacity="0.6" filter="url(#bl2)"/><ellipse cx="19.4" cy="24" rx="3" ry="2.2" transform="rotate(20 19.4 24)" fill="#10dc1c" opacity="0.55" filter="url(#bl2)"/><ellipse cx="77.4" cy="77.4" rx="3" ry="2.2" transform="rotate(-20 77.4 77.4)" fill="#10dc1c" opacity="0.6" filter="url(#bl2)"/><ellipse cx="41.7" cy="95.3" rx="3" ry="2" transform="rotate(10 41.7 95.3)" fill="#10dc1c" opacity="0.6" filter="url(#bl2)"/><ellipse cx="67" cy="92.3" rx="2.6" ry="2" transform="rotate(0 67 92.3)" fill="#10dc1c" opacity="0.6" filter="url(#bl2)"/><ellipse cx="34.2" cy="50.6" rx="2.4" ry="3" transform="rotate(0 34.2 50.6)" fill="#10dc1c" opacity="0.55" filter="url(#bl2)"/><ellipse cx="75" cy="45" rx="4" ry="3" transform="rotate(40 75 45)" fill="#10dc1c" opacity="0.5" filter="url(#bl2)"/><ellipse cx="25" cy="70" rx="3" ry="4" transform="rotate(10 25 70)" fill="#10dc1c" opacity="0.5" filter="url(#bl2)"/></g><g id="gl0"><g clip-path="url(#sh0)"><rect x="0" y="0" width="102" height="106" filter="url(#gt0)"/><ellipse cx="50" cy="55" rx="45" ry="48" transform="rotate(0 50 55)" fill="#000" opacity="0.2" filter="url(#bl8)"/></g><use href="#gh0"/></g><g id="gh1" clip-path="url(#sh1)"><path d="M57,-1 C62,5 69,11 73.5,15 C78,19 82,25 84,30 C86.5,36 87.6,45 88,58 C88,75 86.5,90 85,107" fill="none" stroke="#10d01c" stroke-width="5" opacity="0.55" filter="url(#bl2)"/><ellipse cx="51" cy="21" rx="1.8" ry="1.5" transform="rotate(0 51 21)" fill="#30ff38" opacity="0.8" filter="url(#bl2)"/><ellipse cx="71" cy="36" rx="2" ry="1.4" transform="rotate(40 71 36)" fill="#30ff38" opacity="0.7" filter="url(#bl2)"/><ellipse cx="47" cy="14" rx="8" ry="5" transform="rotate(20 47 14)" fill="#10d01c" opacity="0.35" filter="url(#bl4)"/><ellipse cx="10" cy="80" rx="14" ry="22" transform="rotate(0 10 80)" fill="#10d81c" opacity="0.4" filter="url(#bl8)"/></g><g id="gl1"><g clip-path="url(#sh1)"><rect x="0" y="0" width="102" height="106" filter="url(#gt1)"/><ellipse cx="40" cy="55" rx="28" ry="30" transform="rotate(0 40 55)" fill="#000" opacity="0.25" filter="url(#bl8)"/></g><use href="#gh1"/></g><g id="gh2" clip-path="url(#sh2)"><ellipse cx="56" cy="47" rx="10" ry="3" transform="rotate(-50 56 47)" fill="#48ff50" opacity="0.95" filter="url(#bl2)"/><ellipse cx="67" cy="60" rx="3.5" ry="10" transform="rotate(-10 67 60)" fill="#38ff40" opacity="0.85" filter="url(#bl2)"/><ellipse cx="29" cy="31" rx="7" ry="5" transform="rotate(-30 29 31)" fill="#30ff38" opacity="0.7" filter="url(#bl4)"/><ellipse cx="45" cy="25" rx="9" ry="5" transform="rotate(-40 45 25)" fill="#14e020" opacity="0.5" filter="url(#bl4)"/><ellipse cx="55" cy="15" rx="7" ry="4" transform="rotate(30 55 15)" fill="#1cec28" opacity="0.55" filter="url(#bl4)"/><ellipse cx="30" cy="12" rx="5" ry="2" transform="rotate(-50 30 12)" fill="#1cec28" opacity="0.6" filter="url(#bl2)"/><ellipse cx="78" cy="8" rx="2.5" ry="7" transform="rotate(10 78 8)" fill="#14e020" opacity="0.6" filter="url(#bl2)"/><ellipse cx="22" cy="96" rx="10" ry="6" transform="rotate(-20 22 96)" fill="#10dc1c" opacity="0.5" filter="url(#bl4)"/><ellipse cx="40" cy="25" rx="25" ry="18" transform="rotate(-30 40 25)" fill="#28f834" opacity="0.35" filter="url(#bl8)"/></g><g id="gl2"><g clip-path="url(#sh2)"><rect x="0" y="0" width="102" height="106" filter="url(#gt2)"/><ellipse cx="18" cy="75" rx="16" ry="20" transform="rotate(0 18 75)" fill="#000" opacity="0.28" filter="url(#bl8)"/><ellipse cx="75" cy="32" rx="5" ry="4" transform="rotate(0 75 32)" fill="#000" opacity="0.3" filter="url(#bl4)"/></g><use href="#gh2"/></g><g id="gh3" clip-path="url(#sh3)"><ellipse cx="27" cy="19" rx="3.6" ry="2.3" transform="rotate(0 27 19)" fill="#58ff60" opacity="0.95" filter="url(#bl2)"/><ellipse cx="35" cy="14.5" rx="3" ry="2.6" transform="rotate(0 35 14.5)" fill="#48ff50" opacity="0.85" filter="url(#bl2)"/><ellipse cx="39.5" cy="35" rx="2.5" ry="2.3" transform="rotate(0 39.5 35)" fill="#48ff50" opacity="0.85" filter="url(#bl2)"/><ellipse cx="37" cy="74" rx="13" ry="32" transform="rotate(10 37 74)" fill="#30ff3c" opacity="0.7" filter="url(#bl8)"/><ellipse cx="36" cy="80" rx="7" ry="22" transform="rotate(8 36 80)" fill="#40ff48" opacity="0.45" filter="url(#bl4)"/><ellipse cx="30" cy="92" rx="5" ry="9" transform="rotate(10 30 92)" fill="#38ff40" opacity="0.6" filter="url(#bl4)"/><ellipse cx="40" cy="55" rx="8" ry="10" transform="rotate(30 40 55)" fill="#1cec28" opacity="0.4" filter="url(#bl4)"/><ellipse cx="63" cy="36" rx="5" ry="4" transform="rotate(0 63 36)" fill="#10dc1c" opacity="0.4" filter="url(#bl2)"/><path d="M-1,6 C15,6 28,6.5 37,7.5 C48,9 58,11.5 66,14 C80,18.5 92,24 103,30" fill="none" stroke="#14d820" stroke-width="4" opacity="0.45" filter="url(#bl2)"/></g><g id="gl3"><g clip-path="url(#sh3)"><rect x="0" y="0" width="102" height="106" filter="url(#gt3)"/><ellipse cx="84" cy="72" rx="18" ry="30" transform="rotate(0 84 72)" fill="#000" opacity="0.32" filter="url(#bl8)"/><ellipse cx="8" cy="55" rx="9" ry="30" transform="rotate(0 8 55)" fill="#000" opacity="0.25" filter="url(#bl8)"/><ellipse cx="30" cy="25" rx="8" ry="6" transform="rotate(0 30 25)" fill="#000" opacity="0.4" filter="url(#bl4)"/></g><use href="#gh3"/></g><filter id="wb" x="-30%" y="-60%" width="160%" height="220%"><feGaussianBlur stdDeviation="0.9 0.7"/></filter><filter id="wbn" x="0" y="0" width="100%" height="100%" color-interpolation-filters="sRGB"><feTurbulence type="fractalNoise" baseFrequency="0.6" numOctaves="2" seed="4"/><feColorMatrix type="matrix" values="0 0 0 0 0.5  0 0 0 0 0.5  0 0 0 0 0.5  0.25 0 0 0 -0.05"/></filter>
</defs>
<rect width="685" height="924" fill="#fff"/>
<text x="0" y="10" font-size="11.2" font-weight="bold">a</text>
<text x="105.2" y="43.6" font-size="11.4" text-anchor="middle">p53WT</text>
<line x1="59.5" y1="47.2" x2="148.6" y2="47.2" stroke="#000" stroke-width="0.9"/>
<text x="211.8" y="43.6" font-size="11.4" text-anchor="middle">p53MUT</text>
<line x1="164.9" y1="47.2" x2="254.8" y2="47.2" stroke="#000" stroke-width="0.9"/>
<line x1="56.5" y1="62.900000000000006" x2="56.5" y2="200.5" stroke="#000" stroke-width="1.6"/>
<line x1="55.7" y1="172.5" x2="262.7" y2="172.5" stroke="#000" stroke-width="1.6"/>
<line x1="49.1" y1="63.7" x2="56.5" y2="63.7" stroke="#000" stroke-width="1.6"/>
<text x="46.3" y="66.4" font-size="10.3" text-anchor="end">2.0</text>
<line x1="49.1" y1="90.9" x2="56.5" y2="90.9" stroke="#000" stroke-width="1.6"/>
<text x="46.3" y="93.60000000000001" font-size="10.3" text-anchor="end">1.5</text>
<line x1="49.1" y1="118.1" x2="56.5" y2="118.1" stroke="#000" stroke-width="1.6"/>
<text x="46.3" y="120.8" font-size="10.3" text-anchor="end">1.0</text>
<line x1="49.1" y1="145.3" x2="56.5" y2="145.3" stroke="#000" stroke-width="1.6"/>
<text x="46.3" y="148.0" font-size="10.3" text-anchor="end">0.5</text>
<line x1="49.1" y1="172.5" x2="56.5" y2="172.5" stroke="#000" stroke-width="1.6"/>
<text x="46.3" y="175.2" font-size="10.3" text-anchor="end">0.0</text>
<line x1="49.1" y1="199.7" x2="56.5" y2="199.7" stroke="#000" stroke-width="1.6"/>
<text x="46.3" y="202.39999999999998" font-size="10.3" text-anchor="end">-0.5</text>
<text x="11.5" y="130.5" font-size="11" text-anchor="middle" transform="rotate(-90 11.5 130.5)">Proliferation rate</text>
<text x="24.8" y="130.5" font-size="11" text-anchor="middle" transform="rotate(-90 24.8 130.5)">(doublings/day)</text>
<rect x="62.25" y="134.42" width="10.50" height="38.08" fill="none" stroke="#1414c4" stroke-width="1.8"/>
<line x1="67.5" y1="131.7" x2="67.5" y2="137.14000000000001" stroke="#000" stroke-width="1.0"/>
<line x1="65.1" y1="131.7" x2="69.9" y2="131.7" stroke="#000" stroke-width="1.0"/>
<line x1="65.1" y1="137.14000000000001" x2="69.9" y2="137.14000000000001" stroke="#000" stroke-width="1.0"/>
<circle cx="65.50" cy="130.07" r="2.7" fill="#1414c4"/>
<circle cx="68.00" cy="136.60" r="2.7" fill="#1414c4"/>
<circle cx="66.50" cy="135.51" r="2.7" fill="#1414c4"/>
<rect x="76.35" y="159.17" width="9.90" height="13.33" fill="none" stroke="#1414c4" stroke-width="1.8"/>
<line x1="81.3" y1="156.452" x2="81.3" y2="161.892" stroke="#000" stroke-width="1.0"/>
<line x1="78.89999999999999" y1="156.452" x2="83.7" y2="156.452" stroke="#000" stroke-width="1.0"/>
<line x1="78.89999999999999" y1="161.892" x2="83.7" y2="161.892" stroke="#000" stroke-width="1.0"/>
<circle cx="80.30" cy="157.27" r="2.7" fill="#1414c4"/>
<circle cx="82.80" cy="158.36" r="2.7" fill="#1414c4"/>
<circle cx="81.30" cy="163.25" r="2.7" fill="#1414c4"/>
<rect x="89.35" y="172.50" width="10.50" height="6.53" fill="none" stroke="#1414c4" stroke-width="1.8"/>
<circle cx="93.10" cy="176.85" r="2.7" fill="#1414c4"/>
<circle cx="96.10" cy="177.94" r="2.7" fill="#1414c4"/>
<circle cx="94.60" cy="181.75" r="2.7" fill="#1414c4"/>
<rect x="113.95" y="90.90" width="10.20" height="81.60" fill="none" stroke="#ff1414" stroke-width="1.8"/>
<circle cx="117.05" cy="89.81" r="2.7" fill="#ff1414"/>
<circle cx="120.55" cy="90.36" r="2.7" fill="#ff1414"/>
<circle cx="119.05" cy="91.44" r="2.7" fill="#ff1414"/>
<rect x="127.75" y="118.10" width="10.00" height="54.40" fill="none" stroke="#ff1414" stroke-width="1.8"/>
<line x1="132.75" y1="110.484" x2="132.75" y2="125.71600000000001" stroke="#000" stroke-width="1.0"/>
<line x1="130.35" y1="110.484" x2="135.15" y2="110.484" stroke="#000" stroke-width="1.0"/>
<line x1="130.35" y1="125.71600000000001" x2="135.15" y2="125.71600000000001" stroke="#000" stroke-width="1.0"/>
<circle cx="129.75" cy="111.57" r="2.7" fill="#ff1414"/>
<circle cx="135.75" cy="117.01" r="2.7" fill="#ff1414"/>
<circle cx="132.75" cy="126.26" r="2.7" fill="#ff1414"/>
<rect x="141.05" y="161.62" width="10.40" height="10.88" fill="none" stroke="#ff1414" stroke-width="1.8"/>
<line x1="146.25" y1="139.86" x2="146.25" y2="183.38" stroke="#000" stroke-width="1.0"/>
<line x1="143.85" y1="139.86" x2="148.65" y2="139.86" stroke="#000" stroke-width="1.0"/>
<line x1="143.85" y1="183.38" x2="148.65" y2="183.38" stroke="#000" stroke-width="1.0"/>
<circle cx="143.25" cy="146.93" r="2.7" fill="#ff1414"/>
<circle cx="148.75" cy="152.37" r="2.7" fill="#ff1414"/>
<circle cx="146.25" cy="186.64" r="2.7" fill="#ff1414"/>
<rect x="165.45" y="118.64" width="10.80" height="53.86" fill="none" stroke="#1fdc1f" stroke-width="1.8"/>
<circle cx="169.35" cy="117.01" r="2.7" fill="#1fdc1f"/>
<circle cx="172.35" cy="119.73" r="2.7" fill="#1fdc1f"/>
<circle cx="170.85" cy="119.73" r="2.7" fill="#1fdc1f"/>
<rect x="179.55" y="119.19" width="10.20" height="53.31" fill="none" stroke="#1fdc1f" stroke-width="1.8"/>
<circle cx="183.15" cy="118.10" r="2.7" fill="#1fdc1f"/>
<circle cx="186.15" cy="119.19" r="2.7" fill="#1fdc1f"/>
<circle cx="184.65" cy="121.91" r="2.7" fill="#1fdc1f"/>
<rect x="193.35" y="128.44" width="9.90" height="44.06" fill="none" stroke="#1fdc1f" stroke-width="1.8"/>
<circle cx="196.80" cy="126.80" r="2.7" fill="#1fdc1f"/>
<circle cx="199.80" cy="128.98" r="2.7" fill="#1fdc1f"/>
<circle cx="198.30" cy="130.07" r="2.7" fill="#1fdc1f"/>
<rect x="217.35" y="107.22" width="10.10" height="65.28" fill="none" stroke="#b01cc0" stroke-width="1.8"/>
<line x1="222.4" y1="100.69200000000001" x2="222.4" y2="113.74799999999999" stroke="#000" stroke-width="1.0"/>
<line x1="220.0" y1="100.69200000000001" x2="224.8" y2="100.69200000000001" stroke="#000" stroke-width="1.0"/>
<line x1="220.0" y1="113.74799999999999" x2="224.8" y2="113.74799999999999" stroke="#000" stroke-width="1.0"/>
<circle cx="219.40" cy="102.32" r="2.7" fill="#b01cc0"/>
<circle cx="225.40" cy="104.50" r="2.7" fill="#b01cc0"/>
<circle cx="222.40" cy="116.47" r="2.7" fill="#b01cc0"/>
<rect x="230.85" y="119.19" width="10.20" height="53.31" fill="none" stroke="#b01cc0" stroke-width="1.8"/>
<line x1="235.95" y1="115.38" x2="235.95" y2="122.99600000000001" stroke="#000" stroke-width="1.0"/>
<line x1="233.54999999999998" y1="115.38" x2="238.35" y2="115.38" stroke="#000" stroke-width="1.0"/>
<line x1="233.54999999999998" y1="122.99600000000001" x2="238.35" y2="122.99600000000001" stroke="#000" stroke-width="1.0"/>
<circle cx="238.95" cy="112.66" r="2.7" fill="#b01cc0"/>
<circle cx="233.95" cy="120.82" r="2.7" fill="#b01cc0"/>
<circle cx="237.95" cy="120.82" r="2.7" fill="#b01cc0"/>
<rect x="244.35" y="129.52" width="10.50" height="42.98" fill="none" stroke="#b01cc0" stroke-width="1.8"/>
<circle cx="248.10" cy="126.80" r="2.7" fill="#b01cc0"/>
<circle cx="251.60" cy="130.07" r="2.7" fill="#b01cc0"/>
<circle cx="249.60" cy="131.70" r="2.7" fill="#b01cc0"/>
<text font-size="10" text-anchor="end" transform="translate(73.0,194.5) rotate(-45)">100</text>
<text font-size="10" text-anchor="end" transform="translate(86.8,194.5) rotate(-45)">25</text>
<text font-size="10" text-anchor="end" transform="translate(100.1,194.5) rotate(-45)">5</text>
<text font-size="10" text-anchor="end" transform="translate(124.6,194.5) rotate(-45)">100</text>
<text font-size="10" text-anchor="end" transform="translate(138.2,194.5) rotate(-45)">25</text>
<text font-size="10" text-anchor="end" transform="translate(151.8,194.5) rotate(-45)">5</text>
<text font-size="10" text-anchor="end" transform="translate(179.2,194.5) rotate(-45)">100</text>
<text font-size="10" text-anchor="end" transform="translate(193.0,194.5) rotate(-45)">25</text>
<text font-size="10" text-anchor="end" transform="translate(206.6,194.5) rotate(-45)">5</text>
<text font-size="10" text-anchor="end" transform="translate(230.7,194.5) rotate(-45)">100</text>
<text font-size="10" text-anchor="end" transform="translate(244.2,194.5) rotate(-45)">25</text>
<text font-size="10" text-anchor="end" transform="translate(257.9,194.5) rotate(-45)">5</text>
<text x="259.8" y="197.8" font-size="8.3">(%AA)</text>
<rect x="256.60" y="52.60" width="13.60" height="8.00" fill="none" stroke="#1414c4" stroke-width="1.2"/>
<text x="272" y="60.5" font-size="10.9">MCF7</text>
<rect x="256.60" y="65.00" width="13.60" height="8.00" fill="none" stroke="#ff1414" stroke-width="1.2"/>
<text x="272" y="72.9" font-size="10.9">DCIS</text>
<rect x="256.60" y="77.40" width="13.60" height="8.00" fill="none" stroke="#1fdc1f" stroke-width="1.2"/>
<text x="272" y="85.30000000000001" font-size="10.9">MDA-231</text>
<rect x="256.60" y="89.80" width="13.60" height="8.00" fill="none" stroke="#b01cc0" stroke-width="1.2"/>
<text x="272" y="97.70000000000002" font-size="10.9">MDA-468</text>
<line x1="62.5" y1="125.3" x2="81" y2="125.3" stroke="#000" stroke-width="0.8"/>
<text x="74.75" y="123.1" font-size="6.8" text-anchor="middle">p=0.011</text>
<line x1="67" y1="113.4" x2="94.5" y2="113.4" stroke="#000" stroke-width="0.8"/>
<text x="81.75" y="111.2" font-size="6.8" text-anchor="middle">p=0.001</text>
<line x1="115" y1="84.2" x2="133" y2="84.2" stroke="#000" stroke-width="0.8"/>
<text x="128.0" y="82.0" font-size="6.8" text-anchor="middle">p=0.021</text>
<line x1="120" y1="72" x2="146.5" y2="72" stroke="#000" stroke-width="0.8"/>
<text x="134.25" y="69.8" font-size="6.8" text-anchor="middle">p=0.027</text>
<line x1="170.5" y1="111.2" x2="184.5" y2="111.2" stroke="#000" stroke-width="0.8"/>
<text x="177.5" y="109.0" font-size="6.8" text-anchor="middle">n.s</text>
<line x1="172" y1="99.5" x2="198.5" y2="99.5" stroke="#000" stroke-width="0.8"/>
<text x="185.25" y="97.3" font-size="6.8" text-anchor="middle">p=0.015</text>
<line x1="223" y1="94.5" x2="236.5" y2="94.5" stroke="#000" stroke-width="0.8"/>
<text x="229.75" y="92.3" font-size="6.8" text-anchor="middle">n.s</text>
<line x1="222.5" y1="81.3" x2="249.5" y2="81.3" stroke="#000" stroke-width="0.8"/>
<text x="236.0" y="79.1" font-size="6.8" text-anchor="middle">p=0.039</text>
<text x="351" y="10.1" font-size="11.2" font-weight="bold">b</text>
<text x="425.5" y="18.2" font-size="12" text-anchor="middle">MDA-231</text>
<line x1="401.5" y1="58.000000000000014" x2="401.5" y2="195.6" stroke="#000" stroke-width="1.5"/>
<line x1="400.8" y1="194.9" x2="452.7" y2="194.9" stroke="#000" stroke-width="1.5"/>
<line x1="393.7" y1="194.9" x2="401.5" y2="194.9" stroke="#000" stroke-width="1.5"/>
<text x="390.2" y="198.6" font-size="10.3" text-anchor="end">0.0</text>
<line x1="393.7" y1="167.66" x2="401.5" y2="167.66" stroke="#000" stroke-width="1.5"/>
<text x="390.2" y="171.35999999999999" font-size="10.3" text-anchor="end">0.2</text>
<line x1="393.7" y1="140.42000000000002" x2="401.5" y2="140.42000000000002" stroke="#000" stroke-width="1.5"/>
<text x="390.2" y="144.12" font-size="10.3" text-anchor="end">0.4</text>
<line x1="393.7" y1="113.18000000000002" x2="401.5" y2="113.18000000000002" stroke="#000" stroke-width="1.5"/>
<text x="390.2" y="116.88000000000002" font-size="10.3" text-anchor="end">0.6</text>
<line x1="393.7" y1="85.94000000000001" x2="401.5" y2="85.94000000000001" stroke="#000" stroke-width="1.5"/>
<text x="390.2" y="89.64000000000001" font-size="10.3" text-anchor="end">0.8</text>
<line x1="393.7" y1="58.70000000000002" x2="401.5" y2="58.70000000000002" stroke="#000" stroke-width="1.5"/>
<text x="390.2" y="62.40000000000002" font-size="10.3" text-anchor="end">1.0</text>
<text x="354.3" y="124.8" font-size="11" text-anchor="middle" transform="rotate(-90 354.3 124.8)">Proliferation rate</text>
<text x="367.8" y="124.8" font-size="11" text-anchor="middle" transform="rotate(-90 367.8 124.8)">(doublings/day)</text>
<rect x="406.10" y="83.22" width="8.20" height="111.18" fill="#5a5af2" stroke="#1414c4" stroke-width="1.6"/>
<rect x="416.80" y="90.71" width="8.80" height="103.69" fill="url(#hb)" stroke="#1414c4" stroke-width="1.6"/>
<rect x="427.70" y="105.42" width="8.80" height="88.98" fill="#ff8080" stroke="#ff1414" stroke-width="1.6"/>
<rect x="439.50" y="152.27" width="8.30" height="42.13" fill="url(#hr)" stroke="#ff1414" stroke-width="1.6"/>
<line x1="410.20000000000005" y1="79.13000000000002" x2="410.20000000000005" y2="87.30200000000002" stroke="#000" stroke-width="1.0"/>
<line x1="408.00000000000006" y1="79.13000000000002" x2="412.40000000000003" y2="79.13000000000002" stroke="#000" stroke-width="1.0"/>
<line x1="408.00000000000006" y1="87.30200000000002" x2="412.40000000000003" y2="87.30200000000002" stroke="#000" stroke-width="1.0"/>
<line x1="421.2" y1="85.94000000000001" x2="421.2" y2="95.47400000000002" stroke="#000" stroke-width="1.0"/>
<line x1="419.0" y1="85.94000000000001" x2="423.4" y2="85.94000000000001" stroke="#000" stroke-width="1.0"/>
<line x1="419.0" y1="95.47400000000002" x2="423.4" y2="95.47400000000002" stroke="#000" stroke-width="1.0"/>
<line x1="432.1" y1="95.20160000000001" x2="432.1" y2="115.6316" stroke="#000" stroke-width="1.0"/>
<line x1="429.90000000000003" y1="95.20160000000001" x2="434.3" y2="95.20160000000001" stroke="#000" stroke-width="1.0"/>
<line x1="429.90000000000003" y1="115.6316" x2="434.3" y2="115.6316" stroke="#000" stroke-width="1.0"/>
<line x1="443.65" y1="141.3734" x2="443.65" y2="163.1654" stroke="#000" stroke-width="1.0"/>
<line x1="441.45" y1="141.3734" x2="445.84999999999997" y2="141.3734" stroke="#000" stroke-width="1.0"/>
<line x1="441.45" y1="163.1654" x2="445.84999999999997" y2="163.1654" stroke="#000" stroke-width="1.0"/>
<circle cx="406.30" cy="79.80" r="2.5" fill="#1010d8" stroke="#000" stroke-width="0.7"/>
<circle cx="412.50" cy="81.10" r="2.5" fill="#1010d8" stroke="#000" stroke-width="0.7"/>
<circle cx="410.30" cy="89.90" r="2.5" fill="#1010d8" stroke="#000" stroke-width="0.7"/>
<circle cx="421.30" cy="85.40" r="2.5" fill="#1010d8" stroke="#000" stroke-width="0.7"/>
<path d="M421.30 82.90 A2.5 2.5 0 0 0 421.30 87.90 Z" fill="#000"/>
<circle cx="425.40" cy="90.90" r="2.5" fill="#1010d8" stroke="#000" stroke-width="0.7"/>
<path d="M425.40 88.40 A2.5 2.5 0 0 0 425.40 93.40 Z" fill="#000"/>
<circle cx="419.10" cy="96.70" r="2.5" fill="#1010d8" stroke="#000" stroke-width="0.7"/>
<path d="M419.10 94.20 A2.5 2.5 0 0 0 419.10 99.20 Z" fill="#000"/>
<circle cx="428.40" cy="98.40" r="2.5" fill="#ff0000" stroke="#000" stroke-width="0.7"/>
<circle cx="435.10" cy="100.40" r="2.5" fill="#ff0000" stroke="#000" stroke-width="0.7"/>
<circle cx="432.60" cy="116.70" r="2.5" fill="#ff0000" stroke="#000" stroke-width="0.7"/>
<circle cx="443.40" cy="141.40" r="2.5" fill="#ff0000" stroke="#000" stroke-width="0.7"/>
<path d="M443.40 138.90 A2.5 2.5 0 0 0 443.40 143.90 Z" fill="#000"/>
<circle cx="443.40" cy="152.40" r="2.5" fill="#ff0000" stroke="#000" stroke-width="0.7"/>
<path d="M443.40 149.90 A2.5 2.5 0 0 0 443.40 154.90 Z" fill="#000"/>
<circle cx="443.40" cy="163.70" r="2.5" fill="#ff0000" stroke="#000" stroke-width="0.7"/>
<path d="M443.40 161.20 A2.5 2.5 0 0 0 443.40 166.20 Z" fill="#000"/>
<line x1="409" y1="53" x2="443.4" y2="53" stroke="#000" stroke-width="0.9"/>
<text x="427.9" y="49.7" font-size="6.8" text-anchor="middle">p=0.003</text>
<line x1="409" y1="62.8" x2="438.4" y2="62.8" stroke="#000" stroke-width="0.9"/>
<text x="425.9" y="60.3" font-size="6.8" text-anchor="middle">p=0.014</text>
<line x1="409" y1="69.8" x2="423.3" y2="69.8" stroke="#000" stroke-width="0.9"/>
<text x="417" y="68.6" font-size="6.8" text-anchor="middle">n.s</text>
<line x1="422.8" y1="79.8" x2="443.9" y2="79.8" stroke="#000" stroke-width="0.9"/>
<text x="433.9" y="76.8" font-size="6.8" text-anchor="middle">p=0.002</text>
<rect x="397.35" y="199.30" width="17.50" height="8.90" fill="#5a5af2" stroke="#1414c4" stroke-width="1.5" rx="0.8"/>
<text x="417" y="207.25" font-size="10.7">siCTL CM</text>
<rect x="397.35" y="211.95" width="17.50" height="8.90" fill="url(#hbl)" stroke="#1414c4" stroke-width="1.5" rx="0.8"/>
<text x="417" y="219.9" font-size="10.7">siCTL low AA</text>
<rect x="397.35" y="224.15" width="17.50" height="8.90" fill="#ff8080" stroke="#ff1414" stroke-width="1.5" rx="0.8"/>
<text x="417" y="232.1" font-size="10.7">sip53 CM</text>
<rect x="397.35" y="236.40" width="17.50" height="8.90" fill="url(#hrl)" stroke="#ff1414" stroke-width="1.5" rx="0.8"/>
<text x="417" y="244.35" font-size="10.7">sip53 low AA</text>
<text x="520.3" y="9.9" font-size="11.2" font-weight="bold">c</text>
<text x="588.6" y="17.9" font-size="11.8" text-anchor="middle">DCIS spheroids</text>
<text x="590.4" y="32.8" font-size="11.8" text-anchor="middle">(TetOn mutp53)</text>
<line x1="564.5" y1="57.3" x2="564.5" y2="194.5" stroke="#000" stroke-width="1.5"/>
<line x1="563.8" y1="193.8" x2="615.4" y2="193.8" stroke="#000" stroke-width="1.5"/>
<line x1="557.1" y1="193.8" x2="564.5" y2="193.8" stroke="#000" stroke-width="1.5"/>
<text x="554.2" y="194.70000000000002" font-size="10.4" text-anchor="end">0</text>
<line x1="557.1" y1="125.9" x2="564.5" y2="125.9" stroke="#000" stroke-width="1.5"/>
<text x="554.2" y="126.80000000000001" font-size="10.4" text-anchor="end">50</text>
<line x1="557.1" y1="58.0" x2="564.5" y2="58.0" stroke="#000" stroke-width="1.5"/>
<text x="554.2" y="58.9" font-size="10.4" text-anchor="end">100</text>
<text x="537.8" y="123.5" font-size="10.7" text-anchor="middle" transform="rotate(-90 537.8 123.5)">% BrdU positive cells</text>
<rect x="568.90" y="71.04" width="8.90" height="122.26" fill="#5a5af2" stroke="#1414c4" stroke-width="1.6"/>
<rect x="580.70" y="144.23" width="8.10" height="49.07" fill="url(#hb)" stroke="#1414c4" stroke-width="1.6"/>
<rect x="591.20" y="74.30" width="8.60" height="119.00" fill="#ff8080" stroke="#ff1414" stroke-width="1.6"/>
<rect x="602.50" y="110.96" width="8.60" height="82.34" fill="url(#hr)" stroke="#ff1414" stroke-width="1.6"/>
<line x1="573.35" y1="64.24680000000001" x2="573.35" y2="77.82679999999999" stroke="#000" stroke-width="0.9"/>
<line x1="571.15" y1="64.24680000000001" x2="575.5500000000001" y2="64.24680000000001" stroke="#000" stroke-width="0.9"/>
<line x1="571.15" y1="77.82679999999999" x2="575.5500000000001" y2="77.82679999999999" stroke="#000" stroke-width="0.9"/>
<line x1="584.75" y1="142.196" x2="584.75" y2="146.27" stroke="#000" stroke-width="0.9"/>
<line x1="582.55" y1="142.196" x2="586.95" y2="142.196" stroke="#000" stroke-width="0.9"/>
<line x1="582.55" y1="146.27" x2="586.95" y2="146.27" stroke="#000" stroke-width="0.9"/>
<line x1="595.5" y1="68.864" x2="595.5" y2="79.72800000000001" stroke="#000" stroke-width="0.9"/>
<line x1="593.3" y1="68.864" x2="597.7" y2="68.864" stroke="#000" stroke-width="0.9"/>
<line x1="593.3" y1="79.72800000000001" x2="597.7" y2="79.72800000000001" stroke="#000" stroke-width="0.9"/>
<line x1="606.8" y1="104.17200000000001" x2="606.8" y2="117.75200000000001" stroke="#000" stroke-width="0.9"/>
<line x1="604.5999999999999" y1="104.17200000000001" x2="609.0" y2="104.17200000000001" stroke="#000" stroke-width="0.9"/>
<line x1="604.5999999999999" y1="117.75200000000001" x2="609.0" y2="117.75200000000001" stroke="#000" stroke-width="0.9"/>
<circle cx="573.80" cy="64.90" r="2.5" fill="#1010d8" stroke="#000" stroke-width="0.7"/>
<circle cx="572.60" cy="68.00" r="2.5" fill="#1010d8" stroke="#000" stroke-width="0.7"/>
<circle cx="573.00" cy="71.60" r="2.5" fill="#1010d8" stroke="#000" stroke-width="0.7"/>
<circle cx="573.30" cy="79.60" r="2.5" fill="#1010d8" stroke="#000" stroke-width="0.7"/>
<circle cx="581.20" cy="143.70" r="2.5" fill="#1010d8" stroke="#000" stroke-width="0.7"/>
<path d="M581.20 141.20 A2.5 2.5 0 0 0 581.20 146.20 Z" fill="#000"/>
<circle cx="585.10" cy="145.00" r="2.5" fill="#1010d8" stroke="#000" stroke-width="0.7"/>
<path d="M585.10 142.50 A2.5 2.5 0 0 0 585.10 147.50 Z" fill="#000"/>
<circle cx="588.60" cy="141.40" r="2.5" fill="#1010d8" stroke="#000" stroke-width="0.7"/>
<path d="M588.60 138.90 A2.5 2.5 0 0 0 588.60 143.90 Z" fill="#000"/>
<circle cx="596.20" cy="69.20" r="2.5" fill="#ff0000" stroke="#000" stroke-width="0.7"/>
<circle cx="594.90" cy="72.30" r="2.5" fill="#ff0000" stroke="#000" stroke-width="0.7"/>
<circle cx="595.60" cy="81.20" r="2.5" fill="#ff0000" stroke="#000" stroke-width="0.7"/>
<circle cx="606.90" cy="101.90" r="2.5" fill="#ff0000" stroke="#000" stroke-width="0.7"/>
<path d="M606.90 99.40 A2.5 2.5 0 0 0 606.90 104.40 Z" fill="#000"/>
<circle cx="605.60" cy="112.50" r="2.5" fill="#ff0000" stroke="#000" stroke-width="0.7"/>
<path d="M605.60 110.00 A2.5 2.5 0 0 0 605.60 115.00 Z" fill="#000"/>
<circle cx="607.50" cy="114.30" r="2.5" fill="#ff0000" stroke="#000" stroke-width="0.7"/>
<path d="M607.50 111.80 A2.5 2.5 0 0 0 607.50 116.80 Z" fill="#000"/>
<line x1="582.5" y1="49.1" x2="608.8" y2="49.1" stroke="#000" stroke-width="0.9"/>
<text x="595.9" y="45.2" font-size="6.8" text-anchor="middle">p=0.002</text>
<line x1="571.9" y1="59.7" x2="586.7" y2="59.7" stroke="#000" stroke-width="0.9"/>
<text x="581.6" y="56.6" font-size="6.8" text-anchor="middle">p=0.0004</text>
<line x1="595.9" y1="64.9" x2="610.7" y2="64.9" stroke="#000" stroke-width="0.9"/>
<text x="604.6" y="63.4" font-size="6.8" text-anchor="middle">p=0.001</text>
<rect x="561.15" y="199.70" width="17.50" height="8.80" fill="#5a5af2" stroke="#1414c4" stroke-width="1.5" rx="0.8"/>
<text x="580.9" y="207.6" font-size="10.6">empty CM</text>
<rect x="561.15" y="212.10" width="17.50" height="8.80" fill="url(#hbl)" stroke="#1414c4" stroke-width="1.5" rx="0.8"/>
<text x="580.9" y="220.0" font-size="10.6">empty low AA</text>
<rect x="561.15" y="225.20" width="17.50" height="8.80" fill="#ff8080" stroke="#ff1414" stroke-width="1.5" rx="0.8"/>
<text x="580.9" y="233.1" font-size="10.6">p53R280K CM</text>
<rect x="561.15" y="237.90" width="17.50" height="8.80" fill="url(#hrl)" stroke="#ff1414" stroke-width="1.5" rx="0.8"/>
<text x="580.9" y="245.8" font-size="10.6">p53R280K low AA</text>
<text x="0" y="256.2" font-size="11.2" font-weight="bold">d</text>
<text x="230.3" y="262.3" font-size="11.9" text-anchor="middle">DCIS spheroids (TetOn mutp53)</text>
<text x="85.60000000000001" y="284.3" font-size="10.9" text-anchor="middle">empty</text>
<text x="85.60000000000001" y="297.0" font-size="10.9" text-anchor="middle">CM</text>
<text x="189.3" y="284.3" font-size="10.9" text-anchor="middle">empty</text>
<text x="189.3" y="297.0" font-size="10.9" text-anchor="middle">lowAA</text>
<text x="292.9" y="284.3" font-size="10.9" text-anchor="middle">p53R280K</text>
<text x="292.9" y="297.0" font-size="10.9" text-anchor="middle">CM</text>
<text x="396.25" y="284.3" font-size="10.9" text-anchor="middle">p53R280K</text>
<text x="396.25" y="297.0" font-size="10.9" text-anchor="middle">lowAA</text>
<g transform="translate(33.9,299.7)"><g clip-path="url(#tc0)">
<rect x="0" y="0" width="101.0" height="105.1" fill="#000"/>
<rect x="0" y="0" width="102" height="106" fill="#060006"/><ellipse cx="55" cy="13" rx="2" ry="1.4" fill="#5a105a" opacity="0.35" filter="url(#bl05)"/><ellipse cx="72" cy="48" rx="2" ry="1.4" fill="#5a105a" opacity="0.35" filter="url(#bl05)"/><ellipse cx="25" cy="66" rx="2" ry="1.4" fill="#5a105a" opacity="0.35" filter="url(#bl05)"/><ellipse cx="60" cy="30" rx="2" ry="1.4" fill="#5a105a" opacity="0.35" filter="url(#bl05)"/><ellipse cx="80" cy="80" rx="2" ry="1.4" fill="#5a105a" opacity="0.35" filter="url(#bl05)"/><ellipse cx="40" cy="88" rx="2" ry="1.4" fill="#5a105a" opacity="0.35" filter="url(#bl05)"/>
</g></g>
<g transform="translate(137.4,299.7)"><g clip-path="url(#tc1)">
<rect x="0" y="0" width="101.4" height="105.1" fill="#000"/>
<rect x="0" y="0" width="102" height="106" fill="#030003"/>
</g></g>
<g transform="translate(241.0,299.7)"><g clip-path="url(#tc2)">
<rect x="0" y="0" width="101.4" height="105.1" fill="#000"/>
<rect x="0" y="0" width="102" height="106" fill="#0b000d"/><g clip-path="url(#sh2)"><rect width="102" height="106" fill="#170219"/><ellipse cx="45" cy="50" rx="40" ry="45" fill="#000" opacity="0.35" filter="url(#bl8)"/><path d="M99,-1 C98,15 94,32 89,45 C83,58 72,73 62,84 C52,93 42,100 32,107" fill="none" stroke="#7a1a8a" stroke-width="7" opacity="0.4" filter="url(#bl2)"/><path d="M40,28 C55,26 62,40 60,52 M52,58 C60,45 66,44 70,62" fill="none" stroke="#8a1a96" stroke-width="3" opacity="0.45" filter="url(#bl2)"/></g><use href="#mn2" fill="#ff22ff" filter="url(#bl05)"/>
</g></g>
<g transform="translate(344.7,299.7)"><g clip-path="url(#tc3)">
<rect x="0" y="0" width="100.7" height="105.1" fill="#000"/>
<rect x="0" y="0" width="102" height="106" fill="#020002"/><g clip-path="url(#sh3)"><rect width="102" height="106" fill="#120116"/></g><use href="#mn3" fill="#ff22ff" filter="url(#bl05)"/>
</g></g>
<g transform="translate(33.9,407.8)"><g clip-path="url(#tc0)">
<rect x="0" y="0" width="101.0" height="105.0" fill="#000"/>
<use href="#gl0"/>
</g></g>
<g transform="translate(137.4,407.8)"><g clip-path="url(#tc1)">
<rect x="0" y="0" width="101.4" height="105.0" fill="#000"/>
<use href="#gl1"/>
</g></g>
<g transform="translate(241.0,407.8)"><g clip-path="url(#tc2)">
<rect x="0" y="0" width="101.4" height="105.0" fill="#000"/>
<use href="#gl2"/>
</g></g>
<g transform="translate(344.7,407.8)"><g clip-path="url(#tc3)">
<rect x="0" y="0" width="100.7" height="105.0" fill="#000"/>
<use href="#gl3"/>
</g></g>
<g transform="translate(33.9,515.1)"><g clip-path="url(#tc0)">
<rect x="0" y="0" width="101.0" height="105.3" fill="#000"/>
<use href="#gl0"/><g clip-path="url(#sh0)"><rect width="102" height="106" fill="#0a28d0" opacity="0.22"/></g><use href="#bn0" fill="#1040e6" filter="url(#bl05)" opacity="0.85"/><use href="#gh0" opacity="0.7"/>
</g></g>
<g transform="translate(137.4,515.1)"><g clip-path="url(#tc1)">
<rect x="0" y="0" width="101.4" height="105.3" fill="#000"/>
<use href="#gl1"/><g clip-path="url(#sh1)"><rect width="102" height="106" fill="#0a28d0" opacity="0.08"/><ellipse cx="60" cy="42" rx="24" ry="36" fill="#0a28d0" opacity="0.5" filter="url(#bl8)"/></g><use href="#bn1" fill="#1040e6" filter="url(#bl05)" opacity="0.85"/><use href="#gh1" opacity="0.7"/>
</g></g>
<g transform="translate(241.0,515.1)"><g clip-path="url(#tc2)">
<rect x="0" y="0" width="101.4" height="105.3" fill="#000"/>
<use href="#gl2"/><g clip-path="url(#sh2)"><rect width="102" height="106" fill="#0a28d0" opacity="0.2"/></g><use href="#bn2" fill="#1040e6" filter="url(#bl05)" opacity="0.85"/><use href="#gh2" opacity="0.7"/><use href="#mn2" fill="#dc78ea" filter="url(#bl05)" opacity="0.95"/>
</g></g>
<g transform="translate(344.7,515.1)"><g clip-path="url(#tc3)">
<rect x="0" y="0" width="100.7" height="105.3" fill="#000"/>
<use href="#gl3"/><g clip-path="url(#sh3)"><rect width="102" height="106" fill="#0a28d0" opacity="0.2"/></g><use href="#bn3" fill="#1040e6" filter="url(#bl05)" opacity="0.85"/><use href="#gh3" opacity="0.7"/><use href="#mn3" fill="#dc78ea" filter="url(#bl05)" opacity="0.95"/>
</g></g>
<rect x="30.00" y="404.80" width="420.00" height="3.00" fill="#fff" stroke="none" stroke-width="1"/>
<rect x="30.00" y="512.80" width="420.00" height="3.00" fill="#fff" stroke="none" stroke-width="1"/>
<rect x="30.00" y="620.40" width="420.00" height="6.00" fill="#fff" stroke="none" stroke-width="1"/>
<text x="36.3" y="315.2" font-size="10.6" font-weight="bold" fill="#e614e6">HA-mutp53</text>
<text x="36" y="421.4" font-size="10.65" font-weight="bold" fill="#36c84e" opacity="0.95">4EBP1 pT<tspan font-size="6.5" dy="-4.2">37/46</tspan></text>
<text x="36" y="528.9" font-size="10.7" font-weight="bold" fill="#1414ff">DAPI</text>
<line x1="112.9" y1="613.7" x2="129.9" y2="613.7" stroke="#fff" stroke-width="1.4"/>
<text x="471.2" y="347.8" font-size="11.2" font-weight="bold">e</text>
<text x="583.6" y="359.5" font-size="11.9" text-anchor="middle">DCIS spheroids</text>
<line x1="537.6" y1="382.3" x2="537.6" y2="486.0" stroke="#000" stroke-width="1.6"/>
<line x1="536.8000000000001" y1="485.2" x2="641" y2="485.2" stroke="#000" stroke-width="1.6"/>
<line x1="529.9" y1="485.2" x2="537.6" y2="485.2" stroke="#000" stroke-width="1.6"/>
<text x="528.2" y="487.0" font-size="10" text-anchor="end">0</text>
<line x1="529.9" y1="451.15999999999997" x2="537.6" y2="451.15999999999997" stroke="#000" stroke-width="1.6"/>
<text x="528.2" y="452.96" font-size="10" text-anchor="end">2</text>
<line x1="529.9" y1="417.12" x2="537.6" y2="417.12" stroke="#000" stroke-width="1.6"/>
<text x="528.2" y="418.92" font-size="10" text-anchor="end">4</text>
<line x1="529.9" y1="383.08" x2="537.6" y2="383.08" stroke="#000" stroke-width="1.6"/>
<text x="528.2" y="384.88" font-size="10" text-anchor="end">6</text>
<line x1="537.6" y1="485.2" x2="537.6" y2="492.59999999999997" stroke="#000" stroke-width="1.6"/>
<text x="537.6" y="504.8" font-size="10" text-anchor="middle">0</text>
<line x1="561.85" y1="485.2" x2="561.85" y2="492.59999999999997" stroke="#000" stroke-width="1.6"/>
<text x="561.85" y="504.8" font-size="10" text-anchor="middle">50</text>
<line x1="586.1" y1="485.2" x2="586.1" y2="492.59999999999997" stroke="#000" stroke-width="1.6"/>
<text x="586.1" y="504.8" font-size="10" text-anchor="middle">100</text>
<line x1="610.35" y1="485.2" x2="610.35" y2="492.59999999999997" stroke="#000" stroke-width="1.6"/>
<text x="610.35" y="504.8" font-size="10" text-anchor="middle">150</text>
<line x1="634.6" y1="485.2" x2="634.6" y2="492.59999999999997" stroke="#000" stroke-width="1.6"/>
<text x="634.6" y="504.8" font-size="10" text-anchor="middle">200</text>
<text x="588.6" y="517.7" font-size="8.4" text-anchor="middle">Distance (μm)</text>
<text font-size="10.7" text-anchor="middle" transform="translate(500.4,435) rotate(-90)">relative 4EBP1 pT<tspan font-size="6.3" dy="-4">37-46</tspan></text>
<text x="511.7" y="435" font-size="10.7" text-anchor="middle" transform="rotate(-90 511.7 435)">fluorescence intensity</text>
<path d="M537.7,476.3 L539.9,463.0 L542.4,463.9 L544.7,472.5 L548.5,474.8 L555.1,475.3 L559.9,479.7 L565.5,477.2 L571.2,478.6 L575.0,476.7 L580.7,479.1 L588.3,478.7 L595.9,479.5 L603.5,479.5 L609.2,480.6 L613.9,479.1 L618.7,480.6 L627.2,479.1 L633.9,480.6" fill="none" stroke="#0000ff" stroke-width="2.1" stroke-dasharray="3.4 2.4" stroke-linejoin="round"/>
<path d="M537.7,459.2 L539.9,463.0 L544.7,462.6 L548.5,464.9 L553.2,466.8 L557.0,462.6 L559.9,467.7 L563.3,466.8 L567.4,459.2 L570.3,462.0 L574.1,461.1 L576.6,446.9 L579.2,442.1 L581.1,447.8 L583.6,448.8 L586.4,445.0 L589.3,418.4 L590.6,432.6 L593.1,445.0 L595.9,443.1 L599.3,428.8 L602.6,439.3 L605.4,432.6 L607.3,421.2 L609.2,426.0 L612.0,431.7 L614.9,426.9 L617.7,436.4 L620.6,420.3 L621.9,406.1 L623.4,422.2 L625.3,424.1 L628.7,399.4 L631.0,410.8 L633.5,409.9 L635.2,420.3" fill="none" stroke="#ff0000" stroke-width="2.1" stroke-dasharray="3.4 2.4" stroke-linejoin="round"/>
<line x1="532.8" y1="543.4" x2="552.5" y2="543.4" stroke="#0000ff" stroke-width="1.6" stroke-dasharray="4.2 3.4"/>
<text x="554.7" y="546.2" font-size="9.5">empty low AA</text>
<line x1="532.8" y1="556.6" x2="552.5" y2="556.6" stroke="#ff0000" stroke-width="1.6" stroke-dasharray="4.2 3.4"/>
<text x="554.7" y="559.5" font-size="9.5">p53R280K low AA</text>
<text x="0" y="668.8" font-size="11.2" font-weight="bold">f</text>
<text x="122.6" y="692.2" font-size="11.9" text-anchor="middle">DCIS spheroids</text>
<line x1="75.3" y1="702.8" x2="75.3" y2="806.0" stroke="#000" stroke-width="1.0"/>
<line x1="74.8" y1="805.5" x2="178" y2="805.5" stroke="#000" stroke-width="1.0"/>
<line x1="68.0" y1="805.5" x2="75.3" y2="805.5" stroke="#000" stroke-width="1.0"/>
<text x="66.7" y="807.5" font-size="10.6" text-anchor="end">0.0</text>
<line x1="68.0" y1="785.06" x2="75.3" y2="785.06" stroke="#000" stroke-width="1.0"/>
<text x="66.7" y="787.06" font-size="10.6" text-anchor="end">0.2</text>
<line x1="68.0" y1="764.62" x2="75.3" y2="764.62" stroke="#000" stroke-width="1.0"/>
<text x="66.7" y="766.62" font-size="10.6" text-anchor="end">0.4</text>
<line x1="68.0" y1="744.18" x2="75.3" y2="744.18" stroke="#000" stroke-width="1.0"/>
<text x="66.7" y="746.18" font-size="10.6" text-anchor="end">0.6</text>
<line x1="68.0" y1="723.74" x2="75.3" y2="723.74" stroke="#000" stroke-width="1.0"/>
<text x="66.7" y="725.74" font-size="10.6" text-anchor="end">0.8</text>
<line x1="68.0" y1="703.3" x2="75.3" y2="703.3" stroke="#000" stroke-width="1.0"/>
<text x="66.7" y="705.3" font-size="10.6" text-anchor="end">1.0</text>
<line x1="75.3" y1="805.5" x2="75.3" y2="812.3" stroke="#000" stroke-width="1.0"/>
<text x="75.3" y="823.6" font-size="10.3" text-anchor="middle">0</text>
<line x1="99.625" y1="805.5" x2="99.625" y2="812.3" stroke="#000" stroke-width="1.0"/>
<text x="99.625" y="823.6" font-size="10.3" text-anchor="middle">50</text>
<line x1="123.94999999999999" y1="805.5" x2="123.94999999999999" y2="812.3" stroke="#000" stroke-width="1.0"/>
<text x="123.94999999999999" y="823.6" font-size="10.3" text-anchor="middle">100</text>
<line x1="148.27499999999998" y1="805.5" x2="148.27499999999998" y2="812.3" stroke="#000" stroke-width="1.0"/>
<text x="148.27499999999998" y="823.6" font-size="10.3" text-anchor="middle">150</text>
<line x1="172.6" y1="805.5" x2="172.6" y2="812.3" stroke="#000" stroke-width="1.0"/>
<text x="172.6" y="823.6" font-size="10.3" text-anchor="middle">200</text>
<text x="123.6" y="835.8" font-size="8.4" text-anchor="middle">Distance (μm)</text>
<text x="32.6" y="753.5" font-size="10.65" text-anchor="middle" transform="rotate(-90 32.6 753.5)">relative HA (mutp53)</text>
<text x="44.7" y="753.5" font-size="10.65" text-anchor="middle" transform="rotate(-90 44.7 753.5)">fluorescence intensity</text>
<path d="M75.3,786.1 L77.6,792.2 L79.2,795.3 L80.7,790.1 L82.7,786.1 L84.7,791.2 L86.8,788.1 L88.8,784.0 L90.9,788.1 L92.9,790.1 L96.0,788.1 L98.0,785.0 L100.1,792.2 L102.1,786.1 L104.2,778.9 L106.2,783.0 L108.2,786.1 L110.3,790.1 L112.3,786.1 L114.4,782.0 L116.4,786.1 L118.5,789.1 L120.5,787.1 L122.6,784.0 L124.6,782.0 L126.6,787.1 L128.7,782.0 L130.7,771.7 L132.2,770.7 L133.8,777.9 L135.4,783.0 L137.5,779.9 L138.9,771.7 L139.9,767.7 L141.6,771.7 L143.0,775.8 L145.0,776.9 L147.1,782.0 L150.1,780.9 L152.2,777.9 L154.2,774.8 L156.3,782.0 L158.3,786.1 L160.4,790.1 L162.4,784.0 L164.4,780.9 L166.5,783.0 L168.5,790.1 L170.6,786.1 L172.6,782.0" fill="none" stroke="#ff0000" stroke-width="2.1" stroke-linejoin="round"/>
<path d="M75.3,786.1 L76.6,790.1 L78.6,786.1 L80.7,783.0 L82.7,779.9 L83.7,783.0 L85.8,792.2 L88.8,795.3 L91.9,795.3 L93.9,790.1 L96.0,786.1 L98.0,788.1 L100.1,790.1 L102.1,784.0 L104.2,778.9 L106.2,779.9 L108.2,780.9 L110.3,786.1 L112.3,778.9 L115.4,774.8 L118.5,773.8 L120.5,773.8 L122.6,768.7 L124.6,766.6 L126.6,761.5 L127.7,749.3 L129.3,750.3 L130.7,763.6 L132.8,761.5 L134.8,759.5 L136.9,758.5 L138.9,760.5 L140.9,765.6 L143.0,761.5 L145.0,751.3 L148.1,743.1 L150.1,737.0 L152.2,731.9 L153.2,741.1 L154.6,757.4 L156.3,751.3 L158.3,750.3 L160.4,741.1 L162.0,749.3 L163.6,757.4 L165.5,747.2 L166.9,741.1 L168.5,744.2 L170.6,739.0 L171.8,720.7 L173.0,709.4" fill="none" stroke="#ff0000" stroke-width="2.2" stroke-dasharray="4.5 2.2 1.6 2.2" stroke-linejoin="round"/>
<line x1="77.9" y1="856.6" x2="96.4" y2="856.6" stroke="#ff0000" stroke-width="1.5"/>
<text x="99" y="858.8" font-size="9.55">p53R280K CM</text>
<line x1="77.9" y1="867.7" x2="96.4" y2="867.7" stroke="#ff0000" stroke-width="1.7" stroke-dasharray="5 2.2 1.6 2.2"/>
<text x="99" y="870.0" font-size="9.55">p53R280K low AA</text>
<text x="205.3" y="669.3" font-size="11.2" font-weight="bold">g</text>
<text x="292.4" y="683.7" font-size="10.65" text-anchor="middle">MDA-231</text>
<text x="295" y="698" font-size="9.55" text-anchor="middle">Amino acids %</text>
<text x="251.4" y="712.2" font-size="8.2" text-anchor="middle">100</text>
<text x="270.6" y="712.2" font-size="8.2" text-anchor="middle">75</text>
<text x="287.3" y="712.2" font-size="8.2" text-anchor="middle">50</text>
<text x="304.8" y="712.2" font-size="8.2" text-anchor="middle">25</text>
<text x="325.3" y="712.2" font-size="8.2" text-anchor="middle">12,5</text>
<text x="343.8" y="712.2" font-size="8.2" text-anchor="middle">5</text>
<clipPath id="bc239_715"><rect x="239.3" y="715.2" width="113.1" height="18.9"/></clipPath>
<rect x="239.30" y="715.20" width="113.10" height="18.90" fill="#d6d6d6" stroke="none" stroke-width="1"/>
<g clip-path="url(#bc239_715)"><g filter="url(#wb)">
<rect x="242.8" y="723.3" width="15.6" height="5.0" rx="5.4" ry="2.5" fill="#0a0a0a" opacity="1"/>
<rect x="259.9" y="723.4" width="15.1" height="4.8" rx="5.2" ry="2.4" fill="#0a0a0a" opacity="1"/>
<rect x="278.2" y="722.0" width="15.6" height="5.4" rx="5.4" ry="2.7" fill="#0a0a0a" opacity="1"/>
<rect x="296.6" y="720.0" width="16.1" height="6.9" rx="5.6" ry="3.4" fill="#050505" opacity="1"/>
<rect x="315.8" y="719.7" width="16.1" height="7.5" rx="5.6" ry="3.7" fill="#050505" opacity="1"/>
<rect x="335.7" y="719.5" width="16.1" height="8.1" rx="5.6" ry="4.1" fill="#050505" opacity="1"/>
</g></g>
<rect x="239.30" y="715.20" width="113.10" height="18.90" fill="none" stroke="#2a2a2a" stroke-width="0.9"/>
<clipPath id="bc239_736"><rect x="239.3" y="736.2" width="113.1" height="18.9"/></clipPath>
<rect x="239.30" y="736.20" width="113.10" height="18.90" fill="#d6d6d6" stroke="none" stroke-width="1"/>
<g clip-path="url(#bc239_736)"><g filter="url(#wb)">
<rect x="242.3" y="743.6" width="16.6" height="4.8" rx="5.8" ry="2.4" fill="#0a0a0a" opacity="1"/>
<rect x="258.6" y="743.3" width="17.7" height="5.4" rx="6.1" ry="2.7" fill="#0a0a0a" opacity="1"/>
<rect x="276.6" y="743.1" width="18.7" height="5.8" rx="6.5" ry="2.9" fill="#0a0a0a" opacity="1"/>
<rect x="294.6" y="741.9" width="20.3" height="8.1" rx="7.0" ry="4.1" fill="#050505" opacity="1"/>
<rect x="313.8" y="741.9" width="20.3" height="8.1" rx="7.0" ry="4.1" fill="#050505" opacity="1"/>
<rect x="333.1" y="740.5" width="21.3" height="11.0" rx="7.4" ry="5.5" fill="#030303" opacity="1"/>
<rect x="247.2" y="745.4" width="100.0" height="1.2" fill="#222" opacity="0.7"/>
</g></g>
<rect x="239.30" y="736.20" width="113.10" height="18.90" fill="none" stroke="#2a2a2a" stroke-width="0.9"/>
<clipPath id="bc239_757"><rect x="239.3" y="757.2" width="113.1" height="19.2"/></clipPath>
<rect x="239.30" y="757.20" width="113.10" height="19.20" fill="#d6d6d6" stroke="none" stroke-width="1"/>
<g clip-path="url(#bc239_757)"><g filter="url(#wb)">
<rect x="242.8" y="762.7" width="15.6" height="3.1" rx="5.4" ry="1.6" fill="#0a0a0a" opacity="1"/>
<rect x="259.6" y="762.3" width="15.6" height="3.1" rx="5.4" ry="1.6" fill="#0a0a0a" opacity="1"/>
<rect x="278.2" y="761.9" width="15.6" height="2.9" rx="5.4" ry="1.5" fill="#0a0a0a" opacity="1"/>
<rect x="296.9" y="761.1" width="15.6" height="3.0" rx="5.4" ry="1.5" fill="#0a0a0a" opacity="1"/>
<rect x="316.1" y="761.2" width="15.6" height="2.8" rx="5.4" ry="1.4" fill="#0a0a0a" opacity="1"/>
<rect x="336.0" y="761.5" width="15.6" height="3.0" rx="5.4" ry="1.5" fill="#0a0a0a" opacity="1"/>
</g></g>
<rect x="239.30" y="757.20" width="113.10" height="19.20" fill="none" stroke="#2a2a2a" stroke-width="0.9"/>
<text x="238.6" y="730.7" font-size="10.1" text-anchor="end">p53</text>
<text x="238.6" y="749.8" font-size="10.1" text-anchor="end">PSAT1</text>
<text x="238.6" y="769.3" font-size="10.1" text-anchor="end">HSP90</text>
<line x1="352.4" y1="721.6" x2="357.6" y2="721.6" stroke="#222" stroke-width="0.8"/>
<text x="359.2" y="723.6" font-size="7.2" fill="#222">55kDa</text>
<line x1="352.4" y1="742" x2="357.6" y2="742" stroke="#222" stroke-width="0.8"/>
<text x="359.2" y="744.0" font-size="7.2" fill="#222">43kDa</text>
<line x1="352.4" y1="760" x2="357.6" y2="760" stroke="#222" stroke-width="0.8"/>
<text x="359.2" y="762.0" font-size="7.2" fill="#222">95kDa</text>
<line x1="260.1" y1="813.9" x2="260.1" y2="899.5" stroke="#000" stroke-width="1.5"/>
<line x1="259.40000000000003" y1="898.8" x2="345.3" y2="898.8" stroke="#000" stroke-width="1.5"/>
<line x1="255.10000000000002" y1="898.8" x2="260.1" y2="898.8" stroke="#000" stroke-width="1.5"/>
<text x="254.90000000000003" y="901.5" font-size="11" text-anchor="end">0</text>
<line x1="255.10000000000002" y1="866.25" x2="260.1" y2="866.25" stroke="#000" stroke-width="1.5"/>
<text x="254.90000000000003" y="868.95" font-size="11" text-anchor="end">100</text>
<line x1="255.10000000000002" y1="833.6999999999999" x2="260.1" y2="833.6999999999999" stroke="#000" stroke-width="1.5"/>
<text x="254.90000000000003" y="836.4" font-size="11" text-anchor="end">200</text>
<text x="235.2" y="853.6" font-size="10.66" text-anchor="middle" transform="rotate(-90 235.2 853.6)">relative p53 band intensity</text>
<rect x="265.05" y="866.25" width="10.60" height="32.15" fill="#fff" stroke="#ff1414" stroke-width="1.9"/>
<rect x="277.85" y="866.58" width="10.50" height="31.82" fill="#fff" stroke="#ff1414" stroke-width="1.9"/>
<line x1="283.1" y1="864.948" x2="283.1" y2="868.203" stroke="#000" stroke-width="1.0"/>
<line x1="280.70000000000005" y1="864.948" x2="285.5" y2="864.948" stroke="#000" stroke-width="1.0"/>
<line x1="280.70000000000005" y1="868.203" x2="285.5" y2="868.203" stroke="#000" stroke-width="1.0"/>
<rect x="290.95" y="861.50" width="10.50" height="36.90" fill="#fff" stroke="#ff1414" stroke-width="1.9"/>
<line x1="296.2" y1="854.0111999999999" x2="296.2" y2="868.9842" stroke="#000" stroke-width="1.0"/>
<line x1="293.8" y1="854.0111999999999" x2="298.59999999999997" y2="854.0111999999999" stroke="#000" stroke-width="1.0"/>
<line x1="293.8" y1="868.9842" x2="298.59999999999997" y2="868.9842" stroke="#000" stroke-width="1.0"/>
<rect x="304.15" y="854.21" width="10.20" height="44.19" fill="#fff" stroke="#ff1414" stroke-width="1.9"/>
<line x1="309.25" y1="847.2082499999999" x2="309.25" y2="861.20475" stroke="#000" stroke-width="1.0"/>
<line x1="306.85" y1="847.2082499999999" x2="311.65" y2="847.2082499999999" stroke="#000" stroke-width="1.0"/>
<line x1="306.85" y1="861.20475" x2="311.65" y2="861.20475" stroke="#000" stroke-width="1.0"/>
<rect x="316.95" y="850.50" width="10.10" height="47.90" fill="#fff" stroke="#ff1414" stroke-width="1.9"/>
<line x1="322.0" y1="838.1268" x2="322.0" y2="862.8648" stroke="#000" stroke-width="1.0"/>
<line x1="319.6" y1="838.1268" x2="324.4" y2="838.1268" stroke="#000" stroke-width="1.0"/>
<line x1="319.6" y1="862.8648" x2="324.4" y2="862.8648" stroke="#000" stroke-width="1.0"/>
<rect x="330.15" y="844.21" width="9.70" height="54.19" fill="#fff" stroke="#ff1414" stroke-width="1.9"/>
<line x1="335.0" y1="825.98565" x2="335.0" y2="862.44165" stroke="#000" stroke-width="1.0"/>
<line x1="332.6" y1="825.98565" x2="337.4" y2="825.98565" stroke="#000" stroke-width="1.0"/>
<line x1="332.6" y1="862.44165" x2="337.4" y2="862.44165" stroke="#000" stroke-width="1.0"/>
<circle cx="265.90" cy="866.50" r="2.9" fill="#ff0a0a"/>
<circle cx="268.90" cy="866.50" r="2.9" fill="#ff0a0a"/>
<circle cx="271.80" cy="866.50" r="2.9" fill="#ff0a0a"/>
<circle cx="274.70" cy="866.50" r="2.9" fill="#ff0a0a"/>
<circle cx="282.70" cy="859.90" r="2.9" fill="#ff0a0a"/>
<circle cx="281.30" cy="866.50" r="2.9" fill="#ff0a0a"/>
<circle cx="283.50" cy="870.90" r="2.9" fill="#ff0a0a"/>
<circle cx="285.00" cy="868.00" r="2.9" fill="#ff0a0a"/>
<circle cx="295.90" cy="849.70" r="2.9" fill="#ff0a0a"/>
<circle cx="296.20" cy="858.50" r="2.9" fill="#ff0a0a"/>
<circle cx="293.20" cy="868.20" r="2.9" fill="#ff0a0a"/>
<circle cx="300.00" cy="866.50" r="2.9" fill="#ff0a0a"/>
<circle cx="304.90" cy="846.40" r="2.9" fill="#ff0a0a"/>
<circle cx="311.60" cy="849.00" r="2.9" fill="#ff0a0a"/>
<circle cx="312.70" cy="856.00" r="2.9" fill="#ff0a0a"/>
<circle cx="306.10" cy="861.80" r="2.9" fill="#ff0a0a"/>
<circle cx="321.90" cy="835.10" r="2.9" fill="#ff0a0a"/>
<circle cx="321.90" cy="845.30" r="2.9" fill="#ff0a0a"/>
<circle cx="319.20" cy="861.40" r="2.9" fill="#ff0a0a"/>
<circle cx="325.80" cy="858.50" r="2.9" fill="#ff0a0a"/>
<circle cx="334.80" cy="816.90" r="2.9" fill="#ff0a0a"/>
<circle cx="333.80" cy="849.00" r="2.9" fill="#ff0a0a"/>
<circle cx="336.00" cy="853.10" r="2.9" fill="#ff0a0a"/>
<circle cx="334.60" cy="856.30" r="2.9" fill="#ff0a0a"/>
<line x1="263.6" y1="867.1" x2="344.5" y2="867.1" stroke="#000" stroke-width="1.6" stroke-dasharray="1.6 2.05"/>
<text x="310.3" y="841" font-size="6.8" transform="rotate(-90 310.3 841)">p=0.034</text>
<text x="336.2" y="811.8" font-size="6.8" transform="rotate(-90 336.2 811.8)">p=0.046</text>
<text font-size="10.6" text-anchor="end" transform="translate(277.4,905.8) rotate(-45)">100</text>
<text font-size="10.6" text-anchor="end" transform="translate(290.1,905.8) rotate(-45)">75</text>
<text font-size="10.6" text-anchor="end" transform="translate(303.2,905.8) rotate(-45)">50</text>
<text font-size="10.6" text-anchor="end" transform="translate(316.2,905.8) rotate(-45)">25</text>
<text font-size="10.6" text-anchor="end" transform="translate(329.0,905.8) rotate(-45)">12,5</text>
<text font-size="10.6" text-anchor="end" transform="translate(342.0,905.8) rotate(-45)">5</text>
<text x="342.4" y="912.3" font-size="10.3">(%AA)</text>
<text x="400.3" y="669.4" font-size="11.2" font-weight="bold">h</text>
<text x="485" y="679.3" font-size="10.5" text-anchor="middle">MDA-231</text>
<text x="466.8" y="698.5" font-size="6.9" text-anchor="middle">CM</text>
<text x="495.9" y="698.5" font-size="7.0" text-anchor="middle">lowAA</text>
<line x1="481" y1="703.5" x2="512.8" y2="703.5" stroke="#000" stroke-width="0.8"/>
<text x="416.4" y="712.7" font-size="10.7">GCN2i</text>
<text x="468.5" y="712.6" font-size="9.5" text-anchor="middle">-</text>
<text x="486.5" y="712.6" font-size="9.5" text-anchor="middle">-</text>
<text x="502.7" y="713" font-size="8.5" text-anchor="middle">+</text>
<clipPath id="bc458_715"><rect x="458.2" y="715.3" width="55.4" height="19.3"/></clipPath>
<rect x="458.20" y="715.30" width="55.40" height="19.30" fill="#c9c9c9" stroke="none" stroke-width="1"/>
<g clip-path="url(#bc458_715)"><g filter="url(#wb)">
<rect x="460.4" y="722.7" width="16.1" height="6.2" rx="5.6" ry="3.1" fill="#060606" opacity="1"/>
<rect x="477.7" y="721.6" width="16.1" height="7.7" rx="5.6" ry="3.8" fill="#040404" opacity="1"/>
<rect x="495.1" y="723.5" width="15.6" height="5.8" rx="5.4" ry="2.9" fill="#060606" opacity="1"/>
</g></g>
<rect x="458.20" y="715.30" width="55.40" height="19.30" fill="none" stroke="#2a2a2a" stroke-width="0.9"/>
<clipPath id="bc458_740"><rect x="458.2" y="740" width="55.4" height="18.7"/></clipPath>
<rect x="458.20" y="740.00" width="55.40" height="18.70" fill="#cdcdcd" stroke="none" stroke-width="1"/>
<g clip-path="url(#bc458_740)"><g filter="url(#wb)">
<rect x="461.0" y="750.7" width="15.1" height="4.2" rx="5.2" ry="2.1" fill="#0a0a0a" opacity="1"/>
<rect x="477.7" y="750.1" width="16.1" height="5.4" rx="5.6" ry="2.7" fill="#060606" opacity="1"/>
<rect x="497.4" y="751.8" width="10.9" height="2.7" rx="3.8" ry="1.4" fill="#555" opacity="0.85"/>
</g></g>
<rect x="458.20" y="740.00" width="55.40" height="18.70" fill="none" stroke="#2a2a2a" stroke-width="0.9"/>
<clipPath id="bc458_764"><rect x="458.2" y="764.2" width="55.4" height="18.8"/></clipPath>
<rect x="458.20" y="764.20" width="55.40" height="18.80" fill="#c3c3c3" stroke="none" stroke-width="1"/>
<g clip-path="url(#bc458_764)"><g filter="url(#wb)">
<rect x="461.7" y="771.2" width="13.5" height="3.1" rx="4.7" ry="1.6" fill="#555" opacity="0.9"/>
<rect x="478.8" y="770.6" width="14.0" height="3.5" rx="4.9" ry="1.8" fill="#4a4a4a" opacity="0.9"/>
<rect x="496.1" y="771.1" width="13.5" height="3.3" rx="4.7" ry="1.7" fill="#505050" opacity="0.9"/>
</g></g>
<rect x="458.20" y="764.20" width="55.40" height="18.80" fill="none" stroke="#2a2a2a" stroke-width="0.9"/>
<clipPath id="bc458_788"><rect x="458.2" y="788.2" width="55.4" height="18.8"/></clipPath>
<rect x="458.20" y="788.20" width="55.40" height="18.80" fill="#bebebe" stroke="none" stroke-width="1"/>
<g clip-path="url(#bc458_788)"><g filter="url(#wb)">
<rect x="461.0" y="794.1" width="15.1" height="4.4" rx="5.2" ry="2.2" fill="#333" opacity="0.95"/>
<rect x="478.8" y="794.6" width="14.0" height="4.0" rx="4.9" ry="2.0" fill="#444" opacity="0.9"/>
<rect x="495.4" y="794.6" width="15.1" height="4.4" rx="5.2" ry="2.2" fill="#383838" opacity="0.95"/>
</g></g>
<rect x="458.20" y="788.20" width="55.40" height="18.80" fill="none" stroke="#2a2a2a" stroke-width="0.9"/>
<clipPath id="bc458_812"><rect x="458.2" y="812.1" width="55.4" height="19.3"/></clipPath>
<rect x="458.20" y="812.10" width="55.40" height="19.30" fill="#cfcfcf" stroke="none" stroke-width="1"/>
<g clip-path="url(#bc458_812)"><g filter="url(#wb)">
<rect x="461.2" y="819.8" width="14.6" height="3.3" rx="5.0" ry="1.7" fill="#0a0a0a" opacity="1"/>
<rect x="479.0" y="820.3" width="13.5" height="3.0" rx="4.7" ry="1.5" fill="#0e0e0e" opacity="1"/>
<rect x="495.6" y="819.8" width="14.6" height="3.4" rx="5.0" ry="1.7" fill="#0a0a0a" opacity="1"/>
</g></g>
<rect x="458.20" y="812.10" width="55.40" height="19.30" fill="none" stroke="#2a2a2a" stroke-width="0.9"/>
<text x="454.1" y="731.4" font-size="10.4" text-anchor="end">p53</text>
<text x="454.1" y="754.9" font-size="10.4" text-anchor="end">PSAT1</text>
<text x="454.1" y="802" font-size="10.5" text-anchor="end">eIF2α</text>
<text x="454.1" y="825.4" font-size="10.4" text-anchor="end">HSP90</text>
<text x="451.4" y="780.6" font-size="10.6" text-anchor="end">eIF2α pS<tspan font-size="6.8" dy="-4.2">51</tspan></text>
<line x1="513.6" y1="726" x2="518" y2="726" stroke="#222" stroke-width="0.8"/>
<text x="519.3" y="727.5" font-size="7.05" fill="#222">55kDa</text>
<line x1="513.6" y1="745.6" x2="518" y2="745.6" stroke="#222" stroke-width="0.8"/>
<text x="519.3" y="747.1" font-size="7.05" fill="#222">43kDa</text>
<line x1="513.6" y1="773.4" x2="518" y2="773.4" stroke="#222" stroke-width="0.8"/>
<text x="519.3" y="774.9" font-size="7.05" fill="#222">34kDa</text>
<line x1="513.6" y1="796.4" x2="518" y2="796.4" stroke="#222" stroke-width="0.8"/>
<text x="519.3" y="797.9" font-size="7.05" fill="#222">34kDa</text>
<line x1="513.6" y1="819.4" x2="518" y2="819.4" stroke="#222" stroke-width="0.8"/>
<text x="519.3" y="820.9" font-size="7.05" fill="#222">95kDa</text>
<line x1="596.6" y1="688.77" x2="596.6" y2="826.75" stroke="#000" stroke-width="1.5"/>
<line x1="595.85" y1="826.0" x2="648.8" y2="826.0" stroke="#000" stroke-width="1.5"/>
<line x1="590.8000000000001" y1="826.0" x2="596.6" y2="826.0" stroke="#000" stroke-width="1.5"/>
<text x="589.2" y="830.6" font-size="10.7" text-anchor="end">80</text>
<line x1="590.8000000000001" y1="791.88" x2="596.6" y2="791.88" stroke="#000" stroke-width="1.5"/>
<text x="589.2" y="796.48" font-size="10.7" text-anchor="end">100</text>
<line x1="590.8000000000001" y1="757.76" x2="596.6" y2="757.76" stroke="#000" stroke-width="1.5"/>
<text x="589.2" y="762.36" font-size="10.7" text-anchor="end">120</text>
<line x1="590.8000000000001" y1="723.64" x2="596.6" y2="723.64" stroke="#000" stroke-width="1.5"/>
<text x="589.2" y="728.24" font-size="10.7" text-anchor="end">140</text>
<line x1="590.8000000000001" y1="689.52" x2="596.6" y2="689.52" stroke="#000" stroke-width="1.5"/>
<text x="589.2" y="694.12" font-size="10.7" text-anchor="end">160</text>
<text x="561.9" y="758" font-size="10.74" text-anchor="middle" transform="rotate(-90 561.9 758)">relative p53 band intensity</text>
<rect x="603.05" y="791.88" width="10.00" height="33.62" fill="#fff" stroke="#1414c4" stroke-width="1.7"/>
<rect x="617.55" y="727.05" width="9.00" height="98.45" fill="url(#hw)" stroke="#1414c4" stroke-width="1.7"/>
<line x1="622.05" y1="707.433" x2="622.05" y2="746.671" stroke="#000" stroke-width="1.0"/>
<line x1="619.4499999999999" y1="707.433" x2="624.65" y2="707.433" stroke="#000" stroke-width="1.0"/>
<line x1="619.4499999999999" y1="746.671" x2="624.65" y2="746.671" stroke="#000" stroke-width="1.0"/>
<rect x="631.35" y="772.77" width="9.00" height="52.73" fill="url(#hw)" stroke="#ff1414" stroke-width="1.7"/>
<line x1="635.85" y1="749.7418" x2="635.85" y2="795.8038" stroke="#000" stroke-width="1.0"/>
<line x1="633.25" y1="749.7418" x2="638.45" y2="749.7418" stroke="#000" stroke-width="1.0"/>
<line x1="633.25" y1="795.8038" x2="638.45" y2="795.8038" stroke="#000" stroke-width="1.0"/>
<circle cx="604.60" cy="791.40" r="3.0" fill="#1010d0"/>
<circle cx="607.00" cy="791.40" r="3.0" fill="#1010d0"/>
<circle cx="609.60" cy="791.40" r="3.0" fill="#1010d0"/>
<circle cx="611.80" cy="791.40" r="3.0" fill="#1010d0"/>
<circle cx="618.60" cy="709.30" r="2.4" fill="#1010d8" stroke="#000" stroke-width="0.7"/>
<path d="M618.60 706.90 A2.4 2.4 0 0 0 618.60 711.70 Z" fill="#000"/>
<circle cx="622.10" cy="711.70" r="2.4" fill="#1010d8" stroke="#000" stroke-width="0.7"/>
<path d="M622.10 709.30 A2.4 2.4 0 0 0 622.10 714.10 Z" fill="#000"/>
<circle cx="621.40" cy="735.00" r="2.4" fill="#1010d8" stroke="#000" stroke-width="0.7"/>
<path d="M621.40 732.60 A2.4 2.4 0 0 0 621.40 737.40 Z" fill="#000"/>
<circle cx="621.40" cy="749.30" r="2.4" fill="#1010d8" stroke="#000" stroke-width="0.7"/>
<path d="M621.40 746.90 A2.4 2.4 0 0 0 621.40 751.70 Z" fill="#000"/>
<circle cx="635.70" cy="741.00" r="2.4" fill="#ff0000" stroke="#000" stroke-width="0.7"/>
<path d="M635.70 738.60 A2.4 2.4 0 0 0 635.70 743.40 Z" fill="#000"/>
<circle cx="635.70" cy="767.60" r="2.4" fill="#ff0000" stroke="#000" stroke-width="0.7"/>
<path d="M635.70 765.20 A2.4 2.4 0 0 0 635.70 770.00 Z" fill="#000"/>
<circle cx="635.70" cy="786.00" r="2.4" fill="#ff0000" stroke="#000" stroke-width="0.7"/>
<path d="M635.70 783.60 A2.4 2.4 0 0 0 635.70 788.40 Z" fill="#000"/>
<circle cx="635.70" cy="794.30" r="2.4" fill="#ff0000" stroke="#000" stroke-width="0.7"/>
<path d="M635.70 791.90 A2.4 2.4 0 0 0 635.70 796.70 Z" fill="#000"/>
<line x1="606.7" y1="681.2" x2="632.1" y2="681.2" stroke="#000" stroke-width="0.9"/>
<text x="619.5" y="678.8" font-size="6.8" text-anchor="middle">n.s</text>
<line x1="622.1" y1="691" x2="636.2" y2="691" stroke="#000" stroke-width="0.9"/>
<text x="630.5" y="689.5" font-size="6.8" text-anchor="middle">p=0.04</text>
<line x1="605" y1="701.6" x2="620.6" y2="701.6" stroke="#000" stroke-width="0.9"/>
<text x="612.4" y="700.2" font-size="6.8" text-anchor="middle">p=0.006</text>
<rect x="591.30" y="845.65" width="16.20" height="6.70" fill="#fff" stroke="#1414c4" stroke-width="1.6"/>
<text x="616.7" y="852.8" font-size="10.6">NT CM</text>
<rect x="591.30" y="858.35" width="16.20" height="6.70" fill="url(#hwl)" stroke="#1414c4" stroke-width="1.6"/>
<text x="616.7" y="865.5" font-size="10.6">NT low AA</text>
<rect x="591.30" y="871.45" width="16.20" height="6.70" fill="url(#hwl)" stroke="#ff1414" stroke-width="1.6"/>
<text x="616.7" y="878.5999999999999" font-size="10.6">GCN2i low AA</text>
</svg>
</body></html>
